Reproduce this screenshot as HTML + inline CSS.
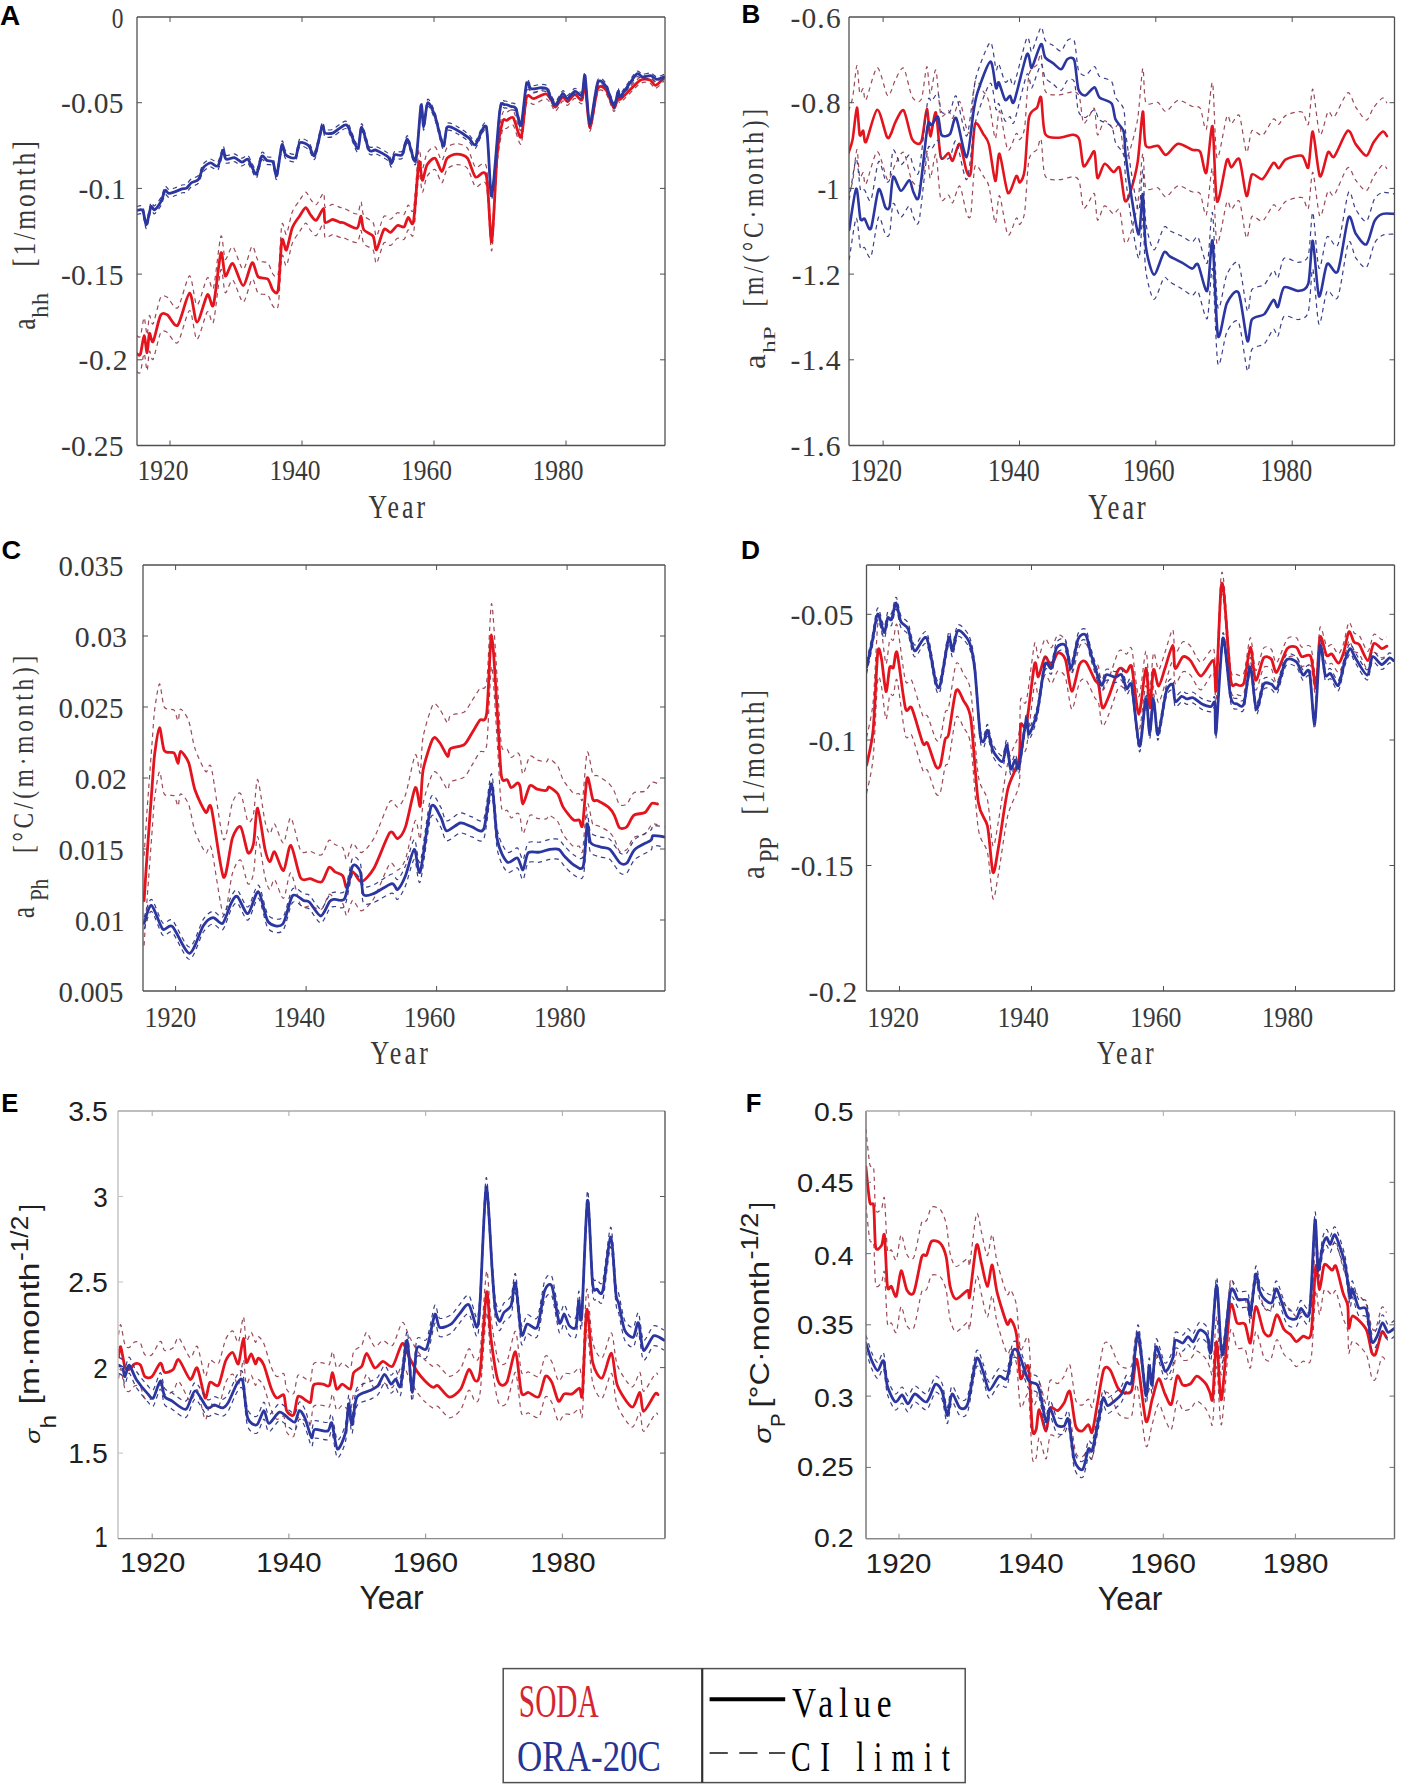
<!DOCTYPE html>
<html><head><meta charset="utf-8"><style>
html,body{margin:0;padding:0;background:#fff;}
body{width:1410px;height:1788px;overflow:hidden;font-family:"Liberation Sans",sans-serif;}
svg{position:absolute;left:0;top:0;}
</style></head><body>
<svg width="1410" height="1788" viewBox="0 0 1410 1788">
<defs><clipPath id="clipA"><rect x="137.0" y="17.0" width="528.0" height="428.5"/></clipPath>
<clipPath id="clipB"><rect x="849.0" y="17.0" width="545.5" height="428.5"/></clipPath>
<clipPath id="clipC"><rect x="143.0" y="565.0" width="522.0" height="426.0"/></clipPath>
<clipPath id="clipD"><rect x="866.5" y="565.0" width="528.0" height="426.0"/></clipPath>
<clipPath id="clipE"><rect x="118.0" y="1111.0" width="547.0" height="427.6"/></clipPath>
<clipPath id="clipF"><rect x="866.0" y="1111.0" width="528.5" height="427.7"/></clipPath></defs>
<path d="M136.7,335.5 C137.2,335.6 139.4,338.7 140.4,336.3 C141.4,334.0 143.2,317.9 144.1,317.7 C145.0,317.5 146.4,335.2 147.1,334.9 C147.8,334.7 148.6,317.1 149.4,315.6 C150.2,314.1 151.6,326.2 153.1,323.8 C154.6,321.5 158.6,301.4 160.5,297.8 C162.4,294.3 164.9,295.9 167.2,297.2 C169.5,298.5 174.7,310.6 177.7,307.8 C180.7,304.9 187.0,276.3 189.6,275.9 C192.2,275.6 194.6,304.8 197.0,305.0 C199.4,305.3 205.2,279.9 207.4,277.7 C209.6,275.4 211.6,293.7 213.4,288.2 C215.2,282.6 219.3,240.0 220.9,236.2 C222.5,232.3 223.7,257.8 225.3,259.2 C226.9,260.6 230.4,245.4 232.8,246.8 C235.2,248.1 240.6,269.3 243.2,269.2 C245.8,269.2 250.1,247.5 252.1,246.3 C254.1,245.2 256.0,258.3 258.1,260.5 C260.2,262.7 265.8,261.1 267.8,262.9 C269.8,264.7 271.6,272.7 273.0,274.2 C274.4,275.6 277.0,280.2 278.2,273.5 C279.4,266.9 280.8,229.7 281.9,224.4 C283.0,219.2 285.0,235.8 286.4,234.2 C287.8,232.5 290.5,216.5 292.3,212.0 C294.1,207.4 298.0,202.7 299.8,200.1 C301.6,197.4 304.3,192.2 305.7,192.1 C307.1,191.9 308.8,197.1 310.2,198.8 C311.6,200.5 314.4,205.6 316.2,204.8 C318.0,204.1 322.4,192.7 323.6,193.0 C324.8,193.4 323.9,205.7 325.1,207.2 C326.3,208.7 330.6,204.4 332.6,204.4 C334.6,204.4 338.5,206.9 340.0,207.4 C341.5,207.9 341.2,207.1 343.5,207.9 C345.8,208.8 354.7,214.7 357.0,213.9 C359.3,213.1 360.1,201.7 361.0,201.9 C361.9,202.1 362.1,212.8 363.7,215.5 C365.3,218.3 371.4,219.8 373.1,222.6 C374.8,225.3 375.1,237.0 376.5,236.2 C377.9,235.4 382.0,218.5 383.9,216.3 C385.8,214.0 388.8,219.7 390.6,219.2 C392.4,218.8 395.6,213.4 397.4,212.7 C399.2,212.1 402.7,215.4 404.1,214.4 C405.5,213.3 406.9,205.7 408.2,205.0 C409.5,204.4 412.1,216.6 413.5,209.3 C414.9,202.0 417.7,155.7 418.9,150.2 C420.1,144.8 421.2,168.2 422.3,168.6 C423.4,169.0 425.3,156.1 427.0,153.3 C428.7,150.4 433.1,145.9 435.1,146.9 C437.1,147.8 440.2,160.5 441.8,160.5 C443.4,160.6 445.2,149.6 447.2,147.3 C449.2,145.1 454.0,143.5 456.7,143.6 C459.4,143.7 464.9,145.0 467.4,148.1 C469.9,151.3 473.0,164.8 475.5,167.2 C478.0,169.7 484.1,157.7 486.3,166.4 C488.5,175.1 490.3,235.2 491.7,232.6 C493.1,229.9 495.7,162.6 497.1,146.7 C498.5,130.8 501.2,118.0 502.5,113.4 C503.8,108.9 505.1,112.8 506.5,112.4 C507.9,112.0 511.4,108.1 513.3,110.5 C515.2,112.9 519.3,133.0 521.1,130.4 C522.9,127.9 524.8,96.1 526.5,91.1 C528.2,86.1 531.2,93.2 533.8,92.9 C536.4,92.6 543.4,88.4 545.8,88.9 C548.2,89.3 550.5,94.6 551.8,96.5 C553.1,98.3 554.0,103.2 555.5,102.7 C557.0,102.2 561.1,93.7 562.7,93.0 C564.3,92.3 565.9,97.9 567.5,97.6 C569.1,97.3 572.9,90.8 574.8,90.6 C576.7,90.4 580.6,97.7 582.0,96.0 C583.4,94.4 584.0,74.5 585.0,78.2 C586.0,81.9 588.1,122.8 589.8,123.8 C591.5,124.7 595.5,90.2 597.7,85.3 C599.9,80.3 603.9,83.9 606.1,86.4 C608.3,89.0 612.3,103.8 613.9,104.5 C615.5,105.2 617.3,92.7 618.2,91.6 C619.1,90.4 617.7,97.5 620.6,95.6 C623.5,93.7 636.0,79.8 639.9,77.3 C643.8,74.8 647.9,76.2 650.0,76.9 C652.1,77.5 653.6,82.5 655.5,82.2 C657.4,82.0 662.9,76.0 664.0,75.0" fill="none" stroke="#9a4a58" stroke-width="1.2" stroke-dasharray="4.5 4" clip-path="url(#clipA)"/>
<path d="M136.7,371.5 C137.2,371.6 139.4,374.7 140.4,372.3 C141.4,369.9 143.2,353.7 144.1,353.5 C145.0,353.3 146.4,371.0 147.1,370.7 C147.8,370.4 148.6,352.7 149.4,351.2 C150.2,349.7 151.6,361.8 153.1,359.4 C154.6,357.0 158.6,336.8 160.5,333.2 C162.4,329.6 164.9,331.1 167.2,332.4 C169.5,333.6 174.7,345.6 177.7,342.6 C180.7,339.7 187.0,310.9 189.6,310.5 C192.2,310.0 194.6,339.2 197.0,339.4 C199.4,339.5 205.2,314.0 207.4,311.7 C209.6,309.4 211.6,327.6 213.4,322.0 C215.2,316.5 219.3,273.7 220.9,269.8 C222.5,265.9 223.7,291.4 225.3,292.8 C226.9,294.1 230.4,278.8 232.8,280.0 C235.2,281.3 240.6,302.3 243.2,302.2 C245.8,302.1 250.1,280.3 252.1,279.1 C254.1,277.8 256.0,290.9 258.1,293.1 C260.2,295.2 265.8,293.4 267.8,295.1 C269.8,296.9 271.6,304.9 273.0,306.2 C274.4,307.6 277.0,312.1 278.2,305.5 C279.4,298.8 280.8,261.5 281.9,256.2 C283.0,250.9 285.0,267.5 286.4,265.8 C287.8,264.1 290.5,248.0 292.3,243.4 C294.1,238.8 298.0,234.0 299.8,231.3 C301.6,228.6 304.3,223.3 305.7,223.1 C307.1,222.9 308.8,228.1 310.2,229.8 C311.6,231.4 314.4,236.4 316.2,235.6 C318.0,234.7 322.4,223.3 323.6,223.6 C324.8,223.8 323.9,236.2 325.1,237.6 C326.3,239.1 330.6,234.6 332.6,234.6 C334.6,234.6 338.5,237.0 340.0,237.4 C341.5,237.8 341.2,237.0 343.5,237.7 C345.8,238.4 354.7,243.5 357.0,242.5 C359.3,241.6 360.1,230.1 361.0,230.3 C361.9,230.4 362.1,241.1 363.7,243.7 C365.3,246.3 371.4,247.4 373.1,250.0 C374.8,252.7 375.1,264.3 376.5,263.4 C377.9,262.4 382.0,245.3 383.9,242.9 C385.8,240.5 388.8,246.0 390.6,245.4 C392.4,244.7 395.6,239.1 397.4,238.3 C399.2,237.5 402.7,240.6 404.1,239.4 C405.5,238.3 406.9,230.5 408.2,229.8 C409.5,229.0 412.1,241.1 413.5,233.7 C414.9,226.3 417.7,179.7 418.9,174.2 C420.1,168.6 421.2,191.9 422.3,192.2 C423.4,192.6 425.3,179.6 427.0,176.5 C428.7,173.5 433.1,168.7 435.1,169.5 C437.1,170.4 440.2,182.7 441.8,182.7 C443.4,182.6 445.2,171.5 447.2,169.1 C449.2,166.7 454.0,164.7 456.7,164.6 C459.4,164.5 464.9,165.3 467.4,168.3 C469.9,171.2 473.0,184.5 475.5,186.8 C478.0,189.0 484.1,176.5 486.3,185.0 C488.5,193.6 490.3,253.6 491.7,250.8 C493.1,248.1 495.7,180.4 497.1,164.3 C498.5,148.2 501.2,134.9 502.5,130.2 C503.8,125.4 505.1,129.1 506.5,128.4 C507.9,127.8 511.4,123.3 513.3,125.3 C515.2,127.4 519.3,146.8 521.1,144.0 C522.9,141.1 524.8,109.0 526.5,103.7 C528.2,98.4 531.2,105.0 533.8,104.3 C536.4,103.7 543.4,98.6 545.8,98.7 C548.2,98.9 550.5,103.9 551.8,105.5 C553.1,107.2 554.0,111.9 555.5,111.3 C557.0,110.7 561.1,101.8 562.7,101.0 C564.3,100.2 565.9,105.8 567.5,105.4 C569.1,105.1 572.9,98.6 574.8,98.4 C576.7,98.1 580.6,105.3 582.0,103.6 C583.4,101.9 584.0,82.1 585.0,85.8 C586.0,89.4 588.1,130.3 589.8,131.2 C591.5,132.1 595.5,97.6 597.7,92.5 C599.9,87.5 603.9,91.0 606.1,93.6 C608.3,96.1 612.3,110.8 613.9,111.5 C615.5,112.1 617.3,99.7 618.2,98.4 C619.1,97.2 617.7,104.4 620.6,102.4 C623.5,100.5 636.0,86.3 639.9,83.7 C643.8,81.2 647.9,82.5 650.0,83.1 C652.1,83.8 653.6,88.7 655.5,88.4 C657.4,88.1 662.9,82.0 664.0,81.0" fill="none" stroke="#9a4a58" stroke-width="1.2" stroke-dasharray="4.5 4" clip-path="url(#clipA)"/>
<path d="M136.7,353.5 C137.2,353.6 139.4,356.7 140.4,354.3 C141.4,351.9 143.2,335.8 144.1,335.6 C145.0,335.4 146.4,353.1 147.1,352.8 C147.8,352.5 148.6,334.9 149.4,333.4 C150.2,331.9 151.6,344.0 153.1,341.6 C154.6,339.2 158.6,319.1 160.5,315.5 C162.4,311.9 164.9,313.5 167.2,314.8 C169.5,316.1 174.7,328.1 177.7,325.2 C180.7,322.3 187.0,293.6 189.6,293.2 C192.2,292.8 194.6,322.0 197.0,322.2 C199.4,322.4 205.2,297.0 207.4,294.7 C209.6,292.4 211.6,310.7 213.4,305.1 C215.2,299.5 219.3,256.9 220.9,253.0 C222.5,249.1 223.7,274.6 225.3,276.0 C226.9,277.4 230.4,262.1 232.8,263.4 C235.2,264.7 240.6,285.8 243.2,285.7 C245.8,285.6 250.1,263.9 252.1,262.7 C254.1,261.5 256.0,274.6 258.1,276.8 C260.2,279.0 265.8,277.2 267.8,279.0 C269.8,280.8 271.6,288.8 273.0,290.2 C274.4,291.6 277.0,296.2 278.2,289.5 C279.4,282.8 280.8,245.6 281.9,240.3 C283.0,235.0 285.0,251.7 286.4,250.0 C287.8,248.3 290.5,232.3 292.3,227.7 C294.1,223.1 298.0,218.4 299.8,215.7 C301.6,213.0 304.3,207.8 305.7,207.6 C307.1,207.4 308.8,212.6 310.2,214.3 C311.6,216.0 314.4,221.0 316.2,220.2 C318.0,219.4 322.4,208.0 323.6,208.3 C324.8,208.6 323.9,220.9 325.1,222.4 C326.3,223.9 330.6,219.5 332.6,219.5 C334.6,219.5 338.5,222.0 340.0,222.4 C341.5,222.8 341.2,222.0 343.5,222.8 C345.8,223.6 354.7,229.1 357.0,228.2 C359.3,227.3 360.1,215.9 361.0,216.1 C361.9,216.3 362.1,226.9 363.7,229.6 C365.3,232.3 371.4,233.6 373.1,236.3 C374.8,239.0 375.1,250.7 376.5,249.8 C377.9,248.9 382.0,231.9 383.9,229.6 C385.8,227.3 388.8,232.8 390.6,232.3 C392.4,231.8 395.6,226.2 397.4,225.5 C399.2,224.8 402.7,228.0 404.1,226.9 C405.5,225.8 406.9,218.1 408.2,217.4 C409.5,216.7 412.1,228.9 413.5,221.5 C414.9,214.1 417.7,167.7 418.9,162.2 C420.1,156.7 421.2,180.0 422.3,180.4 C423.4,180.8 425.3,167.9 427.0,164.9 C428.7,161.9 433.1,157.3 435.1,158.2 C437.1,159.1 440.2,171.6 441.8,171.6 C443.4,171.6 445.2,160.5 447.2,158.2 C449.2,155.9 454.0,154.1 456.7,154.1 C459.4,154.1 464.9,155.1 467.4,158.2 C469.9,161.3 473.0,174.7 475.5,177.0 C478.0,179.3 484.1,167.1 486.3,175.7 C488.5,184.3 490.3,244.4 491.7,241.7 C493.1,239.0 495.7,171.5 497.1,155.5 C498.5,139.5 501.2,126.5 502.5,121.8 C503.8,117.1 505.1,120.9 506.5,120.4 C507.9,119.9 511.4,115.7 513.3,117.9 C515.2,120.1 519.3,139.9 521.1,137.2 C522.9,134.5 524.8,102.5 526.5,97.4 C528.2,92.3 531.2,99.1 533.8,98.6 C536.4,98.1 543.4,93.5 545.8,93.8 C548.2,94.1 550.5,99.2 551.8,101.0 C553.1,102.8 554.0,107.5 555.5,107.0 C557.0,106.5 561.1,97.7 562.7,97.0 C564.3,96.3 565.9,101.8 567.5,101.5 C569.1,101.2 572.9,94.7 574.8,94.5 C576.7,94.3 580.6,101.5 582.0,99.8 C583.4,98.1 584.0,78.3 585.0,82.0 C586.0,85.7 588.1,126.6 589.8,127.5 C591.5,128.4 595.5,93.9 597.7,88.9 C599.9,83.9 603.9,87.5 606.1,90.0 C608.3,92.5 612.3,107.3 613.9,108.0 C615.5,108.7 617.3,96.2 618.2,95.0 C619.1,93.8 617.7,100.9 620.6,99.0 C623.5,97.1 636.0,83.0 639.9,80.5 C643.8,78.0 647.9,79.4 650.0,80.0 C652.1,80.6 653.6,85.6 655.5,85.3 C657.4,85.0 662.9,79.0 664.0,78.0" fill="none" stroke="#e3141e" stroke-width="2.8" stroke-linejoin="round" stroke-linecap="round" clip-path="url(#clipA)"/>
<path d="M136.7,206.5 C137.5,206.5 141.4,204.6 142.7,206.5 C144.0,208.4 145.3,221.2 146.4,220.7 C147.5,220.2 149.8,204.8 150.9,202.8 C152.0,200.8 153.2,206.6 154.6,205.8 C156.0,205.0 159.9,199.5 161.3,196.9 C162.7,194.3 164.0,187.4 165.0,186.4 C166.0,185.4 167.4,189.2 168.7,189.4 C170.0,189.6 172.9,188.5 174.7,188.0 C176.5,187.4 180.5,185.5 182.1,185.0 C183.7,184.5 185.4,185.1 186.6,184.3 C187.8,183.5 189.5,180.3 191.1,179.1 C192.7,177.9 196.9,177.4 198.5,175.4 C200.1,173.4 201.4,166.4 203.0,164.2 C204.6,162.0 208.4,159.3 210.4,159.0 C212.4,158.7 216.2,163.7 217.9,162.0 C219.6,160.3 222.0,147.2 223.1,146.3 C224.2,145.4 224.6,154.3 226.1,155.3 C227.6,156.3 232.2,153.4 234.3,153.8 C236.4,154.2 239.9,158.0 241.7,158.2 C243.5,158.4 246.3,154.7 247.7,155.4 C249.1,156.0 250.9,161.5 252.1,163.5 C253.3,165.4 255.3,171.6 256.6,170.2 C257.9,168.7 260.4,154.2 261.8,152.4 C263.2,150.6 265.5,156.0 267.0,156.8 C268.5,157.6 271.7,156.3 273.0,158.3 C274.3,160.3 275.5,174.0 276.7,171.7 C277.9,169.4 280.7,144.0 281.9,141.2 C283.1,138.4 283.8,149.2 285.6,150.9 C287.4,152.6 293.4,155.5 295.3,153.9 C297.2,152.3 298.0,140.6 299.8,139.0 C301.6,137.4 306.7,140.3 308.7,141.9 C310.7,143.6 312.9,154.2 314.7,151.6 C316.5,149.1 320.7,125.6 322.1,122.7 C323.5,119.7 323.7,128.5 325.1,129.4 C326.5,130.3 330.6,130.1 332.6,129.4 C334.6,128.7 338.0,125.2 340.0,124.2 C342.0,123.2 345.2,119.3 347.5,122.1 C349.8,124.9 355.7,144.8 357.6,145.0 C359.5,145.2 360.2,123.3 361.7,123.5 C363.2,123.7 367.2,143.4 369.1,146.4 C371.0,149.5 373.3,145.5 375.8,146.4 C378.3,147.3 385.8,151.4 387.9,153.1 C390.0,154.9 390.4,160.1 391.3,159.9 C392.2,159.6 393.3,152.3 394.7,151.2 C396.1,150.0 400.4,153.2 402.1,151.2 C403.8,149.1 405.7,134.9 407.5,135.7 C409.3,136.5 413.8,161.7 415.6,157.2 C417.4,152.7 419.9,106.6 421.0,102.0 C422.1,97.4 422.8,123.3 423.7,122.9 C424.6,122.5 426.2,100.6 427.7,99.3 C429.2,98.0 433.0,107.1 435.1,112.8 C437.2,118.6 441.6,141.0 443.2,142.4 C444.8,143.9 445.4,125.8 447.2,123.6 C449.0,121.5 453.8,124.9 456.7,126.3 C459.6,127.8 466.3,132.4 468.8,134.4 C471.3,136.3 473.2,142.6 475.5,141.2 C477.8,139.7 484.1,116.9 486.3,123.7 C488.5,130.5 489.9,194.5 491.7,192.4 C493.5,190.2 498.1,119.7 499.8,107.5 C501.5,95.3 503.3,101.7 504.8,101.1 C506.3,100.5 509.4,102.5 510.9,103.0 C512.4,103.5 514.3,102.3 515.7,104.8 C517.1,107.3 519.7,124.9 521.1,121.7 C522.5,118.5 525.1,85.6 526.5,80.8 C527.9,75.9 529.4,85.1 531.3,85.6 C533.2,86.1 538.9,84.4 541.0,84.4 C543.1,84.5 545.7,84.4 547.0,85.7 C548.3,87.0 549.5,92.1 550.6,94.2 C551.7,96.3 553.9,101.9 555.5,101.4 C557.1,101.0 561.1,91.5 562.7,90.7 C564.3,89.9 565.9,95.8 567.5,95.5 C569.1,95.2 572.9,88.7 574.8,88.3 C576.7,87.8 580.6,94.1 582.0,92.0 C583.4,89.9 584.0,68.9 585.0,72.7 C586.0,76.6 588.1,120.0 589.8,120.9 C591.5,121.9 595.5,85.0 597.7,80.0 C599.9,75.0 603.9,80.6 606.1,83.6 C608.3,86.7 612.3,102.3 613.9,103.0 C615.5,103.6 617.3,89.8 618.2,88.5 C619.1,87.2 618.2,95.7 620.6,93.4 C623.0,91.2 633.3,74.4 636.2,71.8 C639.1,69.3 640.4,74.1 642.3,74.3 C644.2,74.4 648.8,72.8 650.7,73.1 C652.6,73.4 654.9,76.6 656.7,76.7 C658.5,76.9 663.0,74.7 664.0,74.4" fill="none" stroke="#3a3f88" stroke-width="1.2" stroke-dasharray="4.5 4" clip-path="url(#clipA)"/>
<path d="M136.7,214.5 C137.5,214.5 141.4,212.6 142.7,214.5 C144.0,216.4 145.3,229.2 146.4,228.7 C147.5,228.2 149.8,212.8 150.9,210.8 C152.0,208.8 153.2,214.6 154.6,213.8 C156.0,213.0 159.9,207.5 161.3,204.9 C162.7,202.3 164.0,195.4 165.0,194.4 C166.0,193.4 167.4,197.2 168.7,197.4 C170.0,197.6 172.9,196.5 174.7,195.8 C176.5,195.2 180.5,193.3 182.1,192.8 C183.7,192.3 185.4,192.9 186.6,192.1 C187.8,191.3 189.5,188.1 191.1,186.9 C192.7,185.7 196.9,185.2 198.5,183.2 C200.1,181.2 201.4,174.2 203.0,172.0 C204.6,169.8 208.4,167.1 210.4,166.8 C212.4,166.5 216.2,171.5 217.9,169.8 C219.6,168.1 222.0,155.0 223.1,154.1 C224.2,153.2 224.6,162.1 226.1,163.1 C227.6,164.1 232.2,161.2 234.3,161.6 C236.4,161.9 239.9,165.8 241.7,166.0 C243.5,166.2 246.3,162.4 247.7,163.0 C249.1,163.7 250.9,169.2 252.1,171.1 C253.3,173.1 255.3,179.3 256.6,177.8 C257.9,176.4 260.4,161.8 261.8,160.0 C263.2,158.2 265.5,163.6 267.0,164.4 C268.5,165.2 271.7,163.9 273.0,165.9 C274.3,167.9 275.5,181.6 276.7,179.3 C277.9,177.0 280.7,151.6 281.9,148.8 C283.1,146.0 283.8,156.8 285.6,158.5 C287.4,160.2 293.4,163.1 295.3,161.5 C297.2,159.9 298.0,148.2 299.8,146.6 C301.6,145.0 306.7,147.8 308.7,149.5 C310.7,151.1 312.9,161.7 314.7,159.2 C316.5,156.6 320.7,133.1 322.1,130.1 C323.5,127.2 323.7,135.9 325.1,136.8 C326.5,137.7 330.6,137.5 332.6,136.8 C334.6,136.1 338.0,132.6 340.0,131.6 C342.0,130.6 345.2,126.7 347.5,129.5 C349.8,132.3 355.7,152.2 357.6,152.4 C359.5,152.6 360.2,130.7 361.7,130.9 C363.2,131.1 367.2,150.7 369.1,153.8 C371.0,156.8 373.3,152.9 375.8,153.8 C378.3,154.7 385.8,158.7 387.9,160.5 C390.0,162.2 390.4,167.4 391.3,167.1 C392.2,166.9 393.3,159.6 394.7,158.4 C396.1,157.3 400.4,160.5 402.1,158.4 C403.8,156.4 405.7,142.1 407.5,142.9 C409.3,143.7 413.8,168.9 415.6,164.4 C417.4,159.9 419.9,113.8 421.0,109.2 C422.1,104.6 422.8,130.5 423.7,130.1 C424.6,129.7 426.2,107.8 427.7,106.5 C429.2,105.2 433.0,114.2 435.1,120.0 C437.2,125.7 441.6,148.1 443.2,149.6 C444.8,151.0 445.4,132.9 447.2,130.8 C449.0,128.6 453.8,132.0 456.7,133.5 C459.6,134.9 466.3,139.5 468.8,141.4 C471.3,143.4 473.2,149.7 475.5,148.2 C477.8,146.8 484.1,123.9 486.3,130.7 C488.5,137.5 489.9,201.6 491.7,199.4 C493.5,197.2 498.1,126.7 499.8,114.5 C501.5,102.3 503.3,108.7 504.8,108.1 C506.3,107.4 509.4,109.4 510.9,109.8 C512.4,110.3 514.3,109.1 515.7,111.6 C517.1,114.1 519.7,131.7 521.1,128.5 C522.5,125.3 525.1,92.3 526.5,87.4 C527.9,82.6 529.4,91.7 531.3,92.2 C533.2,92.7 538.9,91.0 541.0,91.0 C543.1,90.9 545.7,90.8 547.0,92.1 C548.3,93.4 549.5,98.5 550.6,100.6 C551.7,102.7 553.9,108.3 555.5,107.8 C557.1,107.3 561.1,97.7 562.7,96.9 C564.3,96.1 565.9,102.0 567.5,101.7 C569.1,101.3 572.9,94.8 574.8,94.3 C576.7,93.9 580.6,100.1 582.0,98.0 C583.4,95.9 584.0,74.8 585.0,78.7 C586.0,82.5 588.1,125.9 589.8,126.9 C591.5,127.8 595.5,90.8 597.7,85.8 C599.9,80.8 603.9,86.3 606.1,89.4 C608.3,92.4 612.3,108.0 613.9,108.6 C615.5,109.2 617.3,95.4 618.2,94.1 C619.1,92.8 618.2,101.2 620.6,99.0 C623.0,96.7 633.3,79.8 636.2,77.2 C639.1,74.6 640.4,79.4 642.3,79.5 C644.2,79.7 648.8,78.0 650.7,78.3 C652.6,78.6 654.9,81.7 656.7,81.9 C658.5,82.0 663.0,79.7 664.0,79.4" fill="none" stroke="#3a3f88" stroke-width="1.2" stroke-dasharray="4.5 4" clip-path="url(#clipA)"/>
<path d="M136.7,210.5 C137.5,210.5 141.4,208.6 142.7,210.5 C144.0,212.4 145.3,225.2 146.4,224.7 C147.5,224.2 149.8,208.8 150.9,206.8 C152.0,204.8 153.2,210.6 154.6,209.8 C156.0,209.0 159.9,203.5 161.3,200.9 C162.7,198.3 164.0,191.4 165.0,190.4 C166.0,189.4 167.4,193.2 168.7,193.4 C170.0,193.6 172.9,192.5 174.7,191.9 C176.5,191.3 180.5,189.4 182.1,188.9 C183.7,188.4 185.4,189.0 186.6,188.2 C187.8,187.4 189.5,184.2 191.1,183.0 C192.7,181.8 196.9,181.3 198.5,179.3 C200.1,177.3 201.4,170.3 203.0,168.1 C204.6,165.9 208.4,163.2 210.4,162.9 C212.4,162.6 216.2,167.6 217.9,165.9 C219.6,164.2 222.0,151.1 223.1,150.2 C224.2,149.3 224.6,158.2 226.1,159.2 C227.6,160.2 232.2,157.3 234.3,157.7 C236.4,158.1 239.9,161.9 241.7,162.1 C243.5,162.3 246.3,158.5 247.7,159.2 C249.1,159.9 250.9,165.3 252.1,167.3 C253.3,169.3 255.3,175.5 256.6,174.0 C257.9,172.5 260.4,158.0 261.8,156.2 C263.2,154.4 265.5,159.8 267.0,160.6 C268.5,161.4 271.7,160.1 273.0,162.1 C274.3,164.1 275.5,177.8 276.7,175.5 C277.9,173.2 280.7,147.8 281.9,145.0 C283.1,142.2 283.8,153.0 285.6,154.7 C287.4,156.4 293.4,159.3 295.3,157.7 C297.2,156.1 298.0,144.4 299.8,142.8 C301.6,141.2 306.7,144.0 308.7,145.7 C310.7,147.4 312.9,158.0 314.7,155.4 C316.5,152.8 320.7,129.4 322.1,126.4 C323.5,123.4 323.7,132.2 325.1,133.1 C326.5,134.0 330.6,133.8 332.6,133.1 C334.6,132.4 338.0,128.9 340.0,127.9 C342.0,126.9 345.2,123.0 347.5,125.8 C349.8,128.6 355.7,148.5 357.6,148.7 C359.5,148.9 360.2,127.0 361.7,127.2 C363.2,127.4 367.2,147.0 369.1,150.1 C371.0,153.2 373.3,149.2 375.8,150.1 C378.3,151.0 385.8,155.0 387.9,156.8 C390.0,158.6 390.4,163.8 391.3,163.5 C392.2,163.2 393.3,156.0 394.7,154.8 C396.1,153.6 400.4,156.9 402.1,154.8 C403.8,152.7 405.7,138.5 407.5,139.3 C409.3,140.1 413.8,165.3 415.6,160.8 C417.4,156.3 419.9,110.2 421.0,105.6 C422.1,101.0 422.8,126.9 423.7,126.5 C424.6,126.1 426.2,104.2 427.7,102.9 C429.2,101.6 433.0,110.7 435.1,116.4 C437.2,122.1 441.6,144.6 443.2,146.0 C444.8,147.4 445.4,129.3 447.2,127.2 C449.0,125.1 453.8,128.5 456.7,129.9 C459.6,131.3 466.3,135.9 468.8,137.9 C471.3,139.9 473.2,146.1 475.5,144.7 C477.8,143.3 484.1,120.4 486.3,127.2 C488.5,134.0 489.9,198.1 491.7,195.9 C493.5,193.7 498.1,123.2 499.8,111.0 C501.5,98.8 503.3,105.2 504.8,104.6 C506.3,104.0 509.4,105.9 510.9,106.4 C512.4,106.9 514.3,105.7 515.7,108.2 C517.1,110.7 519.7,128.3 521.1,125.1 C522.5,121.9 525.1,88.9 526.5,84.1 C527.9,79.3 529.4,88.4 531.3,88.9 C533.2,89.4 538.9,87.7 541.0,87.7 C543.1,87.7 545.7,87.6 547.0,88.9 C548.3,90.2 549.5,95.3 550.6,97.4 C551.7,99.5 553.9,105.1 555.5,104.6 C557.1,104.1 561.1,94.6 562.7,93.8 C564.3,93.0 565.9,98.9 567.5,98.6 C569.1,98.3 572.9,91.8 574.8,91.3 C576.7,90.8 580.6,97.1 582.0,95.0 C583.4,92.9 584.0,71.8 585.0,75.7 C586.0,79.6 588.1,122.9 589.8,123.9 C591.5,124.9 595.5,87.9 597.7,82.9 C599.9,77.9 603.9,83.4 606.1,86.5 C608.3,89.6 612.3,105.2 613.9,105.8 C615.5,106.4 617.3,92.6 618.2,91.3 C619.1,90.0 618.2,98.4 620.6,96.2 C623.0,94.0 633.3,77.1 636.2,74.5 C639.1,71.9 640.4,76.7 642.3,76.9 C644.2,77.1 648.8,75.4 650.7,75.7 C652.6,76.0 654.9,79.1 656.7,79.3 C658.5,79.5 663.0,77.2 664.0,76.9" fill="none" stroke="#2b36a0" stroke-width="2.8" stroke-linejoin="round" stroke-linecap="round" clip-path="url(#clipA)"/>
<path d="M848.5,111.0 C849.1,109.1 851.6,103.1 852.7,97.1 C853.8,91.0 856.0,66.1 856.9,65.6 C857.8,65.0 858.9,89.8 859.7,92.9 C860.5,95.9 862.4,87.7 863.2,88.6 C864.0,89.6 864.1,102.6 866.0,99.8 C867.9,97.0 874.4,68.2 877.2,67.6 C880.0,66.9 885.1,91.7 887.0,94.8 C888.9,98.0 890.0,93.3 891.1,91.3 C892.2,89.3 893.6,83.2 895.3,80.1 C897.0,77.0 901.5,65.9 903.7,68.2 C905.9,70.4 909.8,92.6 912.1,96.8 C914.4,101.0 919.2,103.6 921.2,99.6 C923.2,95.6 925.6,67.4 926.8,66.7 C928.0,65.9 929.1,93.5 930.3,93.9 C931.5,94.4 934.5,67.3 935.9,70.1 C937.3,72.9 939.1,109.4 940.8,114.8 C942.5,120.2 946.9,110.1 948.5,110.6 C950.1,111.0 951.2,119.4 952.7,118.2 C954.2,117.0 957.8,100.1 959.7,101.5 C961.6,102.9 965.1,124.9 966.6,128.7 C968.1,132.5 969.7,136.3 970.8,130.1 C971.9,123.8 973.3,87.0 975.0,81.8 C976.7,76.7 981.5,88.9 983.4,91.6 C985.3,94.3 987.4,95.8 989.0,102.1 C990.6,108.3 993.9,137.2 995.3,138.4 C996.7,139.5 997.8,109.5 999.5,111.0 C1001.2,112.6 1005.7,147.2 1007.9,150.2 C1010.1,153.2 1014.7,134.8 1016.3,133.4 C1017.9,132.0 1018.7,140.5 1019.8,139.6 C1020.9,138.8 1023.5,135.7 1024.7,127.0 C1025.9,118.4 1027.3,83.1 1029.0,74.8 C1030.7,66.5 1035.5,67.4 1037.1,64.7 C1038.7,62.0 1040.0,51.2 1041.1,54.6 C1042.2,58.1 1042.7,85.5 1045.1,90.8 C1047.5,96.2 1055.4,94.7 1059.2,94.8 C1063.0,94.9 1070.6,91.4 1073.3,91.7 C1076.0,92.0 1078.1,92.6 1079.4,96.8 C1080.7,100.9 1082.1,120.3 1083.4,122.9 C1084.7,125.4 1087.9,117.7 1089.4,115.8 C1090.9,113.9 1093.4,106.2 1094.5,108.7 C1095.6,111.3 1096.2,133.3 1097.5,134.9 C1098.8,136.5 1102.4,121.6 1104.5,120.8 C1106.6,120.0 1111.6,128.3 1113.6,128.8 C1115.6,129.4 1118.1,121.0 1119.6,124.8 C1121.1,128.6 1123.4,153.5 1124.7,157.0 C1126.0,160.5 1128.0,156.0 1129.7,150.9 C1131.4,145.7 1136.0,129.6 1137.7,118.6 C1139.4,107.6 1141.7,70.4 1142.8,68.3 C1143.9,66.1 1143.8,97.9 1145.8,102.5 C1147.8,107.0 1155.2,101.2 1157.9,102.4 C1160.6,103.6 1163.2,111.8 1165.9,111.5 C1168.6,111.2 1174.5,101.0 1178.0,100.3 C1181.5,99.6 1189.1,105.2 1192.1,106.3 C1195.1,107.3 1198.3,105.2 1200.2,108.2 C1202.1,111.3 1204.7,132.6 1206.3,129.2 C1207.9,125.8 1211.1,78.8 1212.5,82.6 C1213.9,86.4 1215.1,153.2 1217.0,157.8 C1218.9,162.3 1224.9,121.1 1226.8,116.5 C1228.7,112.0 1229.6,123.8 1231.3,123.7 C1233.0,123.6 1237.4,111.8 1239.4,115.6 C1241.4,119.4 1244.8,150.2 1246.5,152.2 C1248.2,154.3 1249.8,133.0 1251.9,130.7 C1254.0,128.4 1259.7,136.7 1262.6,135.2 C1265.5,133.6 1271.3,120.5 1273.4,119.0 C1275.5,117.6 1277.0,124.9 1278.7,124.4 C1280.4,123.9 1282.8,117.0 1285.9,115.4 C1289.0,113.7 1299.0,110.7 1302.0,112.0 C1305.0,113.2 1306.9,127.5 1308.3,124.4 C1309.7,121.4 1311.3,87.8 1312.8,89.2 C1314.3,90.6 1317.9,131.8 1319.9,134.8 C1321.9,137.8 1326.1,114.1 1328.0,111.7 C1329.9,109.4 1331.6,119.5 1334.2,116.9 C1336.8,114.4 1344.8,94.0 1347.7,92.7 C1350.6,91.4 1353.2,103.5 1355.7,107.1 C1358.2,110.8 1364.0,120.0 1366.4,120.1 C1368.8,120.1 1371.4,110.5 1373.6,107.6 C1375.8,104.7 1380.8,98.6 1382.6,98.0 C1384.4,97.4 1386.4,102.4 1387.0,103.1" fill="none" stroke="#9a4a58" stroke-width="1.2" stroke-dasharray="4.5 4" clip-path="url(#clipB)"/>
<path d="M848.5,195.0 C849.1,193.1 851.6,187.2 852.7,181.1 C853.8,175.0 856.0,150.2 856.9,149.6 C857.8,149.0 858.9,173.8 859.7,176.9 C860.5,180.0 862.4,171.8 863.2,172.7 C864.0,173.6 864.1,186.7 866.0,183.9 C867.9,181.1 874.4,152.4 877.2,151.7 C880.0,151.0 885.1,175.8 887.0,179.0 C888.9,182.2 890.0,177.5 891.1,175.5 C892.2,173.5 893.6,167.4 895.3,164.3 C897.0,161.2 901.5,150.2 903.7,152.4 C905.9,154.6 909.8,176.9 912.1,181.1 C914.4,185.3 919.2,187.9 921.2,183.9 C923.2,179.9 925.6,151.7 926.8,151.0 C928.0,150.3 929.1,177.8 930.3,178.3 C931.5,178.8 934.5,151.7 935.9,154.5 C937.3,157.3 939.1,193.8 940.8,199.2 C942.5,204.6 946.9,194.5 948.5,195.0 C950.1,195.5 951.2,203.9 952.7,202.7 C954.2,201.5 957.8,184.6 959.7,186.0 C961.6,187.4 965.1,209.4 966.6,213.2 C968.1,217.0 969.7,220.8 970.8,214.6 C971.9,208.4 973.3,171.5 975.0,166.4 C976.7,161.3 981.5,173.5 983.4,176.2 C985.3,178.9 987.4,180.5 989.0,186.7 C990.6,192.9 993.9,221.8 995.3,223.0 C996.7,224.2 997.8,194.1 999.5,195.7 C1001.2,197.3 1005.7,231.9 1007.9,234.9 C1010.1,237.9 1014.7,219.5 1016.3,218.1 C1017.9,216.7 1018.7,225.2 1019.8,224.4 C1020.9,223.6 1023.5,220.4 1024.7,211.8 C1025.9,203.2 1027.3,167.9 1029.0,159.6 C1030.7,151.3 1035.5,152.2 1037.1,149.5 C1038.7,146.8 1040.0,136.0 1041.1,139.5 C1042.2,143.0 1042.7,170.3 1045.1,175.7 C1047.5,181.1 1055.4,179.6 1059.2,179.7 C1063.0,179.8 1070.6,176.4 1073.3,176.7 C1076.0,177.0 1078.1,177.6 1079.4,181.8 C1080.7,186.0 1082.1,205.4 1083.4,207.9 C1084.7,210.4 1087.9,202.8 1089.4,200.9 C1090.9,199.0 1093.4,191.3 1094.5,193.8 C1095.6,196.3 1096.2,218.4 1097.5,220.0 C1098.8,221.6 1102.4,206.7 1104.5,205.9 C1106.6,205.1 1111.6,213.5 1113.6,214.0 C1115.6,214.5 1118.1,206.2 1119.6,210.0 C1121.1,213.8 1123.4,238.7 1124.7,242.2 C1126.0,245.7 1128.0,241.2 1129.7,236.1 C1131.4,231.0 1136.0,214.9 1137.7,203.9 C1139.4,192.9 1141.7,155.7 1142.8,153.6 C1143.9,151.5 1143.8,183.2 1145.8,187.8 C1147.8,192.4 1155.2,186.6 1157.9,187.8 C1160.6,189.0 1163.2,197.2 1165.9,196.9 C1168.6,196.6 1174.5,186.5 1178.0,185.8 C1181.5,185.1 1189.1,190.7 1192.1,191.8 C1195.1,192.9 1198.3,190.7 1200.2,193.8 C1202.1,196.9 1204.7,218.2 1206.3,214.8 C1207.9,211.4 1211.1,164.4 1212.5,168.2 C1213.9,172.0 1215.1,238.9 1217.0,243.4 C1218.9,247.9 1224.9,206.7 1226.8,202.2 C1228.7,197.7 1229.6,209.5 1231.3,209.4 C1233.0,209.3 1237.4,197.5 1239.4,201.3 C1241.4,205.1 1244.8,236.0 1246.5,238.0 C1248.2,240.0 1249.8,218.8 1251.9,216.5 C1254.0,214.2 1259.7,222.5 1262.6,221.0 C1265.5,219.5 1271.3,206.3 1273.4,204.9 C1275.5,203.5 1277.0,210.8 1278.7,210.3 C1280.4,209.8 1282.8,203.0 1285.9,201.3 C1289.0,199.6 1299.0,196.5 1302.0,197.5 C1305.0,198.5 1306.9,211.9 1308.3,208.5 C1309.7,205.2 1311.3,171.2 1312.8,172.3 C1314.3,173.3 1317.9,213.7 1319.9,216.2 C1321.9,218.7 1326.1,194.1 1328.0,191.3 C1329.9,188.4 1331.6,198.1 1334.2,195.0 C1336.8,191.9 1344.8,169.6 1347.7,167.7 C1350.6,165.7 1353.2,177.2 1355.7,180.2 C1358.2,183.3 1364.0,191.2 1366.4,190.7 C1368.8,190.2 1371.4,180.0 1373.6,176.6 C1375.8,173.1 1380.8,165.9 1382.6,164.9 C1384.4,163.9 1386.4,168.4 1387.0,168.9" fill="none" stroke="#9a4a58" stroke-width="1.2" stroke-dasharray="4.5 4" clip-path="url(#clipB)"/>
<path d="M848.5,153.0 C849.1,151.1 851.6,145.2 852.7,139.1 C853.8,133.0 856.0,108.2 856.9,107.6 C857.8,107.0 858.9,131.8 859.7,134.9 C860.5,138.0 862.4,129.8 863.2,130.7 C864.0,131.6 864.1,144.7 866.0,141.9 C867.9,139.1 874.4,110.4 877.2,109.7 C880.0,109.0 885.1,133.8 887.0,137.0 C888.9,140.2 890.0,135.5 891.1,133.5 C892.2,131.5 893.6,125.4 895.3,122.3 C897.0,119.2 901.5,108.2 903.7,110.4 C905.9,112.6 909.8,134.9 912.1,139.1 C914.4,143.3 919.2,145.9 921.2,141.9 C923.2,137.9 925.6,109.7 926.8,109.0 C928.0,108.3 929.1,135.8 930.3,136.3 C931.5,136.8 934.5,109.7 935.9,112.5 C937.3,115.3 939.1,151.8 940.8,157.2 C942.5,162.6 946.9,152.5 948.5,153.0 C950.1,153.5 951.2,161.9 952.7,160.7 C954.2,159.5 957.8,142.6 959.7,144.0 C961.6,145.4 965.1,167.4 966.6,171.2 C968.1,175.0 969.7,178.8 970.8,172.6 C971.9,166.4 973.3,129.5 975.0,124.4 C976.7,119.3 981.5,131.5 983.4,134.2 C985.3,136.9 987.4,138.5 989.0,144.7 C990.6,150.9 993.9,179.8 995.3,181.0 C996.7,182.2 997.8,152.1 999.5,153.7 C1001.2,155.3 1005.7,189.9 1007.9,192.9 C1010.1,195.9 1014.7,177.5 1016.3,176.1 C1017.9,174.7 1018.7,183.2 1019.8,182.4 C1020.9,181.6 1023.5,178.4 1024.7,169.8 C1025.9,161.2 1027.3,125.9 1029.0,117.6 C1030.7,109.3 1035.5,110.2 1037.1,107.5 C1038.7,104.8 1040.0,94.0 1041.1,97.5 C1042.2,101.0 1042.7,128.3 1045.1,133.7 C1047.5,139.1 1055.4,137.6 1059.2,137.7 C1063.0,137.8 1070.6,134.4 1073.3,134.7 C1076.0,135.0 1078.1,135.6 1079.4,139.8 C1080.7,144.0 1082.1,163.4 1083.4,165.9 C1084.7,168.4 1087.9,160.8 1089.4,158.9 C1090.9,157.0 1093.4,149.3 1094.5,151.8 C1095.6,154.3 1096.2,176.4 1097.5,178.0 C1098.8,179.6 1102.4,164.7 1104.5,163.9 C1106.6,163.1 1111.6,171.5 1113.6,172.0 C1115.6,172.5 1118.1,164.2 1119.6,168.0 C1121.1,171.8 1123.4,196.7 1124.7,200.2 C1126.0,203.7 1128.0,199.2 1129.7,194.1 C1131.4,189.0 1136.0,172.9 1137.7,161.9 C1139.4,150.9 1141.7,113.7 1142.8,111.6 C1143.9,109.5 1143.8,141.2 1145.8,145.8 C1147.8,150.4 1155.2,144.6 1157.9,145.8 C1160.6,147.0 1163.2,155.2 1165.9,154.9 C1168.6,154.6 1174.5,144.5 1178.0,143.8 C1181.5,143.1 1189.1,148.7 1192.1,149.8 C1195.1,150.9 1198.3,148.7 1200.2,151.8 C1202.1,154.9 1204.7,176.2 1206.3,172.8 C1207.9,169.4 1211.1,122.4 1212.5,126.2 C1213.9,130.0 1215.1,196.9 1217.0,201.4 C1218.9,205.9 1224.9,164.7 1226.8,160.2 C1228.7,155.7 1229.6,167.5 1231.3,167.4 C1233.0,167.3 1237.4,155.5 1239.4,159.3 C1241.4,163.1 1244.8,194.0 1246.5,196.0 C1248.2,198.0 1249.8,176.8 1251.9,174.5 C1254.0,172.2 1259.7,180.5 1262.6,179.0 C1265.5,177.5 1271.3,164.3 1273.4,162.9 C1275.5,161.5 1277.0,168.8 1278.7,168.3 C1280.4,167.8 1282.8,161.0 1285.9,159.3 C1289.0,157.6 1299.0,154.6 1302.0,155.7 C1305.0,156.8 1306.9,170.6 1308.3,167.4 C1309.7,164.2 1311.3,130.4 1312.8,131.6 C1314.3,132.8 1317.9,173.6 1319.9,176.3 C1321.9,179.0 1326.1,154.8 1328.0,152.2 C1329.9,149.6 1331.6,159.5 1334.2,156.6 C1336.8,153.7 1344.8,132.4 1347.7,130.7 C1350.6,129.0 1353.2,140.8 1355.7,144.1 C1358.2,147.4 1364.0,155.9 1366.4,155.7 C1368.8,155.5 1371.4,145.5 1373.6,142.3 C1375.8,139.1 1380.8,132.4 1382.6,131.6 C1384.4,130.8 1386.4,135.5 1387.0,136.1" fill="none" stroke="#e3141e" stroke-width="2.6" stroke-linejoin="round" stroke-linecap="round" clip-path="url(#clipB)"/>
<path d="M849.2,199.9 C850.1,194.5 854.7,160.6 856.2,159.2 C857.7,157.9 859.3,185.5 860.4,189.6 C861.5,193.7 863.2,188.6 864.6,190.0 C866.0,191.4 869.0,203.9 870.9,200.1 C872.8,196.3 876.7,164.2 878.6,161.6 C880.5,159.0 884.0,178.0 885.5,180.3 C887.0,182.7 888.7,183.2 889.7,179.2 C890.7,175.2 891.7,152.0 893.2,150.1 C894.7,148.1 898.8,164.0 900.9,164.6 C903.0,165.3 907.6,154.5 909.3,154.8 C911.0,155.1 912.2,164.8 913.5,167.0 C914.8,169.1 917.2,179.5 919.1,170.9 C921.0,162.3 925.8,111.6 927.5,102.3 C929.2,93.0 930.3,102.4 931.7,101.2 C933.1,100.0 936.7,91.9 938.0,93.3 C939.3,94.8 939.9,109.4 941.5,111.8 C943.1,114.3 947.9,113.9 949.9,111.8 C951.9,109.7 954.0,93.0 956.2,96.2 C958.4,99.4 964.3,136.9 966.6,136.1 C968.9,135.4 972.1,99.2 973.6,90.6 C975.1,81.9 975.6,77.8 977.8,71.3 C980.0,64.9 988.0,42.6 990.4,42.3 C992.8,42.1 994.9,66.4 996.0,69.3 C997.1,72.2 997.6,62.2 998.8,63.9 C1000.0,65.6 1003.6,80.0 1005.1,81.9 C1006.6,83.8 1008.8,77.8 1010.0,78.1 C1011.2,78.4 1012.0,89.4 1014.2,84.0 C1016.4,78.7 1024.6,42.6 1026.8,38.2 C1029.0,33.8 1030.2,49.6 1031.0,51.0 C1031.8,52.5 1031.7,52.2 1033.0,49.1 C1034.3,45.9 1039.5,28.5 1041.1,27.3 C1042.7,26.1 1043.5,37.7 1045.1,40.1 C1046.7,42.5 1051.1,44.2 1053.2,45.6 C1055.3,47.1 1059.3,51.7 1061.2,51.0 C1063.1,50.3 1065.6,41.8 1067.3,40.5 C1069.0,39.1 1072.8,37.1 1074.3,41.0 C1075.8,44.9 1076.9,65.3 1078.4,69.9 C1079.9,74.5 1083.3,75.9 1085.4,75.5 C1087.5,75.0 1092.6,66.6 1094.5,66.7 C1096.4,66.8 1097.2,74.5 1099.5,76.4 C1101.8,78.4 1109.5,78.8 1111.6,81.6 C1113.7,84.4 1114.0,93.7 1115.6,97.4 C1117.2,101.0 1122.4,104.1 1123.7,108.9 C1125.0,113.6 1124.6,124.2 1125.7,132.9 C1126.8,141.7 1130.0,164.4 1131.7,174.7 C1133.4,185.0 1137.3,211.1 1138.8,210.5 C1140.3,209.9 1141.9,168.4 1142.8,169.9 C1143.7,171.5 1144.3,211.5 1145.8,222.2 C1147.3,232.8 1151.5,249.2 1153.9,249.8 C1156.3,250.5 1161.8,229.7 1163.9,227.2 C1166.0,224.7 1167.6,229.6 1170.0,230.9 C1172.4,232.1 1179.1,234.9 1182.0,236.3 C1184.9,237.8 1190.0,241.6 1192.1,241.8 C1194.2,241.9 1196.1,234.6 1198.1,237.4 C1200.1,240.3 1205.3,266.5 1207.2,263.2 C1209.1,260.0 1211.1,207.0 1212.5,212.8 C1213.9,218.7 1216.0,299.1 1217.9,307.4 C1219.8,315.6 1224.1,280.5 1226.8,274.7 C1229.5,268.8 1235.8,258.5 1238.5,263.3 C1241.2,268.2 1245.6,307.6 1247.4,311.1 C1249.2,314.6 1249.6,293.1 1251.9,289.6 C1254.2,286.0 1261.5,287.1 1264.4,284.5 C1267.3,282.0 1271.6,271.4 1273.4,270.5 C1275.2,269.6 1276.5,279.4 1277.9,277.8 C1279.3,276.2 1281.4,260.3 1284.1,258.3 C1286.8,256.2 1295.2,262.7 1298.4,262.3 C1301.6,261.9 1306.4,262.0 1308.3,255.4 C1310.2,248.7 1311.4,210.9 1312.8,212.6 C1314.2,214.3 1317.1,264.9 1319.0,268.2 C1320.9,271.4 1324.6,239.8 1327.1,236.8 C1329.6,233.7 1334.9,251.0 1337.8,245.1 C1340.7,239.2 1346.1,197.3 1348.5,192.5 C1350.9,187.8 1353.3,205.6 1355.7,209.4 C1358.1,213.2 1363.9,222.6 1366.4,221.2 C1368.9,219.9 1372.3,202.7 1374.5,198.9 C1376.7,195.1 1380.0,193.3 1382.6,192.6 C1385.2,191.9 1392.7,193.6 1394.2,193.8" fill="none" stroke="#3a3f88" stroke-width="1.2" stroke-dasharray="4.5 4" clip-path="url(#clipB)"/>
<path d="M849.2,259.9 C850.1,254.3 854.7,219.8 856.2,218.2 C857.7,216.6 859.3,244.0 860.4,248.0 C861.5,251.9 863.2,246.5 864.6,247.6 C866.0,248.8 869.0,260.9 870.9,256.9 C872.8,252.8 876.7,220.1 878.6,217.2 C880.5,214.3 884.0,232.8 885.5,234.9 C887.0,237.0 888.7,237.4 889.7,233.2 C890.7,229.0 891.7,205.7 893.2,203.5 C894.7,201.4 898.8,216.6 900.9,217.0 C903.0,217.3 907.6,205.8 909.3,205.8 C911.0,205.9 912.2,215.5 913.5,217.4 C914.8,219.4 917.2,229.4 919.1,220.5 C921.0,211.6 925.8,160.2 927.5,150.7 C929.2,141.2 930.3,150.4 931.7,149.0 C933.1,147.7 936.7,139.1 938.0,140.4 C939.3,141.6 939.9,156.2 941.5,158.4 C943.1,160.7 947.9,159.7 949.9,157.4 C951.9,155.1 954.0,138.1 956.2,141.1 C958.4,144.0 964.3,180.8 966.6,179.7 C968.9,178.7 972.1,142.2 973.6,133.4 C975.1,124.5 975.6,120.3 977.8,113.6 C980.0,106.9 988.0,83.6 990.4,83.1 C992.8,82.5 994.9,106.6 996.0,109.4 C997.1,112.1 997.6,102.1 998.8,103.6 C1000.0,105.2 1003.6,119.2 1005.1,120.9 C1006.6,122.6 1008.8,116.4 1010.0,116.5 C1011.2,116.6 1012.0,127.5 1014.2,121.9 C1016.4,116.3 1024.6,79.3 1026.8,74.6 C1029.0,70.0 1030.2,85.7 1031.0,87.1 C1031.8,88.6 1031.7,88.4 1033.0,85.4 C1034.3,82.4 1039.5,65.5 1041.1,64.5 C1042.7,63.5 1043.5,75.1 1045.1,77.7 C1046.7,80.4 1051.1,82.5 1053.2,84.1 C1055.3,85.8 1059.3,90.9 1061.2,90.4 C1063.1,90.0 1065.6,81.7 1067.3,80.6 C1069.0,79.4 1072.8,77.7 1074.3,81.8 C1075.8,85.9 1076.9,106.4 1078.4,111.2 C1079.9,115.9 1083.3,117.7 1085.4,117.5 C1087.5,117.3 1092.6,109.4 1094.5,109.7 C1096.4,110.1 1097.2,117.8 1099.5,120.0 C1101.8,122.3 1109.5,123.4 1111.6,126.5 C1113.7,129.5 1114.0,138.9 1115.6,142.7 C1117.2,146.5 1122.4,150.2 1123.7,155.1 C1125.0,160.0 1124.6,170.5 1125.7,179.4 C1126.8,188.3 1130.0,211.3 1131.7,221.8 C1133.4,232.3 1137.3,258.8 1138.8,258.4 C1140.3,257.9 1141.9,216.6 1142.8,218.3 C1143.7,219.9 1144.3,260.0 1145.8,270.8 C1147.3,281.6 1151.5,298.4 1153.9,299.4 C1156.3,300.3 1161.8,280.1 1163.9,277.8 C1166.0,275.5 1167.6,280.7 1170.0,282.1 C1172.4,283.6 1179.1,287.1 1182.0,288.9 C1184.9,290.7 1190.0,295.1 1192.1,295.4 C1194.2,295.8 1196.1,288.7 1198.1,291.8 C1200.1,294.9 1205.3,321.6 1207.2,318.6 C1209.1,315.5 1211.1,262.7 1212.5,268.8 C1213.9,274.8 1216.0,355.4 1217.9,363.8 C1219.8,372.3 1224.1,337.7 1226.8,332.1 C1229.5,326.6 1235.8,316.9 1238.5,322.1 C1241.2,327.2 1245.6,367.2 1247.4,370.9 C1249.2,374.5 1249.6,353.1 1251.9,349.4 C1254.2,345.8 1261.5,346.4 1264.4,343.7 C1267.3,341.0 1271.6,330.1 1273.4,329.1 C1275.2,328.1 1276.5,337.9 1277.9,336.2 C1279.3,334.5 1281.4,318.6 1284.1,316.3 C1286.8,314.1 1295.2,320.1 1298.4,319.5 C1301.6,318.9 1306.4,318.8 1308.3,312.0 C1310.2,305.3 1311.4,267.4 1312.8,269.0 C1314.2,270.6 1317.1,321.3 1319.0,324.2 C1320.9,327.2 1324.6,294.8 1327.1,291.2 C1329.6,287.7 1334.9,303.8 1337.8,297.3 C1340.7,290.8 1346.1,247.7 1348.5,242.5 C1350.9,237.2 1353.3,254.5 1355.7,257.8 C1358.1,261.1 1363.9,269.3 1366.4,267.4 C1368.9,265.4 1372.3,247.6 1374.5,243.3 C1376.7,239.0 1380.0,236.5 1382.6,235.2 C1385.2,234.0 1392.7,234.2 1394.2,234.0" fill="none" stroke="#3a3f88" stroke-width="1.2" stroke-dasharray="4.5 4" clip-path="url(#clipB)"/>
<path d="M849.2,229.9 C850.1,224.4 854.7,190.2 856.2,188.7 C857.7,187.2 859.3,214.8 860.4,218.8 C861.5,222.8 863.2,217.5 864.6,218.8 C866.0,220.1 869.0,232.4 870.9,228.5 C872.8,224.6 876.7,192.2 878.6,189.4 C880.5,186.6 884.0,205.4 885.5,207.6 C887.0,209.8 888.7,210.3 889.7,206.2 C890.7,202.1 891.7,178.9 893.2,176.8 C894.7,174.7 898.8,190.3 900.9,190.8 C903.0,191.3 907.6,180.1 909.3,180.3 C911.0,180.5 912.2,190.1 913.5,192.2 C914.8,194.3 917.2,204.5 919.1,195.7 C921.0,186.9 925.8,135.9 927.5,126.5 C929.2,117.1 930.3,126.4 931.7,125.1 C933.1,123.8 936.7,115.4 938.0,116.7 C939.3,118.0 939.9,132.6 941.5,134.9 C943.1,137.2 947.9,136.4 949.9,134.2 C951.9,132.0 954.0,115.0 956.2,118.1 C958.4,121.2 964.3,158.1 966.6,157.2 C968.9,156.3 972.1,119.9 973.6,111.1 C975.1,102.3 975.6,98.1 977.8,91.5 C980.0,84.9 988.0,62.0 990.4,61.5 C992.8,61.0 994.9,85.2 996.0,88.0 C997.1,90.8 997.6,80.8 998.8,82.4 C1000.0,84.0 1003.6,98.1 1005.1,99.9 C1006.6,101.7 1008.8,95.5 1010.0,95.7 C1011.2,95.9 1012.0,106.8 1014.2,101.3 C1016.4,95.8 1024.6,59.1 1026.8,54.5 C1029.0,49.9 1030.2,65.7 1031.0,67.1 C1031.8,68.5 1031.7,68.4 1033.0,65.3 C1034.3,62.2 1039.5,45.2 1041.1,44.1 C1042.7,43.0 1043.5,54.6 1045.1,57.2 C1046.7,59.8 1051.1,61.7 1053.2,63.3 C1055.3,64.9 1059.3,69.8 1061.2,69.3 C1063.1,68.8 1065.6,60.4 1067.3,59.2 C1069.0,58.0 1072.8,56.2 1074.3,60.2 C1075.8,64.2 1076.9,84.7 1078.4,89.4 C1079.9,94.1 1083.3,95.8 1085.4,95.5 C1087.5,95.2 1092.6,87.1 1094.5,87.4 C1096.4,87.7 1097.2,95.4 1099.5,97.5 C1101.8,99.6 1109.5,100.6 1111.6,103.5 C1113.7,106.4 1114.0,115.8 1115.6,119.6 C1117.2,123.4 1122.4,126.9 1123.7,131.7 C1125.0,136.5 1124.6,147.0 1125.7,155.9 C1126.8,164.8 1130.0,187.6 1131.7,198.1 C1133.4,208.6 1137.3,234.9 1138.8,234.4 C1140.3,233.9 1141.9,192.5 1142.8,194.1 C1143.7,195.7 1144.3,235.8 1145.8,246.5 C1147.3,257.2 1151.5,273.8 1153.9,274.6 C1156.3,275.4 1161.8,254.9 1163.9,252.5 C1166.0,250.1 1167.6,255.2 1170.0,256.5 C1172.4,257.8 1179.1,261.0 1182.0,262.6 C1184.9,264.2 1190.0,268.3 1192.1,268.6 C1194.2,268.9 1196.1,261.6 1198.1,264.6 C1200.1,267.6 1205.3,294.1 1207.2,290.9 C1209.1,287.7 1211.1,234.8 1212.5,240.8 C1213.9,246.8 1216.0,327.3 1217.9,335.6 C1219.8,343.9 1224.1,309.1 1226.8,303.4 C1229.5,297.7 1235.8,287.7 1238.5,292.7 C1241.2,297.7 1245.6,337.4 1247.4,341.0 C1249.2,344.6 1249.6,323.1 1251.9,319.5 C1254.2,315.9 1261.5,316.7 1264.4,314.1 C1267.3,311.5 1271.6,300.7 1273.4,299.8 C1275.2,298.9 1276.5,308.7 1277.9,307.0 C1279.3,305.3 1281.4,289.4 1284.1,287.3 C1286.8,285.2 1295.2,291.4 1298.4,290.9 C1301.6,290.4 1306.4,290.4 1308.3,283.7 C1310.2,277.0 1311.4,239.1 1312.8,240.8 C1314.2,242.5 1317.1,293.1 1319.0,296.2 C1320.9,299.3 1324.6,267.3 1327.1,264.0 C1329.6,260.7 1334.9,277.4 1337.8,271.2 C1340.7,265.0 1346.1,222.5 1348.5,217.5 C1350.9,212.5 1353.3,230.0 1355.7,233.6 C1358.1,237.2 1363.9,246.0 1366.4,244.3 C1368.9,242.6 1372.3,225.2 1374.5,221.1 C1376.7,217.0 1380.0,214.9 1382.6,213.9 C1385.2,212.9 1392.7,213.9 1394.2,213.9" fill="none" stroke="#2b36a0" stroke-width="2.6" stroke-linejoin="round" stroke-linecap="round" clip-path="url(#clipB)"/>
<path d="M144.1,855.7 C144.5,849.2 146.2,822.5 147.3,807.2 C148.4,791.9 151.2,753.9 152.2,741.0 C153.2,728.1 153.6,718.0 154.6,710.4 C155.6,702.8 158.2,684.4 159.5,683.9 C160.8,683.5 162.4,703.6 164.3,707.1 C166.2,710.6 172.3,708.3 174.1,710.2 C175.9,712.0 177.2,721.1 178.1,720.9 C179.0,720.8 179.1,709.0 180.5,709.0 C181.9,709.0 186.8,715.6 188.7,720.9 C190.6,726.2 192.8,742.2 195.1,748.9 C197.4,755.7 203.5,769.0 205.7,771.6 C207.9,774.1 209.0,758.8 211.4,767.9 C213.8,776.9 220.7,834.7 223.5,839.4 C226.3,844.0 230.1,808.8 232.4,802.7 C234.7,796.6 238.5,791.1 240.6,793.6 C242.7,796.1 246.2,818.7 247.9,821.5 C249.6,824.2 252.2,819.7 253.5,814.1 C254.8,808.5 256.1,778.6 257.6,779.5 C259.1,780.4 263.3,813.5 264.9,820.8 C266.5,828.0 268.5,833.4 269.8,833.8 C271.1,834.3 272.8,822.9 274.6,824.1 C276.4,825.3 281.3,843.8 283.5,842.9 C285.7,842.1 288.5,816.8 290.8,817.8 C293.1,818.8 298.0,846.0 300.6,850.5 C303.2,855.0 307.5,850.8 310.3,851.4 C313.1,852.0 319.2,856.3 321.7,854.8 C324.2,853.3 327.2,841.6 329.0,840.3 C330.8,838.9 333.2,843.5 335.0,844.6 C336.8,845.6 341.2,846.0 342.8,847.9 C344.4,849.9 345.4,860.0 346.7,859.4 C348.0,858.8 350.6,844.3 352.6,843.4 C354.6,842.5 358.5,853.3 361.4,852.6 C364.3,851.9 370.3,844.8 374.1,838.0 C377.9,831.2 386.7,805.8 389.8,801.6 C392.9,797.5 395.5,807.9 397.6,807.0 C399.7,806.1 403.1,801.7 405.5,794.8 C407.9,787.8 413.3,757.8 415.3,754.9 C417.3,752.0 419.2,775.6 420.2,773.2 C421.2,770.8 421.4,745.9 423.1,736.8 C424.8,727.7 430.7,708.5 432.9,704.8 C435.1,701.1 437.7,706.6 439.7,709.0 C441.7,711.4 446.2,722.2 447.6,723.1 C449.0,723.9 448.3,716.9 450.5,715.4 C452.7,713.9 461.3,714.0 464.2,712.1 C467.1,710.1 469.9,703.9 472.0,700.7 C474.1,697.6 477.9,690.9 479.9,688.4 C481.9,685.9 485.1,693.1 486.7,681.8 C488.3,670.5 490.2,603.4 491.6,603.7 C493.0,604.1 496.2,665.5 497.5,684.3 C498.8,703.2 500.1,736.5 501.4,745.2 C502.7,753.9 506.0,747.8 507.3,749.4 C508.6,751.0 509.9,756.9 511.2,757.4 C512.5,757.8 516.2,753.0 517.4,752.9 C518.6,752.9 519.5,754.2 520.2,757.1 C520.9,759.9 521.7,774.3 523.0,774.2 C524.3,774.1 528.0,758.2 529.9,756.3 C531.8,754.4 535.0,759.3 537.2,760.1 C539.4,760.8 544.7,762.0 546.3,761.9 C547.9,761.7 547.6,758.1 549.1,758.7 C550.6,759.2 555.8,763.2 557.7,766.1 C559.6,768.9 561.2,776.4 563.3,780.1 C565.4,783.7 571.4,791.5 573.5,793.3 C575.6,795.1 578.0,793.0 579.2,793.7 C580.4,794.5 581.5,804.6 582.6,799.1 C583.7,793.5 585.8,755.6 587.2,752.3 C588.6,749.0 591.4,771.1 592.8,774.2 C594.2,777.3 595.3,774.5 597.4,775.7 C599.5,777.0 606.4,781.2 608.7,783.3 C611.0,785.5 613.0,788.8 614.4,791.7 C615.8,794.5 617.8,802.9 619.5,804.5 C621.2,806.2 625.0,805.5 626.9,804.0 C628.8,802.4 631.3,794.8 633.7,793.0 C636.1,791.3 642.6,792.5 645.0,791.1 C647.4,789.6 650.1,783.5 651.8,782.4 C653.5,781.4 656.7,783.3 657.5,783.5" fill="none" stroke="#9a4a58" stroke-width="1.2" stroke-dasharray="4.5 4" clip-path="url(#clipC)"/>
<path d="M144.1,945.5 C144.5,939.0 146.2,912.0 147.3,896.6 C148.4,881.2 151.2,842.8 152.2,829.8 C153.2,816.7 153.6,806.5 154.6,798.8 C155.6,791.0 158.2,772.3 159.5,771.7 C160.8,771.0 162.4,790.9 164.3,794.1 C166.2,797.3 172.3,794.2 174.1,795.8 C175.9,797.4 177.2,806.3 178.1,806.1 C179.0,805.8 179.1,794.0 180.5,793.8 C181.9,793.6 186.8,799.5 188.7,804.5 C190.6,809.6 192.8,825.2 195.1,831.7 C197.4,838.1 203.5,850.6 205.7,852.8 C207.9,855.1 209.0,840.1 211.4,848.4 C213.8,856.6 220.7,911.5 223.5,914.8 C226.3,918.2 230.1,880.8 232.4,873.5 C234.7,866.1 238.5,858.6 240.6,860.0 C242.7,861.4 246.2,882.1 247.9,883.9 C249.6,885.7 252.2,879.8 253.5,873.5 C254.8,867.2 256.1,836.3 257.6,836.7 C259.1,837.2 263.3,869.6 264.9,876.6 C266.5,883.7 268.5,889.2 269.8,889.6 C271.1,890.0 272.8,878.5 274.6,879.7 C276.4,880.9 281.3,899.2 283.5,898.3 C285.7,897.4 288.5,872.0 290.8,873.0 C293.1,873.9 298.0,900.9 300.6,905.3 C303.2,909.7 307.5,905.5 310.3,906.0 C313.1,906.5 319.2,910.6 321.7,909.0 C324.2,907.5 327.2,895.6 329.0,894.3 C330.8,893.0 333.2,898.0 335.0,899.2 C336.8,900.5 341.2,901.5 342.8,903.7 C344.4,905.9 345.4,916.1 346.7,915.6 C348.0,915.2 350.6,901.1 352.6,900.4 C354.6,899.8 358.5,911.2 361.4,910.8 C364.3,910.5 370.3,904.3 374.1,898.0 C377.9,891.7 386.7,867.5 389.8,863.8 C392.9,860.1 395.5,870.8 397.6,870.2 C399.7,869.6 403.1,865.7 405.5,859.0 C407.9,852.4 413.3,823.1 415.3,820.5 C417.3,817.9 419.2,841.7 420.2,839.4 C421.2,837.2 421.4,812.3 423.1,803.4 C424.8,794.5 430.7,776.4 432.9,772.8 C435.1,769.2 437.7,774.1 439.7,776.4 C441.7,778.6 446.2,789.0 447.6,789.7 C449.0,790.4 448.3,783.5 450.5,781.8 C452.7,780.1 461.3,779.4 464.2,777.1 C467.1,774.9 469.9,768.4 472.0,765.1 C474.1,761.7 477.9,754.7 479.9,752.0 C481.9,749.3 485.1,756.2 486.7,744.8 C488.3,733.4 490.2,666.1 491.6,666.3 C493.0,666.5 496.2,727.5 497.5,746.3 C498.8,765.0 500.1,798.3 501.4,806.8 C502.7,815.4 506.0,808.9 507.3,810.4 C508.6,811.9 509.9,817.7 511.2,818.0 C512.5,818.4 516.2,813.2 517.4,813.1 C518.6,812.9 519.5,814.2 520.2,816.9 C520.9,819.7 521.7,834.0 523.0,833.8 C524.3,833.6 528.0,817.3 529.9,815.3 C531.8,813.2 535.0,817.8 537.2,818.3 C539.4,818.8 544.7,819.3 546.3,818.9 C547.9,818.5 547.6,815.0 549.1,815.3 C550.6,815.7 555.8,818.9 557.7,821.5 C559.6,824.1 561.2,831.4 563.3,834.7 C565.4,838.1 571.4,845.0 573.5,846.5 C575.6,848.0 578.0,845.5 579.2,846.1 C580.4,846.7 581.5,856.6 582.6,850.9 C583.7,845.3 585.8,807.0 587.2,803.5 C588.6,800.0 591.4,821.7 592.8,824.6 C594.2,827.5 595.3,824.6 597.4,825.5 C599.5,826.4 606.4,829.7 608.7,831.5 C611.0,833.3 613.0,836.3 614.4,838.9 C615.8,841.6 617.8,849.7 619.5,851.1 C621.2,852.5 625.0,851.2 626.9,849.4 C628.8,847.6 631.3,839.6 633.7,837.6 C636.1,835.5 642.6,835.7 645.0,833.9 C647.4,832.2 650.1,825.6 651.8,824.4 C653.5,823.1 656.7,824.5 657.5,824.5" fill="none" stroke="#9a4a58" stroke-width="1.2" stroke-dasharray="4.5 4" clip-path="url(#clipC)"/>
<path d="M144.1,900.6 C144.5,894.1 146.2,867.3 147.3,851.9 C148.4,836.5 151.2,798.4 152.2,785.4 C153.2,772.4 153.6,762.3 154.6,754.6 C155.6,746.9 158.2,728.3 159.5,727.8 C160.8,727.3 162.4,747.2 164.3,750.6 C166.2,754.0 172.3,751.3 174.1,753.0 C175.9,754.7 177.2,763.7 178.1,763.5 C179.0,763.3 179.1,751.5 180.5,751.4 C181.9,751.3 186.8,757.5 188.7,762.7 C190.6,767.9 192.8,783.7 195.1,790.3 C197.4,796.9 203.5,809.8 205.7,812.2 C207.9,814.6 209.0,799.4 211.4,808.1 C213.8,816.8 220.7,873.1 223.5,877.1 C226.3,881.1 230.1,844.8 232.4,838.1 C234.7,831.4 238.5,824.9 240.6,826.8 C242.7,828.7 246.2,850.4 247.9,852.7 C249.6,855.0 252.2,849.7 253.5,843.8 C254.8,837.9 256.1,807.4 257.6,808.1 C259.1,808.8 263.3,841.6 264.9,848.7 C266.5,855.8 268.5,861.3 269.8,861.7 C271.1,862.1 272.8,850.7 274.6,851.9 C276.4,853.1 281.3,871.5 283.5,870.6 C285.7,869.7 288.5,844.4 290.8,845.4 C293.1,846.4 298.0,873.5 300.6,877.9 C303.2,882.3 307.5,878.2 310.3,878.7 C313.1,879.2 319.2,883.4 321.7,881.9 C324.2,880.4 327.2,868.6 329.0,867.3 C330.8,866.0 333.2,870.8 335.0,871.9 C336.8,873.0 341.2,873.7 342.8,875.8 C344.4,877.9 345.4,888.0 346.7,887.5 C348.0,887.0 350.6,872.7 352.6,871.9 C354.6,871.1 358.5,882.2 361.4,881.7 C364.3,881.2 370.3,874.5 374.1,868.0 C377.9,861.5 386.7,836.6 389.8,832.7 C392.9,828.8 395.5,839.4 397.6,838.6 C399.7,837.8 403.1,833.7 405.5,826.9 C407.9,820.1 413.3,790.4 415.3,787.7 C417.3,785.0 419.2,808.6 420.2,806.3 C421.2,804.0 421.4,779.1 423.1,770.1 C424.8,761.1 430.7,742.5 432.9,738.8 C435.1,735.1 437.7,740.4 439.7,742.7 C441.7,745.0 446.2,755.6 447.6,756.4 C449.0,757.2 448.3,750.2 450.5,748.6 C452.7,747.0 461.3,746.7 464.2,744.6 C467.1,742.5 469.9,736.2 472.0,732.9 C474.1,729.6 477.9,722.8 479.9,720.2 C481.9,717.6 485.1,724.7 486.7,713.3 C488.3,701.9 490.2,634.7 491.6,635.0 C493.0,635.3 496.2,696.5 497.5,715.3 C498.8,734.1 500.1,767.4 501.4,776.0 C502.7,784.6 506.0,778.3 507.3,779.9 C508.6,781.5 509.9,787.3 511.2,787.7 C512.5,788.1 516.2,783.1 517.4,783.0 C518.6,782.9 519.5,784.2 520.2,787.0 C520.9,789.8 521.7,804.2 523.0,804.0 C524.3,803.8 528.0,787.8 529.9,785.8 C531.8,783.8 535.0,788.6 537.2,789.2 C539.4,789.8 544.7,790.7 546.3,790.4 C547.9,790.1 547.6,786.5 549.1,787.0 C550.6,787.5 555.8,791.1 557.7,793.8 C559.6,796.5 561.2,803.9 563.3,807.4 C565.4,810.9 571.4,818.2 573.5,819.9 C575.6,821.6 578.0,819.2 579.2,819.9 C580.4,820.6 581.5,830.6 582.6,825.0 C583.7,819.4 585.8,781.3 587.2,777.9 C588.6,774.5 591.4,796.4 592.8,799.4 C594.2,802.4 595.3,799.5 597.4,800.6 C599.5,801.7 606.4,805.4 608.7,807.4 C611.0,809.4 613.0,812.6 614.4,815.3 C615.8,818.0 617.8,826.3 619.5,827.8 C621.2,829.3 625.0,828.4 626.9,826.7 C628.8,825.0 631.3,817.2 633.7,815.3 C636.1,813.4 642.6,814.1 645.0,812.5 C647.4,810.9 650.1,804.5 651.8,803.4 C653.5,802.3 656.7,803.9 657.5,804.0" fill="none" stroke="#e3141e" stroke-width="2.8" stroke-linejoin="round" stroke-linecap="round" clip-path="url(#clipC)"/>
<path d="M144.1,917.3 C145.1,914.9 148.9,898.6 151.4,899.4 C153.9,900.1 159.9,920.1 162.7,922.9 C165.5,925.7 168.8,917.1 172.4,920.3 C176.0,923.6 185.4,947.2 189.5,947.1 C193.6,946.9 200.2,924.2 203.3,919.4 C206.4,914.6 210.4,911.6 213.0,911.2 C215.6,910.9 220.3,918.7 222.7,916.9 C225.1,915.0 228.9,900.9 230.8,897.3 C232.7,893.7 235.0,888.7 237.3,890.0 C239.6,891.3 245.1,907.7 247.9,907.0 C250.7,906.4 255.7,884.0 258.4,885.1 C261.1,886.1 264.9,910.7 268.1,915.0 C271.3,919.3 279.4,920.8 282.7,917.4 C286.0,913.9 289.7,892.0 292.5,888.9 C295.3,885.8 301.5,892.9 303.8,893.7 C306.1,894.6 307.2,893.3 309.5,895.3 C311.8,897.4 318.1,909.2 320.8,909.0 C323.5,908.9 327.9,896.7 329.8,894.4 C331.7,892.1 333.0,892.6 335.0,892.1 C337.0,891.6 342.5,895.2 344.8,890.7 C347.1,886.1 350.5,861.6 352.6,858.0 C354.7,854.4 359.0,859.9 360.4,863.6 C361.8,867.3 361.6,883.2 363.4,886.0 C365.2,888.8 370.3,886.1 374.1,884.5 C377.9,882.9 388.7,874.6 391.8,874.0 C394.9,873.3 395.8,880.7 397.6,879.6 C399.4,878.5 403.3,871.2 405.5,865.8 C407.7,860.4 412.3,839.9 414.3,839.4 C416.3,838.9 418.0,867.5 420.2,861.9 C422.4,856.3 428.2,804.6 430.9,797.3 C433.6,790.0 438.6,804.0 440.7,807.1 C442.8,810.2 444.0,820.0 446.6,820.8 C449.2,821.6 456.9,813.5 460.3,813.0 C463.7,812.5 468.9,816.1 472.0,816.9 C475.1,817.7 481.2,824.5 483.8,818.8 C486.4,813.1 489.8,772.2 491.6,773.8 C493.4,775.4 495.4,820.2 497.5,830.6 C499.6,841.0 504.6,849.8 507.3,852.1 C510.0,854.4 515.3,846.9 517.4,847.9 C519.5,848.9 521.6,860.5 523.0,859.8 C524.4,859.1 526.0,845.1 528.2,842.8 C530.4,840.5 536.6,842.7 539.5,842.2 C542.4,841.7 547.1,839.8 549.7,839.4 C552.3,839.0 556.8,838.5 558.8,839.4 C560.8,840.3 562.5,844.2 564.5,846.2 C566.5,848.2 571.0,853.3 573.5,854.7 C576.0,856.1 581.4,861.8 583.2,856.4 C585.0,851.0 586.2,817.6 587.2,814.4 C588.2,811.2 588.8,829.6 590.6,832.6 C592.4,835.6 598.2,836.2 600.8,837.1 C603.4,838.0 607.3,837.3 609.9,839.4 C612.5,841.5 617.8,851.2 620.1,853.0 C622.4,854.8 624.9,854.8 626.9,853.0 C628.9,851.2 631.6,842.4 634.8,839.4 C638.0,836.4 648.3,832.1 650.7,830.3 C653.1,828.5 651.2,826.2 653.0,825.7 C654.8,825.2 662.8,826.7 664.3,826.9" fill="none" stroke="#3a3f88" stroke-width="1.2" stroke-dasharray="4.5 4" clip-path="url(#clipC)"/>
<path d="M144.1,929.3 C145.1,926.9 148.9,910.7 151.4,911.4 C153.9,912.2 159.9,932.3 162.7,935.1 C165.5,937.9 168.8,929.4 172.4,932.7 C176.0,935.9 185.4,959.6 189.5,959.5 C193.6,959.5 200.2,936.8 203.3,932.0 C206.4,927.3 210.4,924.3 213.0,924.0 C215.6,923.7 220.3,931.6 222.7,929.7 C225.1,927.9 228.9,913.8 230.8,910.3 C232.7,906.7 235.0,901.7 237.3,903.0 C239.6,904.3 245.1,920.8 247.9,920.2 C250.7,919.5 255.7,897.2 258.4,898.3 C261.1,899.4 264.9,924.0 268.1,928.4 C271.3,932.7 279.4,934.3 282.7,930.8 C286.0,927.4 289.7,905.6 292.5,902.5 C295.3,899.4 301.5,906.6 303.8,907.5 C306.1,908.3 307.2,907.0 309.5,909.1 C311.8,911.2 318.1,923.0 320.8,923.0 C323.5,922.9 327.9,910.6 329.8,908.4 C331.7,906.2 333.0,906.8 335.0,906.5 C337.0,906.2 342.5,910.3 344.8,905.9 C347.1,901.6 350.5,877.4 352.6,874.0 C354.7,870.5 359.0,876.4 360.4,880.2 C361.8,884.1 361.6,899.9 363.4,902.8 C365.2,905.8 370.3,903.6 374.1,902.3 C377.9,901.0 388.7,893.6 391.8,893.2 C394.9,892.9 395.8,900.4 397.6,899.4 C399.4,898.4 403.3,891.1 405.5,885.8 C407.7,880.5 412.3,859.9 414.3,859.4 C416.3,858.9 418.0,887.5 420.2,881.9 C422.4,876.3 428.2,824.6 430.9,817.3 C433.6,810.0 438.6,824.0 440.7,827.1 C442.8,830.2 444.0,840.0 446.6,840.8 C449.2,841.6 456.9,833.5 460.3,833.0 C463.7,832.5 468.9,836.1 472.0,836.9 C475.1,837.7 481.2,844.5 483.8,838.8 C486.4,833.1 489.8,792.2 491.6,793.8 C493.4,795.4 495.4,840.2 497.5,850.6 C499.6,861.0 504.6,869.8 507.3,872.1 C510.0,874.4 515.3,866.9 517.4,867.9 C519.5,868.9 521.6,880.5 523.0,879.8 C524.4,879.1 526.0,865.1 528.2,862.8 C530.4,860.5 536.6,862.7 539.5,862.2 C542.4,861.7 547.1,859.8 549.7,859.4 C552.3,859.0 556.8,858.5 558.8,859.4 C560.8,860.3 562.5,864.2 564.5,866.2 C566.5,868.2 571.0,873.3 573.5,874.7 C576.0,876.1 581.4,881.8 583.2,876.4 C585.0,871.0 586.2,837.6 587.2,834.4 C588.2,831.2 588.8,849.6 590.6,852.6 C592.4,855.6 598.2,856.2 600.8,857.1 C603.4,858.0 607.3,857.3 609.9,859.4 C612.5,861.5 617.8,871.2 620.1,873.0 C622.4,874.8 624.9,874.8 626.9,873.0 C628.9,871.2 631.6,862.4 634.8,859.4 C638.0,856.4 648.3,852.1 650.7,850.3 C653.1,848.5 651.2,846.2 653.0,845.7 C654.8,845.2 662.8,846.7 664.3,846.9" fill="none" stroke="#3a3f88" stroke-width="1.2" stroke-dasharray="4.5 4" clip-path="url(#clipC)"/>
<path d="M144.1,923.3 C145.1,920.9 148.9,904.6 151.4,905.4 C153.9,906.2 159.9,926.2 162.7,929.0 C165.5,931.8 168.8,923.3 172.4,926.5 C176.0,929.7 185.4,953.4 189.5,953.3 C193.6,953.2 200.2,930.5 203.3,925.7 C206.4,920.9 210.4,917.9 213.0,917.6 C215.6,917.3 220.3,925.1 222.7,923.3 C225.1,921.5 228.9,907.4 230.8,903.8 C232.7,900.2 235.0,895.2 237.3,896.5 C239.6,897.8 245.1,914.2 247.9,913.6 C250.7,913.0 255.7,890.6 258.4,891.7 C261.1,892.8 264.9,917.4 268.1,921.7 C271.3,926.0 279.4,927.6 282.7,924.1 C286.0,920.6 289.7,898.8 292.5,895.7 C295.3,892.6 301.5,899.7 303.8,900.6 C306.1,901.5 307.2,900.1 309.5,902.2 C311.8,904.3 318.1,916.1 320.8,916.0 C323.5,915.9 327.9,903.6 329.8,901.4 C331.7,899.2 333.0,899.7 335.0,899.3 C337.0,898.9 342.5,902.7 344.8,898.3 C347.1,893.9 350.5,869.5 352.6,866.0 C354.7,862.5 359.0,868.1 360.4,871.9 C361.8,875.7 361.6,891.5 363.4,894.4 C365.2,897.3 370.3,894.8 374.1,893.4 C377.9,892.0 388.7,884.1 391.8,883.6 C394.9,883.1 395.8,890.5 397.6,889.5 C399.4,888.5 403.3,881.1 405.5,875.8 C407.7,870.5 412.3,849.9 414.3,849.4 C416.3,848.9 418.0,877.5 420.2,871.9 C422.4,866.3 428.2,814.6 430.9,807.3 C433.6,800.0 438.6,814.0 440.7,817.1 C442.8,820.2 444.0,830.0 446.6,830.8 C449.2,831.6 456.9,823.5 460.3,823.0 C463.7,822.5 468.9,826.1 472.0,826.9 C475.1,827.7 481.2,834.5 483.8,828.8 C486.4,823.1 489.8,782.2 491.6,783.8 C493.4,785.4 495.4,830.2 497.5,840.6 C499.6,851.0 504.6,859.8 507.3,862.1 C510.0,864.4 515.3,856.9 517.4,857.9 C519.5,858.9 521.6,870.5 523.0,869.8 C524.4,869.1 526.0,855.1 528.2,852.8 C530.4,850.5 536.6,852.7 539.5,852.2 C542.4,851.7 547.1,849.8 549.7,849.4 C552.3,849.0 556.8,848.5 558.8,849.4 C560.8,850.3 562.5,854.2 564.5,856.2 C566.5,858.2 571.0,863.3 573.5,864.7 C576.0,866.1 581.4,871.8 583.2,866.4 C585.0,861.0 586.2,827.6 587.2,824.4 C588.2,821.2 588.8,839.6 590.6,842.6 C592.4,845.6 598.2,846.2 600.8,847.1 C603.4,848.0 607.3,847.3 609.9,849.4 C612.5,851.5 617.8,861.2 620.1,863.0 C622.4,864.8 624.9,864.8 626.9,863.0 C628.9,861.2 631.6,852.4 634.8,849.4 C638.0,846.4 648.3,842.1 650.7,840.3 C653.1,838.5 651.2,836.2 653.0,835.7 C654.8,835.2 662.8,836.7 664.3,836.9" fill="none" stroke="#2b36a0" stroke-width="2.8" stroke-linejoin="round" stroke-linecap="round" clip-path="url(#clipC)"/>
<path d="M866.6,737.3 C867.5,732.7 871.6,717.4 873.1,702.4 C874.6,687.4 876.6,634.5 877.7,625.0 C878.8,615.4 880.3,625.3 881.4,630.5 C882.5,635.7 884.9,662.5 886.0,663.8 C887.1,665.0 888.7,643.0 889.7,639.8 C890.7,636.6 892.4,641.8 893.4,639.9 C894.4,637.9 895.5,619.8 897.1,625.2 C898.7,630.6 903.4,673.2 905.4,680.6 C907.4,688.0 909.5,676.0 911.8,680.7 C914.1,685.4 920.8,711.2 922.9,715.9 C925.0,720.6 925.8,712.9 927.5,716.0 C929.2,719.1 934.1,736.2 935.8,739.2 C937.5,742.2 939.2,741.8 940.4,738.3 C941.6,734.7 944.0,716.7 945.1,712.5 C946.2,708.4 947.2,713.6 948.7,707.1 C950.2,700.6 954.1,668.2 956.1,663.8 C958.1,659.4 961.5,670.1 963.5,674.0 C965.5,677.8 968.9,679.0 970.9,692.6 C972.9,706.1 976.1,761.4 978.3,775.8 C980.5,790.1 985.5,790.5 987.5,799.9 C989.5,809.3 991.5,843.3 993.0,846.0 C994.5,848.8 996.6,831.3 998.6,820.2 C1000.6,809.2 1005.1,774.7 1007.8,763.1 C1010.5,751.6 1017.2,742.3 1018.9,733.8 C1020.6,725.2 1019.7,703.3 1020.7,699.0 C1021.7,694.6 1024.4,708.6 1026.3,701.2 C1028.2,693.8 1033.0,649.4 1034.6,643.6 C1036.2,637.9 1036.9,658.7 1038.3,658.0 C1039.7,657.4 1043.3,640.2 1045.0,638.8 C1046.7,637.4 1049.7,648.2 1051.4,647.7 C1053.1,647.2 1055.9,635.8 1057.8,635.0 C1059.7,634.2 1063.5,636.3 1065.4,641.4 C1067.3,646.5 1069.9,672.6 1071.8,673.3 C1073.7,674.0 1077.6,650.4 1079.5,646.5 C1081.4,642.6 1083.9,641.9 1085.9,643.9 C1087.9,645.9 1093.1,658.7 1094.8,661.8 C1096.5,664.9 1097.6,663.2 1098.6,666.9 C1099.6,670.6 1101.0,688.4 1102.4,689.9 C1103.8,691.4 1106.7,683.3 1108.8,678.4 C1110.9,673.5 1116.1,656.6 1117.8,652.9 C1119.5,649.2 1120.4,650.1 1121.6,650.3 C1122.8,650.5 1125.3,654.3 1126.7,654.1 C1128.1,653.9 1130.2,643.4 1131.8,649.1 C1133.4,654.8 1136.9,696.5 1138.8,696.8 C1140.7,697.1 1144.4,652.0 1145.9,651.2 C1147.4,650.4 1148.7,690.8 1149.7,691.0 C1150.7,691.3 1152.3,655.8 1153.5,652.9 C1154.7,650.1 1157.1,669.9 1158.6,669.8 C1160.1,669.7 1163.1,657.6 1165.0,652.3 C1166.9,647.0 1171.3,629.7 1172.7,629.7 C1174.1,629.8 1173.8,651.3 1175.2,652.9 C1176.6,654.5 1180.9,642.7 1182.9,641.8 C1184.9,640.9 1188.1,643.4 1190.5,646.1 C1192.9,648.8 1197.7,661.8 1200.8,662.1 C1203.9,662.4 1211.5,646.3 1213.5,648.4 C1215.5,650.5 1215.1,687.5 1216.1,678.1 C1217.1,668.8 1219.8,590.8 1220.9,578.5 C1222.0,566.1 1222.9,573.4 1224.2,585.4 C1225.5,597.5 1229.1,657.1 1230.7,668.9 C1232.3,680.7 1234.2,673.7 1236.0,674.2 C1237.8,674.8 1242.0,677.9 1243.9,673.0 C1245.8,668.1 1248.8,637.9 1250.4,637.5 C1252.0,637.2 1253.9,668.9 1255.7,670.4 C1257.5,671.8 1261.5,650.9 1263.6,648.1 C1265.7,645.3 1269.7,647.5 1271.4,649.5 C1273.1,651.4 1274.6,664.0 1276.7,662.6 C1278.8,661.2 1284.6,642.4 1287.2,639.0 C1289.8,635.7 1294.5,636.7 1296.4,637.8 C1298.3,638.9 1299.7,645.8 1301.6,647.0 C1303.5,648.3 1308.9,642.9 1310.8,647.1 C1312.7,651.3 1314.9,681.2 1316.1,678.6 C1317.3,676.0 1318.6,631.9 1320.0,627.5 C1321.4,623.2 1324.9,643.6 1326.5,645.9 C1328.1,648.2 1330.2,643.6 1331.8,644.6 C1333.4,645.7 1336.8,654.0 1338.4,653.9 C1340.0,653.7 1342.2,647.6 1343.6,643.4 C1345.0,639.2 1347.5,623.8 1348.9,622.4 C1350.3,621.0 1352.7,631.2 1354.1,633.0 C1355.5,634.7 1357.6,633.1 1359.4,635.6 C1361.2,638.0 1366.0,651.6 1367.9,651.4 C1369.8,651.3 1372.0,635.9 1373.8,634.4 C1375.6,632.8 1380.0,639.3 1381.7,639.6 C1383.4,640.0 1386.2,637.4 1386.9,637.1" fill="none" stroke="#9a4a58" stroke-width="1.2" stroke-dasharray="4.5 4" clip-path="url(#clipD)"/>
<path d="M866.6,793.3 C867.5,788.6 871.6,773.2 873.1,758.2 C874.6,743.2 876.6,690.3 877.7,680.6 C878.8,671.0 880.3,681.0 881.4,686.1 C882.5,691.2 884.9,718.0 886.0,719.2 C887.1,720.5 888.7,698.4 889.7,695.2 C890.7,692.0 892.4,697.1 893.4,695.1 C894.4,693.2 895.5,675.0 897.1,680.4 C898.7,685.8 903.4,728.2 905.4,735.6 C907.4,742.9 909.5,730.9 911.8,735.5 C914.1,740.2 920.8,765.8 922.9,770.5 C925.0,775.1 925.8,767.3 927.5,770.4 C929.2,773.5 934.1,790.5 935.8,793.4 C937.5,796.3 939.2,795.9 940.4,792.3 C941.6,788.7 944.0,770.7 945.1,766.5 C946.2,762.3 947.2,767.5 948.7,760.9 C950.2,754.4 954.1,721.9 956.1,717.4 C958.1,713.0 961.5,723.6 963.5,727.4 C965.5,731.2 968.9,732.3 970.9,745.8 C972.9,759.4 976.1,814.6 978.3,828.8 C980.5,843.1 985.5,843.4 987.5,852.7 C989.5,862.0 991.5,896.1 993.0,898.8 C994.5,901.4 996.6,883.9 998.6,872.8 C1000.6,861.7 1005.1,827.1 1007.8,815.5 C1010.5,803.9 1017.2,794.5 1018.9,785.8 C1020.6,777.1 1019.7,755.4 1020.7,750.4 C1021.7,745.4 1024.4,757.0 1026.3,748.2 C1028.2,739.3 1033.0,691.0 1034.6,684.0 C1036.2,676.9 1036.9,696.6 1038.3,695.4 C1039.7,694.2 1043.3,676.4 1045.0,674.8 C1046.7,673.2 1049.7,684.2 1051.4,683.7 C1053.1,683.2 1055.9,671.8 1057.8,671.0 C1059.7,670.2 1063.5,672.3 1065.4,677.4 C1067.3,682.5 1069.9,708.6 1071.8,709.3 C1073.7,710.0 1077.6,686.4 1079.5,682.5 C1081.4,678.6 1083.9,677.9 1085.9,679.9 C1087.9,681.9 1093.1,694.7 1094.8,697.8 C1096.5,700.9 1097.6,699.2 1098.6,702.9 C1099.6,706.6 1101.0,724.4 1102.4,725.9 C1103.8,727.4 1106.7,719.3 1108.8,714.4 C1110.9,709.5 1116.1,692.6 1117.8,688.9 C1119.5,685.2 1120.4,686.1 1121.6,686.3 C1122.8,686.5 1125.3,690.3 1126.7,690.1 C1128.1,689.9 1130.2,679.3 1131.8,684.9 C1133.4,690.5 1136.9,731.7 1138.8,731.8 C1140.7,731.9 1144.4,686.3 1145.9,685.4 C1147.4,684.5 1148.7,724.7 1149.7,724.8 C1150.7,724.9 1152.3,689.2 1153.5,686.3 C1154.7,683.3 1157.1,702.8 1158.6,702.6 C1160.1,702.3 1163.1,689.9 1165.0,684.3 C1166.9,678.7 1171.3,660.9 1172.7,660.9 C1174.1,660.8 1173.8,682.3 1175.2,683.7 C1176.6,685.2 1180.9,672.9 1182.9,671.8 C1184.9,670.6 1188.1,672.7 1190.5,675.1 C1192.9,677.6 1197.7,690.2 1200.8,689.9 C1203.9,689.6 1211.5,671.2 1213.5,672.8 C1215.5,674.4 1215.1,711.4 1216.1,701.9 C1217.1,692.3 1219.8,613.6 1220.9,600.9 C1222.0,588.3 1222.9,595.2 1224.2,607.0 C1225.5,618.7 1229.1,677.3 1230.7,688.9 C1232.3,700.5 1234.2,693.6 1236.0,694.2 C1237.8,694.7 1242.0,697.7 1243.9,692.8 C1245.8,687.9 1248.8,657.6 1250.4,657.3 C1252.0,656.9 1253.9,688.7 1255.7,690.0 C1257.5,691.4 1261.5,670.5 1263.6,667.7 C1265.7,664.9 1269.7,667.0 1271.4,668.9 C1273.1,670.9 1274.6,683.4 1276.7,682.0 C1278.8,680.6 1284.6,661.7 1287.2,658.4 C1289.8,655.0 1294.5,656.0 1296.4,657.0 C1298.3,658.0 1299.7,665.0 1301.6,666.2 C1303.5,667.4 1308.9,661.9 1310.8,666.1 C1312.7,670.3 1314.9,700.2 1316.1,697.6 C1317.3,695.0 1318.6,650.8 1320.0,646.5 C1321.4,642.1 1324.9,662.5 1326.5,664.7 C1328.1,667.0 1330.2,662.3 1331.8,663.4 C1333.4,664.4 1336.8,672.7 1338.4,672.5 C1340.0,672.4 1342.2,666.2 1343.6,662.0 C1345.0,657.8 1347.5,642.4 1348.9,641.0 C1350.3,639.6 1352.7,649.7 1354.1,651.4 C1355.5,653.2 1357.6,651.6 1359.4,654.0 C1361.2,656.5 1366.0,669.9 1367.9,669.8 C1369.8,669.6 1372.0,654.2 1373.8,652.6 C1375.6,651.0 1380.0,657.4 1381.7,657.8 C1383.4,658.1 1386.2,655.5 1386.9,655.1" fill="none" stroke="#9a4a58" stroke-width="1.2" stroke-dasharray="4.5 4" clip-path="url(#clipD)"/>
<path d="M866.6,765.3 C867.5,760.6 871.6,745.3 873.1,730.3 C874.6,715.3 876.6,662.4 877.7,652.8 C878.8,643.2 880.3,653.1 881.4,658.3 C882.5,663.5 884.9,690.3 886.0,691.5 C887.1,692.7 888.7,670.7 889.7,667.5 C890.7,664.3 892.4,669.5 893.4,667.5 C894.4,665.5 895.5,647.4 897.1,652.8 C898.7,658.2 903.4,700.7 905.4,708.1 C907.4,715.5 909.5,703.4 911.8,708.1 C914.1,712.8 920.8,738.5 922.9,743.2 C925.0,747.9 925.8,740.1 927.5,743.2 C929.2,746.3 934.1,763.4 935.8,766.3 C937.5,769.2 939.2,768.9 940.4,765.3 C941.6,761.7 944.0,743.7 945.1,739.5 C946.2,735.3 947.2,740.5 948.7,734.0 C950.2,727.5 954.1,695.0 956.1,690.6 C958.1,686.2 961.5,696.9 963.5,700.7 C965.5,704.5 968.9,705.7 970.9,719.2 C972.9,732.7 976.1,788.0 978.3,802.3 C980.5,816.6 985.5,817.0 987.5,826.3 C989.5,835.6 991.5,869.7 993.0,872.4 C994.5,875.1 996.6,857.6 998.6,846.5 C1000.6,835.4 1005.1,800.9 1007.8,789.3 C1010.5,777.7 1017.2,768.4 1018.9,759.8 C1020.6,751.2 1019.7,729.4 1020.7,724.7 C1021.7,720.0 1024.4,732.8 1026.3,724.7 C1028.2,716.6 1033.0,670.2 1034.6,663.8 C1036.2,657.4 1036.9,677.6 1038.3,676.7 C1039.7,675.8 1043.3,658.3 1045.0,656.8 C1046.7,655.3 1049.7,666.2 1051.4,665.7 C1053.1,665.2 1055.9,653.8 1057.8,653.0 C1059.7,652.2 1063.5,654.3 1065.4,659.4 C1067.3,664.5 1069.9,690.6 1071.8,691.3 C1073.7,692.0 1077.6,668.4 1079.5,664.5 C1081.4,660.6 1083.9,659.9 1085.9,661.9 C1087.9,663.9 1093.1,676.7 1094.8,679.8 C1096.5,682.9 1097.6,681.2 1098.6,684.9 C1099.6,688.6 1101.0,706.4 1102.4,707.9 C1103.8,709.4 1106.7,701.3 1108.8,696.4 C1110.9,691.5 1116.1,674.6 1117.8,670.9 C1119.5,667.2 1120.4,668.1 1121.6,668.3 C1122.8,668.5 1125.3,672.3 1126.7,672.1 C1128.1,671.9 1130.2,661.4 1131.8,667.0 C1133.4,672.6 1136.9,714.1 1138.8,714.3 C1140.7,714.5 1144.4,669.2 1145.9,668.3 C1147.4,667.4 1148.7,707.7 1149.7,707.9 C1150.7,708.1 1152.3,672.5 1153.5,669.6 C1154.7,666.7 1157.1,686.4 1158.6,686.2 C1160.1,686.0 1163.1,673.8 1165.0,668.3 C1166.9,662.8 1171.3,645.3 1172.7,645.3 C1174.1,645.3 1173.8,666.8 1175.2,668.3 C1176.6,669.8 1180.9,657.8 1182.9,656.8 C1184.9,655.8 1188.1,658.0 1190.5,660.6 C1192.9,663.2 1197.7,676.0 1200.8,676.0 C1203.9,676.0 1211.5,658.7 1213.5,660.6 C1215.5,662.5 1215.1,699.5 1216.1,690.0 C1217.1,680.5 1219.8,602.2 1220.9,589.7 C1222.0,577.2 1222.9,584.3 1224.2,596.2 C1225.5,608.1 1229.1,667.2 1230.7,678.9 C1232.3,690.6 1234.2,683.7 1236.0,684.2 C1237.8,684.7 1242.0,687.8 1243.9,682.9 C1245.8,678.0 1248.8,647.8 1250.4,647.4 C1252.0,647.0 1253.9,678.8 1255.7,680.2 C1257.5,681.6 1261.5,660.7 1263.6,657.9 C1265.7,655.1 1269.7,657.3 1271.4,659.2 C1273.1,661.1 1274.6,673.7 1276.7,672.3 C1278.8,670.9 1284.6,652.0 1287.2,648.7 C1289.8,645.4 1294.5,646.3 1296.4,647.4 C1298.3,648.5 1299.7,655.4 1301.6,656.6 C1303.5,657.8 1308.9,652.4 1310.8,656.6 C1312.7,660.8 1314.9,690.7 1316.1,688.1 C1317.3,685.5 1318.6,641.4 1320.0,637.0 C1321.4,632.6 1324.9,653.0 1326.5,655.3 C1328.1,657.6 1330.2,652.9 1331.8,654.0 C1333.4,655.1 1336.8,663.4 1338.4,663.2 C1340.0,663.0 1342.2,656.9 1343.6,652.7 C1345.0,648.5 1347.5,633.1 1348.9,631.7 C1350.3,630.3 1352.7,640.5 1354.1,642.2 C1355.5,643.9 1357.6,642.3 1359.4,644.8 C1361.2,647.3 1366.0,660.8 1367.9,660.6 C1369.8,660.4 1372.0,645.1 1373.8,643.5 C1375.6,641.9 1380.0,648.4 1381.7,648.7 C1383.4,649.0 1386.2,646.4 1386.9,646.1" fill="none" stroke="#e3141e" stroke-width="2.8" stroke-linejoin="round" stroke-linecap="round" clip-path="url(#clipD)"/>
<path d="M866.6,661.5 C867.3,658.1 870.7,642.8 872.2,635.7 C873.7,628.6 876.1,609.2 877.7,608.0 C879.3,606.8 882.8,626.0 884.1,626.5 C885.4,627.0 886.8,613.5 887.8,611.7 C888.8,610.0 890.4,615.5 891.5,613.5 C892.6,611.6 894.9,596.7 896.1,597.0 C897.3,597.2 899.2,612.0 900.8,615.5 C902.4,618.9 906.3,618.9 908.1,622.9 C909.9,626.8 912.1,643.8 914.6,645.0 C917.1,646.2 923.8,627.9 926.6,632.1 C929.4,636.3 934.0,670.3 935.8,676.4 C937.6,682.6 938.7,684.1 940.4,678.2 C942.1,672.3 947.1,636.6 948.7,632.2 C950.3,627.7 951.2,646.0 952.4,645.1 C953.6,644.1 955.8,626.0 958.0,624.8 C960.2,623.6 966.9,631.0 969.1,635.9 C971.3,640.8 973.1,649.4 974.6,661.7 C976.1,674.0 978.9,718.4 980.1,728.2 C981.3,738.1 982.8,736.0 983.8,735.5 C984.8,735.0 986.3,723.3 987.5,724.5 C988.7,725.8 991.0,740.7 993.0,744.8 C995.0,749.0 1000.4,756.6 1002.3,755.9 C1004.2,755.1 1005.8,738.3 1006.9,739.3 C1008.0,740.3 1009.5,761.3 1010.6,763.3 C1011.7,765.2 1014.1,754.3 1015.2,754.1 C1016.3,753.8 1017.4,766.9 1018.9,761.5 C1020.4,756.1 1025.0,717.9 1026.3,713.5 C1027.6,709.1 1027.5,729.3 1029.0,728.3 C1030.5,727.3 1035.2,715.4 1037.3,706.1 C1039.4,696.9 1043.1,664.6 1045.0,658.8 C1046.9,653.0 1049.9,664.9 1051.4,662.7 C1052.9,660.4 1054.6,645.3 1056.5,642.3 C1058.4,639.2 1063.4,637.0 1065.4,639.7 C1067.4,642.4 1069.5,663.5 1071.2,662.7 C1072.9,661.8 1076.2,637.7 1078.2,633.3 C1080.2,628.9 1084.2,627.5 1085.9,629.5 C1087.6,631.6 1089.0,642.1 1091.0,648.7 C1093.0,655.4 1099.2,676.6 1101.2,679.3 C1103.2,682.1 1104.4,670.2 1106.3,669.2 C1108.2,668.1 1113.2,671.7 1115.2,671.7 C1117.2,671.7 1120.1,667.6 1121.6,669.2 C1123.1,670.7 1125.3,681.7 1126.7,683.2 C1128.1,684.7 1130.1,673.0 1131.8,680.7 C1133.5,688.4 1137.6,739.0 1139.5,740.7 C1141.4,742.4 1144.5,695.1 1145.9,693.4 C1147.3,691.7 1148.7,727.9 1149.7,727.9 C1150.7,727.9 1152.4,693.3 1153.5,693.4 C1154.6,693.6 1156.3,730.3 1158.0,729.3 C1159.7,728.2 1164.3,692.5 1166.3,685.9 C1168.3,679.2 1171.5,678.1 1172.7,679.5 C1173.9,680.8 1174.0,694.5 1175.2,696.1 C1176.4,697.6 1180.1,691.3 1181.6,691.0 C1183.1,690.7 1185.2,693.3 1186.7,693.5 C1188.2,693.7 1191.1,691.6 1193.1,692.3 C1195.1,693.0 1199.6,697.4 1202.0,698.6 C1204.4,699.8 1209.3,701.4 1211.0,701.3 C1212.7,701.1 1214.1,694.1 1214.8,697.5 C1215.5,700.9 1215.0,735.4 1216.1,726.8 C1217.2,718.2 1221.0,637.5 1222.9,632.9 C1224.8,628.2 1228.8,683.2 1230.7,692.0 C1232.6,700.8 1235.5,697.7 1237.3,698.6 C1239.1,699.5 1242.2,703.5 1243.9,698.6 C1245.6,693.7 1248.7,661.1 1250.4,661.8 C1252.1,662.5 1254.5,701.6 1256.3,703.8 C1258.1,706.1 1261.6,682.3 1263.6,679.0 C1265.6,675.6 1269.6,678.4 1271.4,679.0 C1273.2,679.5 1275.4,686.0 1277.3,682.9 C1279.2,679.7 1283.4,658.9 1285.9,655.4 C1288.4,651.9 1294.1,654.8 1296.4,656.7 C1298.7,658.6 1301.2,668.4 1302.9,669.8 C1304.6,671.2 1307.9,660.8 1309.5,667.2 C1311.1,673.7 1313.3,721.9 1314.7,718.3 C1316.1,714.8 1318.6,647.4 1320.0,641.0 C1321.4,634.5 1323.8,666.2 1325.2,669.9 C1326.6,673.6 1328.7,667.2 1330.5,668.6 C1332.3,670.0 1336.5,682.1 1338.4,680.4 C1340.3,678.6 1343.3,660.4 1344.9,655.5 C1346.5,650.6 1348.8,644.0 1350.2,643.6 C1351.6,643.3 1353.1,649.3 1355.4,652.8 C1357.7,656.3 1364.9,670.1 1367.2,669.9 C1369.5,669.8 1370.6,653.0 1372.5,651.6 C1374.4,650.2 1379.4,659.3 1381.7,659.5 C1384.0,659.7 1387.9,653.4 1389.5,652.9 C1391.1,652.4 1393.0,655.2 1393.5,655.6" fill="none" stroke="#3a3f88" stroke-width="1.2" stroke-dasharray="4.5 4" clip-path="url(#clipD)"/>
<path d="M866.6,673.5 C867.3,670.1 870.7,654.8 872.2,647.7 C873.7,640.6 876.1,621.2 877.7,620.0 C879.3,618.7 882.8,638.0 884.1,638.5 C885.4,639.0 886.8,625.4 887.8,623.7 C888.8,621.9 890.4,627.4 891.5,625.5 C892.6,623.5 894.9,608.6 896.1,608.8 C897.3,609.1 899.2,623.9 900.8,627.3 C902.4,630.8 906.3,630.8 908.1,634.7 C909.9,638.7 912.1,655.6 914.6,656.8 C917.1,658.0 923.8,639.7 926.6,643.9 C929.4,648.1 934.0,682.0 935.8,688.2 C937.6,694.3 938.7,695.9 940.4,690.0 C942.1,684.0 947.1,648.3 948.7,643.8 C950.3,639.4 951.2,657.7 952.4,656.7 C953.6,655.7 955.8,637.7 958.0,636.4 C960.2,635.2 966.9,642.6 969.1,647.5 C971.3,652.4 973.1,661.0 974.6,673.3 C976.1,685.6 978.9,729.9 980.1,739.8 C981.3,749.6 982.8,747.6 983.8,747.1 C984.8,746.6 986.3,734.8 987.5,736.1 C988.7,737.3 991.0,752.2 993.0,756.4 C995.0,760.5 1000.4,768.1 1002.3,767.3 C1004.2,766.6 1005.8,749.7 1006.9,750.7 C1008.0,751.7 1009.5,772.8 1010.6,774.7 C1011.7,776.7 1014.1,765.8 1015.2,765.5 C1016.3,765.3 1017.4,778.3 1018.9,772.9 C1020.4,767.5 1025.0,729.3 1026.3,724.9 C1027.6,720.5 1027.5,740.7 1029.0,739.7 C1030.5,738.7 1035.2,726.7 1037.3,717.5 C1039.4,708.2 1043.1,676.0 1045.0,670.2 C1046.9,664.4 1049.9,676.2 1051.4,673.9 C1052.9,671.7 1054.6,656.6 1056.5,653.5 C1058.4,650.5 1063.4,648.2 1065.4,650.9 C1067.4,653.6 1069.5,674.8 1071.2,673.9 C1072.9,673.1 1076.2,648.9 1078.2,644.5 C1080.2,640.1 1084.2,638.6 1085.9,640.7 C1087.6,642.7 1089.0,653.2 1091.0,659.9 C1093.0,666.5 1099.2,687.7 1101.2,690.5 C1103.2,693.2 1104.4,681.3 1106.3,680.2 C1108.2,679.2 1113.2,682.7 1115.2,682.7 C1117.2,682.7 1120.1,678.7 1121.6,680.2 C1123.1,681.7 1125.3,692.7 1126.7,694.2 C1128.1,695.7 1130.1,684.0 1131.8,691.7 C1133.5,699.4 1137.6,750.0 1139.5,751.7 C1141.4,753.4 1144.5,706.1 1145.9,704.4 C1147.3,702.7 1148.7,738.9 1149.7,738.9 C1150.7,738.9 1152.4,704.2 1153.5,704.4 C1154.6,704.5 1156.3,741.2 1158.0,740.1 C1159.7,739.1 1164.3,703.4 1166.3,696.7 C1168.3,690.1 1171.5,689.0 1172.7,690.3 C1173.9,691.7 1174.0,705.4 1175.2,706.9 C1176.4,708.4 1180.1,702.2 1181.6,701.8 C1183.1,701.5 1185.2,704.1 1186.7,704.3 C1188.2,704.5 1191.1,702.4 1193.1,703.1 C1195.1,703.8 1199.6,708.2 1202.0,709.4 C1204.4,710.5 1209.3,712.1 1211.0,711.9 C1212.7,711.8 1214.1,704.7 1214.8,708.1 C1215.5,711.5 1215.0,746.1 1216.1,737.4 C1217.2,728.8 1221.0,648.2 1222.9,643.5 C1224.8,638.9 1228.8,693.9 1230.7,702.6 C1232.6,711.4 1235.5,708.3 1237.3,709.2 C1239.1,710.1 1242.2,714.1 1243.9,709.2 C1245.6,704.3 1248.7,671.7 1250.4,672.4 C1252.1,673.1 1254.5,712.1 1256.3,714.4 C1258.1,716.6 1261.6,692.8 1263.6,689.4 C1265.6,686.1 1269.6,688.9 1271.4,689.4 C1273.2,690.0 1275.4,696.5 1277.3,693.3 C1279.2,690.2 1283.4,669.3 1285.9,665.8 C1288.4,662.3 1294.1,665.2 1296.4,667.1 C1298.7,669.0 1301.2,678.8 1302.9,680.2 C1304.6,681.6 1307.9,671.1 1309.5,677.6 C1311.1,684.0 1313.3,732.2 1314.7,728.7 C1316.1,725.1 1318.6,657.7 1320.0,651.2 C1321.4,644.8 1323.8,676.5 1325.2,680.1 C1326.6,683.8 1328.7,677.4 1330.5,678.8 C1332.3,680.2 1336.5,692.4 1338.4,690.6 C1340.3,688.9 1343.3,670.6 1344.9,665.7 C1346.5,660.8 1348.8,654.1 1350.2,653.8 C1351.6,653.4 1353.1,659.5 1355.4,663.0 C1357.7,666.5 1364.9,680.2 1367.2,680.1 C1369.5,679.9 1370.6,663.0 1372.5,661.6 C1374.4,660.2 1379.4,669.4 1381.7,669.5 C1384.0,669.7 1387.9,663.4 1389.5,662.9 C1391.1,662.4 1393.0,665.2 1393.5,665.6" fill="none" stroke="#3a3f88" stroke-width="1.2" stroke-dasharray="4.5 4" clip-path="url(#clipD)"/>
<path d="M866.6,667.5 C867.3,664.1 870.7,648.8 872.2,641.7 C873.7,634.6 876.1,615.2 877.7,614.0 C879.3,612.8 882.8,632.0 884.1,632.5 C885.4,633.0 886.8,619.4 887.8,617.7 C888.8,616.0 890.4,621.5 891.5,619.5 C892.6,617.5 894.9,602.6 896.1,602.9 C897.3,603.2 899.2,617.9 900.8,621.4 C902.4,624.9 906.3,624.9 908.1,628.8 C909.9,632.7 912.1,649.7 914.6,650.9 C917.1,652.1 923.8,633.8 926.6,638.0 C929.4,642.2 934.0,676.2 935.8,682.3 C937.6,688.4 938.7,690.0 940.4,684.1 C942.1,678.2 947.1,642.4 948.7,638.0 C950.3,633.6 951.2,651.9 952.4,650.9 C953.6,649.9 955.8,631.8 958.0,630.6 C960.2,629.4 966.9,636.8 969.1,641.7 C971.3,646.6 973.1,655.2 974.6,667.5 C976.1,679.8 978.9,724.2 980.1,734.0 C981.3,743.8 982.8,741.8 983.8,741.3 C984.8,740.8 986.3,729.1 987.5,730.3 C988.7,731.5 991.0,746.4 993.0,750.6 C995.0,754.8 1000.4,762.3 1002.3,761.6 C1004.2,760.9 1005.8,744.0 1006.9,745.0 C1008.0,746.0 1009.5,767.0 1010.6,769.0 C1011.7,771.0 1014.1,760.0 1015.2,759.8 C1016.3,759.6 1017.4,772.6 1018.9,767.2 C1020.4,761.8 1025.0,723.6 1026.3,719.2 C1027.6,714.8 1027.5,735.0 1029.0,734.0 C1030.5,733.0 1035.2,721.1 1037.3,711.8 C1039.4,702.5 1043.1,670.3 1045.0,664.5 C1046.9,658.7 1049.9,670.5 1051.4,668.3 C1052.9,666.1 1054.6,651.0 1056.5,647.9 C1058.4,644.8 1063.4,642.6 1065.4,645.3 C1067.4,648.0 1069.5,669.2 1071.2,668.3 C1072.9,667.4 1076.2,643.3 1078.2,638.9 C1080.2,634.5 1084.2,633.0 1085.9,635.1 C1087.6,637.2 1089.0,647.7 1091.0,654.3 C1093.0,660.9 1099.2,682.2 1101.2,684.9 C1103.2,687.6 1104.4,675.7 1106.3,674.7 C1108.2,673.7 1113.2,677.2 1115.2,677.2 C1117.2,677.2 1120.1,673.2 1121.6,674.7 C1123.1,676.2 1125.3,687.2 1126.7,688.7 C1128.1,690.2 1130.1,678.5 1131.8,686.2 C1133.5,693.9 1137.6,744.5 1139.5,746.2 C1141.4,747.9 1144.5,700.6 1145.9,698.9 C1147.3,697.2 1148.7,733.4 1149.7,733.4 C1150.7,733.4 1152.4,698.7 1153.5,698.9 C1154.6,699.1 1156.3,735.7 1158.0,734.7 C1159.7,733.7 1164.3,697.9 1166.3,691.3 C1168.3,684.7 1171.5,683.5 1172.7,684.9 C1173.9,686.3 1174.0,700.0 1175.2,701.5 C1176.4,703.0 1180.1,696.7 1181.6,696.4 C1183.1,696.1 1185.2,698.7 1186.7,698.9 C1188.2,699.1 1191.1,697.0 1193.1,697.7 C1195.1,698.4 1199.6,702.8 1202.0,704.0 C1204.4,705.2 1209.3,706.8 1211.0,706.6 C1212.7,706.4 1214.1,699.4 1214.8,702.8 C1215.5,706.2 1215.0,740.7 1216.1,732.1 C1217.2,723.5 1221.0,642.8 1222.9,638.2 C1224.8,633.6 1228.8,688.5 1230.7,697.3 C1232.6,706.1 1235.5,703.0 1237.3,703.9 C1239.1,704.8 1242.2,708.8 1243.9,703.9 C1245.6,699.0 1248.7,666.4 1250.4,667.1 C1252.1,667.8 1254.5,706.8 1256.3,709.1 C1258.1,711.4 1261.6,687.5 1263.6,684.2 C1265.6,680.9 1269.6,683.7 1271.4,684.2 C1273.2,684.7 1275.4,691.2 1277.3,688.1 C1279.2,685.0 1283.4,664.1 1285.9,660.6 C1288.4,657.1 1294.1,660.0 1296.4,661.9 C1298.7,663.8 1301.2,673.6 1302.9,675.0 C1304.6,676.4 1307.9,665.9 1309.5,672.4 C1311.1,678.9 1313.3,727.0 1314.7,723.5 C1316.1,720.0 1318.6,652.6 1320.0,646.1 C1321.4,639.6 1323.8,671.3 1325.2,675.0 C1326.6,678.7 1328.7,672.3 1330.5,673.7 C1332.3,675.1 1336.5,687.2 1338.4,685.5 C1340.3,683.8 1343.3,665.5 1344.9,660.6 C1346.5,655.7 1348.8,649.1 1350.2,648.7 C1351.6,648.3 1353.1,654.4 1355.4,657.9 C1357.7,661.4 1364.9,675.2 1367.2,675.0 C1369.5,674.8 1370.6,658.0 1372.5,656.6 C1374.4,655.2 1379.4,664.3 1381.7,664.5 C1384.0,664.7 1387.9,658.4 1389.5,657.9 C1391.1,657.4 1393.0,660.2 1393.5,660.6" fill="none" stroke="#2b36a0" stroke-width="2.8" stroke-linejoin="round" stroke-linecap="round" clip-path="url(#clipD)"/>
<path d="M118.5,1334.7 C118.8,1333.4 119.8,1323.5 120.7,1324.8 C121.6,1326.1 123.8,1341.7 124.9,1344.7 C126.0,1347.8 127.9,1347.9 129.2,1347.5 C130.5,1347.2 133.4,1342.4 134.9,1341.9 C136.4,1341.3 139.2,1341.6 140.5,1343.3 C141.8,1345.0 143.3,1353.2 144.8,1354.7 C146.3,1356.2 149.8,1356.5 151.9,1354.7 C154.0,1352.9 158.7,1341.8 160.4,1341.3 C162.1,1340.7 162.9,1349.6 164.6,1350.5 C166.3,1351.3 171.3,1349.4 173.2,1347.7 C175.1,1346.0 176.5,1336.5 178.8,1337.8 C181.1,1339.2 187.7,1356.5 190.2,1357.7 C192.7,1358.8 195.3,1343.9 197.3,1346.4 C199.3,1348.9 203.4,1374.3 205.1,1376.2 C206.8,1378.1 208.2,1362.3 210.0,1360.6 C211.8,1358.9 216.4,1366.3 218.5,1363.5 C220.6,1360.6 223.7,1343.7 225.6,1339.4 C227.5,1335.1 231.0,1330.5 232.7,1330.9 C234.4,1331.3 237.0,1344.1 238.4,1342.2 C239.8,1340.4 242.4,1316.9 243.4,1316.8 C244.4,1316.6 245.2,1338.8 246.2,1340.9 C247.2,1343.0 250.0,1332.2 251.2,1332.4 C252.4,1332.6 254.5,1341.7 255.4,1342.3 C256.3,1342.9 257.2,1336.5 258.3,1336.7 C259.4,1336.9 262.2,1339.8 263.9,1343.7 C265.6,1347.7 269.3,1362.1 271.0,1366.5 C272.7,1370.8 275.0,1375.5 276.7,1376.5 C278.4,1377.4 282.5,1371.9 283.8,1373.6 C285.1,1375.3 285.3,1386.6 286.6,1389.2 C287.9,1391.9 292.2,1395.4 293.7,1393.5 C295.2,1391.7 296.3,1377.0 298.0,1375.2 C299.7,1373.3 304.8,1378.7 306.5,1379.4 C308.2,1380.1 309.8,1382.7 310.7,1380.6 C311.6,1378.5 312.0,1366.2 313.6,1363.8 C315.2,1361.4 320.7,1362.8 322.8,1362.8 C324.9,1362.9 328.0,1366.0 329.3,1364.5 C330.6,1363.0 331.6,1351.0 332.6,1351.5 C333.6,1351.9 335.3,1366.3 336.6,1367.8 C337.9,1369.3 340.5,1362.9 342.3,1362.9 C344.1,1362.9 348.9,1369.4 350.4,1367.8 C351.9,1366.3 352.2,1354.6 353.7,1351.6 C355.2,1348.5 360.1,1347.7 361.8,1345.1 C363.5,1342.5 364.9,1332.0 366.6,1332.2 C368.3,1332.4 372.5,1345.8 374.7,1346.8 C376.9,1347.9 380.5,1340.6 382.9,1340.4 C385.3,1340.2 390.0,1347.6 392.6,1345.2 C395.2,1342.8 400.1,1323.8 402.3,1322.5 C404.5,1321.3 406.9,1331.9 408.8,1335.6 C410.7,1339.3 414.7,1346.9 416.9,1350.2 C419.1,1353.5 422.8,1357.9 425.0,1360.0 C427.2,1362.2 431.4,1365.8 433.1,1366.5 C434.8,1367.1 435.8,1363.6 438.0,1364.9 C440.2,1366.2 446.4,1375.9 449.4,1376.3 C452.4,1376.8 458.1,1371.9 460.7,1368.3 C463.3,1364.6 466.9,1349.9 468.8,1348.8 C470.7,1347.7 473.8,1360.0 475.3,1360.2 C476.8,1360.4 478.7,1362.3 480.2,1350.4 C481.7,1338.6 485.2,1276.0 486.6,1271.4 C488.0,1266.9 489.3,1304.7 490.8,1316.6 C492.3,1328.4 496.0,1354.3 498.1,1360.3 C500.2,1366.3 504.5,1365.6 506.8,1361.7 C509.1,1357.9 513.6,1329.9 515.5,1331.3 C517.4,1332.6 519.7,1366.5 521.4,1372.0 C523.1,1377.4 526.3,1371.4 528.6,1372.0 C530.9,1372.6 536.6,1378.5 538.8,1376.3 C541.0,1374.2 543.6,1358.0 545.3,1356.1 C547.0,1354.1 550.2,1358.6 551.9,1361.9 C553.6,1365.2 556.8,1379.3 558.4,1380.8 C560.0,1382.4 562.4,1374.5 564.2,1373.5 C566.0,1372.6 570.2,1374.3 572.2,1373.6 C574.2,1372.8 578.1,1367.8 579.5,1367.8 C580.9,1367.8 581.4,1384.1 582.4,1373.6 C583.4,1363.1 585.4,1293.6 586.8,1289.3 C588.2,1285.1 590.6,1332.6 592.6,1341.7 C594.6,1350.9 599.6,1358.9 602.1,1357.8 C604.6,1356.6 609.5,1332.0 611.5,1333.0 C613.5,1334.0 614.6,1357.8 617.3,1365.0 C620.0,1372.2 628.9,1385.9 631.9,1386.9 C634.9,1387.9 638.4,1371.8 639.9,1372.4 C641.4,1373.0 641.5,1391.1 643.5,1391.3 C645.5,1391.5 653.2,1376.1 655.1,1373.9 C657.0,1371.6 657.6,1374.6 658.0,1374.7" fill="none" stroke="#9a4a58" stroke-width="1.2" stroke-dasharray="4.5 4" clip-path="url(#clipE)"/>
<path d="M118.5,1378.7 C118.8,1377.4 119.8,1367.5 120.7,1368.8 C121.6,1370.1 123.8,1385.7 124.9,1388.7 C126.0,1391.7 127.9,1391.9 129.2,1391.5 C130.5,1391.1 133.4,1386.3 134.9,1385.7 C136.4,1385.2 139.2,1385.4 140.5,1387.1 C141.8,1388.8 143.3,1397.0 144.8,1398.5 C146.3,1400.0 149.8,1400.3 151.9,1398.5 C154.0,1396.7 158.7,1385.5 160.4,1384.9 C162.1,1384.4 162.9,1393.3 164.6,1394.1 C166.3,1395.0 171.3,1393.0 173.2,1391.3 C175.1,1389.6 176.5,1380.1 178.8,1381.4 C181.1,1382.7 187.7,1400.0 190.2,1401.1 C192.7,1402.3 195.3,1387.4 197.3,1389.8 C199.3,1392.3 203.4,1417.7 205.1,1419.6 C206.8,1421.5 208.2,1405.7 210.0,1404.0 C211.8,1402.3 216.4,1409.6 218.5,1406.7 C220.6,1403.9 223.7,1387.0 225.6,1382.6 C227.5,1378.3 231.0,1373.7 232.7,1374.1 C234.4,1374.4 237.0,1387.3 238.4,1385.4 C239.8,1383.5 242.4,1360.0 243.4,1359.8 C244.4,1359.7 245.2,1381.9 246.2,1383.9 C247.2,1386.0 250.0,1375.2 251.2,1375.4 C252.4,1375.6 254.5,1384.7 255.4,1385.3 C256.3,1385.9 257.2,1379.5 258.3,1379.7 C259.4,1379.9 262.2,1382.7 263.9,1386.7 C265.6,1390.6 269.3,1405.0 271.0,1409.3 C272.7,1413.7 275.0,1418.4 276.7,1419.3 C278.4,1420.3 282.5,1414.7 283.8,1416.4 C285.1,1418.1 285.3,1429.3 286.6,1432.0 C287.9,1434.6 292.2,1438.1 293.7,1436.3 C295.2,1434.4 296.3,1419.7 298.0,1417.8 C299.7,1415.9 304.8,1421.3 306.5,1422.0 C308.2,1422.7 309.8,1425.3 310.7,1423.2 C311.6,1421.1 312.0,1408.8 313.6,1406.4 C315.2,1404.0 320.7,1405.3 322.8,1405.4 C324.9,1405.4 328.0,1408.5 329.3,1406.9 C330.6,1405.4 331.6,1393.5 332.6,1393.9 C333.6,1394.4 335.3,1408.7 336.6,1410.2 C337.9,1411.7 340.5,1405.3 342.3,1405.3 C344.1,1405.3 348.9,1411.7 350.4,1410.2 C351.9,1408.6 352.2,1396.9 353.7,1393.8 C355.2,1390.8 360.1,1389.9 361.8,1387.3 C363.5,1384.7 364.9,1374.2 366.6,1374.4 C368.3,1374.6 372.5,1387.9 374.7,1389.0 C376.9,1390.0 380.5,1382.7 382.9,1382.4 C385.3,1382.2 390.0,1389.6 392.6,1387.2 C395.2,1384.8 400.1,1365.8 402.3,1364.5 C404.5,1363.2 406.9,1373.8 408.8,1377.4 C410.7,1381.1 414.7,1388.8 416.9,1392.0 C419.1,1395.3 422.8,1399.6 425.0,1401.8 C427.2,1403.9 431.4,1407.5 433.1,1408.1 C434.8,1408.8 435.8,1405.2 438.0,1406.5 C440.2,1407.8 446.4,1417.5 449.4,1417.9 C452.4,1418.3 458.1,1413.4 460.7,1409.7 C463.3,1406.1 466.9,1391.3 468.8,1390.2 C470.7,1389.1 473.8,1401.4 475.3,1401.6 C476.8,1401.8 478.7,1403.6 480.2,1391.8 C481.7,1379.9 485.2,1317.3 486.6,1312.8 C488.0,1308.2 489.3,1346.0 490.8,1357.8 C492.3,1369.7 496.0,1395.5 498.1,1401.5 C500.2,1407.5 504.5,1406.8 506.8,1402.9 C509.1,1399.0 513.6,1371.0 515.5,1372.3 C517.4,1373.7 519.7,1407.6 521.4,1413.0 C523.1,1418.4 526.3,1412.4 528.6,1413.0 C530.9,1413.6 536.6,1419.4 538.8,1417.3 C541.0,1415.1 543.6,1398.9 545.3,1396.9 C547.0,1395.0 550.2,1399.4 551.9,1402.7 C553.6,1406.0 556.8,1420.0 558.4,1421.6 C560.0,1423.1 562.4,1415.2 564.2,1414.3 C566.0,1413.3 570.2,1415.0 572.2,1414.2 C574.2,1413.5 578.1,1408.4 579.5,1408.4 C580.9,1408.4 581.4,1424.7 582.4,1414.2 C583.4,1403.7 585.4,1334.1 586.8,1329.9 C588.2,1325.6 590.6,1373.2 592.6,1382.3 C594.6,1391.4 599.6,1399.4 602.1,1398.2 C604.6,1397.0 609.5,1372.4 611.5,1373.4 C613.5,1374.3 614.6,1398.2 617.3,1405.4 C620.0,1412.5 628.9,1426.2 631.9,1427.1 C634.9,1428.1 638.4,1412.0 639.9,1412.6 C641.4,1413.2 641.5,1431.3 643.5,1431.5 C645.5,1431.7 653.2,1416.2 655.1,1413.9 C657.0,1411.7 657.6,1414.6 658.0,1414.7" fill="none" stroke="#9a4a58" stroke-width="1.2" stroke-dasharray="4.5 4" clip-path="url(#clipE)"/>
<path d="M118.5,1356.7 C118.8,1355.4 119.8,1345.5 120.7,1346.8 C121.6,1348.1 123.8,1363.7 124.9,1366.7 C126.0,1369.7 127.9,1369.9 129.2,1369.5 C130.5,1369.1 133.4,1364.4 134.9,1363.8 C136.4,1363.2 139.2,1363.5 140.5,1365.2 C141.8,1366.9 143.3,1375.1 144.8,1376.6 C146.3,1378.1 149.8,1378.4 151.9,1376.6 C154.0,1374.8 158.7,1363.7 160.4,1363.1 C162.1,1362.5 162.9,1371.4 164.6,1372.3 C166.3,1373.2 171.3,1371.2 173.2,1369.5 C175.1,1367.8 176.5,1358.3 178.8,1359.6 C181.1,1360.9 187.7,1378.3 190.2,1379.4 C192.7,1380.5 195.3,1365.6 197.3,1368.1 C199.3,1370.6 203.4,1396.0 205.1,1397.9 C206.8,1399.8 208.2,1384.0 210.0,1382.3 C211.8,1380.6 216.4,1387.9 218.5,1385.1 C220.6,1382.3 223.7,1365.3 225.6,1361.0 C227.5,1356.7 231.0,1352.1 232.7,1352.5 C234.4,1352.9 237.0,1365.7 238.4,1363.8 C239.8,1361.9 242.4,1338.5 243.4,1338.3 C244.4,1338.1 245.2,1360.3 246.2,1362.4 C247.2,1364.5 250.0,1353.7 251.2,1353.9 C252.4,1354.1 254.5,1363.2 255.4,1363.8 C256.3,1364.4 257.2,1358.0 258.3,1358.2 C259.4,1358.4 262.2,1361.2 263.9,1365.2 C265.6,1369.2 269.3,1383.5 271.0,1387.9 C272.7,1392.3 275.0,1397.0 276.7,1397.9 C278.4,1398.8 282.5,1393.3 283.8,1395.0 C285.1,1396.7 285.3,1407.9 286.6,1410.6 C287.9,1413.3 292.2,1416.8 293.7,1414.9 C295.2,1413.0 296.3,1398.4 298.0,1396.5 C299.7,1394.6 304.8,1400.0 306.5,1400.7 C308.2,1401.4 309.8,1404.0 310.7,1401.9 C311.6,1399.8 312.0,1387.5 313.6,1385.1 C315.2,1382.7 320.7,1384.0 322.8,1384.1 C324.9,1384.2 328.0,1387.2 329.3,1385.7 C330.6,1384.2 331.6,1372.3 332.6,1372.7 C333.6,1373.1 335.3,1387.5 336.6,1389.0 C337.9,1390.5 340.5,1384.1 342.3,1384.1 C344.1,1384.1 348.9,1390.5 350.4,1389.0 C351.9,1387.5 352.2,1375.7 353.7,1372.7 C355.2,1369.7 360.1,1368.8 361.8,1366.2 C363.5,1363.6 364.9,1353.1 366.6,1353.3 C368.3,1353.5 372.5,1366.8 374.7,1367.9 C376.9,1369.0 380.5,1361.6 382.9,1361.4 C385.3,1361.2 390.0,1368.6 392.6,1366.2 C395.2,1363.8 400.1,1344.8 402.3,1343.5 C404.5,1342.2 406.9,1352.8 408.8,1356.5 C410.7,1360.2 414.7,1367.8 416.9,1371.1 C419.1,1374.4 422.8,1378.7 425.0,1380.9 C427.2,1383.1 431.4,1386.7 433.1,1387.3 C434.8,1387.9 435.8,1384.4 438.0,1385.7 C440.2,1387.0 446.4,1396.7 449.4,1397.1 C452.4,1397.5 458.1,1392.7 460.7,1389.0 C463.3,1385.3 466.9,1370.6 468.8,1369.5 C470.7,1368.4 473.8,1380.7 475.3,1380.9 C476.8,1381.1 478.7,1382.9 480.2,1371.1 C481.7,1359.3 485.2,1296.6 486.6,1292.1 C488.0,1287.6 489.3,1325.4 490.8,1337.2 C492.3,1349.0 496.0,1374.9 498.1,1380.9 C500.2,1386.9 504.5,1386.2 506.8,1382.3 C509.1,1378.4 513.6,1350.4 515.5,1351.8 C517.4,1353.2 519.7,1387.1 521.4,1392.5 C523.1,1397.9 526.3,1391.9 528.6,1392.5 C530.9,1393.1 536.6,1398.9 538.8,1396.8 C541.0,1394.7 543.6,1378.4 545.3,1376.5 C547.0,1374.6 550.2,1379.0 551.9,1382.3 C553.6,1385.6 556.8,1399.7 558.4,1401.2 C560.0,1402.7 562.4,1394.9 564.2,1393.9 C566.0,1392.9 570.2,1394.7 572.2,1393.9 C574.2,1393.1 578.1,1388.1 579.5,1388.1 C580.9,1388.1 581.4,1404.4 582.4,1393.9 C583.4,1383.4 585.4,1313.9 586.8,1309.6 C588.2,1305.3 590.6,1352.9 592.6,1362.0 C594.6,1371.1 599.6,1379.2 602.1,1378.0 C604.6,1376.8 609.5,1352.2 611.5,1353.2 C613.5,1354.2 614.6,1378.0 617.3,1385.2 C620.0,1392.4 628.9,1406.0 631.9,1407.0 C634.9,1408.0 638.4,1391.9 639.9,1392.5 C641.4,1393.1 641.5,1411.2 643.5,1411.4 C645.5,1411.6 653.2,1396.1 655.1,1393.9 C657.0,1391.7 657.6,1394.6 658.0,1394.7" fill="none" stroke="#e3141e" stroke-width="2.8" stroke-linejoin="round" stroke-linecap="round" clip-path="url(#clipE)"/>
<path d="M118.5,1357.2 C119.1,1357.6 121.9,1358.6 122.8,1360.1 C123.7,1361.6 124.0,1369.0 124.9,1368.6 C125.8,1368.2 127.7,1356.8 129.2,1357.2 C130.7,1357.5 133.8,1367.6 136.3,1371.3 C138.8,1375.1 145.3,1383.0 147.6,1385.5 C149.9,1388.0 151.6,1391.5 153.3,1389.8 C155.0,1388.1 158.9,1372.9 160.4,1372.7 C161.9,1372.6 163.1,1385.7 164.6,1388.3 C166.1,1391.0 168.9,1390.8 171.7,1392.5 C174.5,1394.2 182.8,1402.3 185.9,1401.0 C189.0,1399.6 192.3,1382.7 195.1,1382.5 C197.9,1382.3 204.6,1397.6 207.2,1399.5 C209.8,1401.4 212.2,1396.7 214.3,1396.7 C216.4,1396.7 220.9,1399.8 222.8,1399.4 C224.7,1399.0 226.6,1396.9 228.5,1393.7 C230.4,1390.5 235.1,1378.1 237.0,1375.3 C238.9,1372.4 241.3,1367.9 242.7,1372.5 C244.1,1377.0 245.7,1403.4 247.6,1409.2 C249.5,1415.1 254.6,1417.3 256.8,1416.3 C259.0,1415.4 262.3,1402.3 263.9,1402.1 C265.5,1401.9 266.8,1414.7 268.9,1414.9 C271.0,1415.1 276.8,1404.1 279.5,1403.5 C282.2,1402.9 287.4,1409.2 289.5,1410.5 C291.6,1411.8 293.8,1414.5 295.1,1413.4 C296.4,1412.2 298.1,1402.5 299.4,1402.0 C300.7,1401.4 303.4,1405.9 305.0,1409.5 C306.6,1413.1 310.2,1427.4 311.5,1428.9 C312.8,1430.4 312.5,1421.7 314.7,1420.8 C316.9,1419.9 325.4,1423.2 327.7,1422.4 C330.0,1421.5 330.5,1411.9 331.8,1414.2 C333.1,1416.6 335.6,1438.9 337.4,1440.2 C339.2,1441.5 344.0,1430.0 345.5,1423.9 C347.0,1417.8 347.9,1395.9 348.8,1394.8 C349.7,1393.7 350.9,1416.6 352.0,1415.8 C353.1,1414.9 354.5,1392.8 356.9,1388.3 C359.3,1383.7 367.1,1383.2 369.9,1381.7 C372.7,1380.2 376.1,1378.9 378.0,1376.8 C379.9,1374.6 382.8,1365.7 384.5,1365.5 C386.2,1365.2 389.5,1374.5 391.0,1375.1 C392.5,1375.8 394.5,1370.0 395.8,1370.2 C397.1,1370.4 399.2,1381.9 400.7,1376.7 C402.2,1371.5 405.7,1330.4 407.2,1331.3 C408.7,1332.1 410.8,1382.1 412.1,1383.2 C413.4,1384.2 415.0,1345.2 416.9,1339.3 C418.8,1333.5 424.2,1343.8 426.6,1339.3 C429.0,1334.8 433.1,1308.1 434.8,1305.3 C436.5,1302.4 437.4,1316.9 439.6,1318.2 C441.8,1319.4 448.4,1316.6 451.0,1314.9 C453.6,1313.2 456.7,1307.8 459.1,1305.2 C461.5,1302.6 466.4,1293.6 468.8,1295.3 C471.2,1297.1 475.4,1318.7 476.9,1318.0 C478.4,1317.4 479.0,1309.2 480.2,1290.5 C481.4,1271.8 484.6,1181.4 486.2,1177.7 C487.8,1173.9 491.1,1246.3 492.3,1262.5 C493.5,1278.6 494.2,1292.2 495.2,1298.7 C496.2,1305.3 498.3,1311.2 499.5,1311.8 C500.7,1312.4 502.3,1305.2 503.9,1303.1 C505.5,1301.0 509.7,1299.7 511.2,1295.8 C512.7,1291.9 514.1,1270.1 515.5,1274.0 C516.9,1277.8 519.8,1319.4 521.4,1324.8 C523.0,1330.3 525.1,1315.6 527.2,1314.6 C529.3,1313.6 535.0,1321.9 537.3,1317.5 C539.6,1313.0 542.7,1286.6 544.6,1281.2 C546.5,1275.7 550.0,1272.5 551.9,1276.7 C553.8,1281.0 557.6,1309.4 559.2,1313.1 C560.8,1316.8 562.9,1304.0 564.2,1304.4 C565.5,1304.8 567.7,1314.2 569.3,1316.0 C570.9,1317.7 574.6,1320.6 575.9,1317.3 C577.2,1314.0 578.0,1292.6 578.8,1291.2 C579.6,1289.9 580.5,1320.6 581.7,1307.2 C582.9,1293.8 586.0,1195.3 587.5,1190.8 C589.0,1186.3 591.3,1261.9 592.6,1273.7 C593.9,1285.5 595.6,1278.5 597.0,1279.5 C598.4,1280.4 601.0,1287.9 602.8,1280.9 C604.6,1274.0 609.1,1226.7 610.8,1227.1 C612.5,1227.5 614.8,1274.9 615.9,1283.8 C617.0,1292.7 617.6,1289.1 618.8,1294.0 C620.0,1298.8 622.7,1315.7 624.6,1320.2 C626.5,1324.6 631.5,1328.3 633.3,1327.3 C635.1,1326.3 637.0,1311.1 638.4,1312.8 C639.8,1314.5 641.5,1338.6 643.5,1340.4 C645.5,1342.1 651.0,1327.2 653.7,1325.8 C656.4,1324.5 662.5,1329.5 663.9,1330.1" fill="none" stroke="#3a3f88" stroke-width="1.2" stroke-dasharray="4.5 4" clip-path="url(#clipE)"/>
<path d="M118.5,1373.2 C119.1,1373.6 121.9,1374.6 122.8,1376.1 C123.7,1377.6 124.0,1385.0 124.9,1384.6 C125.8,1384.2 127.7,1372.9 129.2,1373.2 C130.7,1373.6 133.8,1383.7 136.3,1387.5 C138.8,1391.3 145.3,1399.2 147.6,1401.7 C149.9,1404.2 151.6,1407.7 153.3,1406.0 C155.0,1404.3 158.9,1389.2 160.4,1389.1 C161.9,1388.9 163.1,1402.0 164.6,1404.7 C166.1,1407.3 168.9,1407.2 171.7,1408.9 C174.5,1410.6 182.8,1418.7 185.9,1417.4 C189.0,1416.1 192.3,1399.2 195.1,1399.1 C197.9,1398.9 204.6,1414.2 207.2,1416.1 C209.8,1418.0 212.2,1413.3 214.3,1413.3 C216.4,1413.3 220.9,1416.6 222.8,1416.2 C224.7,1415.8 226.6,1413.7 228.5,1410.5 C230.4,1407.3 235.1,1394.9 237.0,1392.1 C238.9,1389.3 241.3,1384.8 242.7,1389.3 C244.1,1393.9 245.7,1420.3 247.6,1426.2 C249.5,1432.0 254.6,1434.2 256.8,1433.3 C259.0,1432.4 262.3,1419.3 263.9,1419.1 C265.5,1418.9 266.8,1431.7 268.9,1431.9 C271.0,1432.1 276.8,1421.2 279.5,1420.7 C282.2,1420.1 287.4,1426.4 289.5,1427.7 C291.6,1429.0 293.8,1431.8 295.1,1430.6 C296.4,1429.5 298.1,1419.7 299.4,1419.2 C300.7,1418.7 303.4,1423.3 305.0,1426.9 C306.6,1430.5 310.2,1444.8 311.5,1446.3 C312.8,1447.8 312.5,1439.1 314.7,1438.2 C316.9,1437.3 325.4,1440.7 327.7,1439.8 C330.0,1439.0 330.5,1429.4 331.8,1431.8 C333.1,1434.1 335.6,1456.5 337.4,1457.8 C339.2,1459.1 344.0,1447.6 345.5,1441.5 C347.0,1435.5 347.9,1413.5 348.8,1412.4 C349.7,1411.3 350.9,1434.3 352.0,1433.4 C353.1,1432.6 354.5,1410.5 356.9,1405.9 C359.3,1401.4 367.1,1401.0 369.9,1399.5 C372.7,1398.0 376.1,1396.8 378.0,1394.6 C379.9,1392.5 382.8,1383.6 384.5,1383.3 C386.2,1383.1 389.5,1392.4 391.0,1393.1 C392.5,1393.7 394.5,1388.0 395.8,1388.2 C397.1,1388.4 399.2,1399.9 400.7,1394.7 C402.2,1389.5 405.7,1348.5 407.2,1349.3 C408.7,1350.2 410.8,1400.2 412.1,1401.2 C413.4,1402.3 415.0,1363.3 416.9,1357.5 C418.8,1351.6 424.2,1362.0 426.6,1357.5 C429.0,1353.0 433.1,1326.3 434.8,1323.5 C436.5,1320.7 437.4,1335.1 439.6,1336.4 C441.8,1337.8 448.4,1335.0 451.0,1333.3 C453.6,1331.6 456.7,1326.2 459.1,1323.6 C461.5,1321.0 466.4,1312.1 468.8,1313.9 C471.2,1315.6 475.4,1337.2 476.9,1336.6 C478.4,1336.0 479.0,1327.8 480.2,1309.1 C481.4,1290.4 484.6,1200.1 486.2,1196.3 C487.8,1192.6 491.1,1265.0 492.3,1281.1 C493.5,1297.3 494.2,1310.9 495.2,1317.5 C496.2,1324.0 498.3,1330.0 499.5,1330.6 C500.7,1331.2 502.3,1324.0 503.9,1321.9 C505.5,1319.8 509.7,1318.5 511.2,1314.6 C512.7,1310.7 514.1,1289.0 515.5,1292.8 C516.9,1296.7 519.8,1338.3 521.4,1343.8 C523.0,1349.2 525.1,1334.5 527.2,1333.6 C529.3,1332.6 535.0,1341.0 537.3,1336.5 C539.6,1332.1 542.7,1305.7 544.6,1300.2 C546.5,1294.8 550.0,1291.6 551.9,1295.9 C553.8,1300.1 557.6,1328.6 559.2,1332.3 C560.8,1336.0 562.9,1323.2 564.2,1323.6 C565.5,1324.0 567.7,1333.5 569.3,1335.2 C570.9,1337.0 574.6,1340.0 575.9,1336.7 C577.2,1333.4 578.0,1311.9 578.8,1310.6 C579.6,1309.2 580.5,1340.0 581.7,1326.6 C582.9,1313.2 586.0,1214.7 587.5,1210.2 C589.0,1205.7 591.3,1281.3 592.6,1293.1 C593.9,1305.0 595.6,1298.0 597.0,1298.9 C598.4,1299.9 601.0,1307.4 602.8,1300.5 C604.6,1293.5 609.1,1246.3 610.8,1246.7 C612.5,1247.1 614.8,1294.5 615.9,1303.4 C617.0,1312.3 617.6,1308.8 618.8,1313.6 C620.0,1318.5 622.7,1335.4 624.6,1339.8 C626.5,1344.3 631.5,1348.0 633.3,1347.1 C635.1,1346.1 637.0,1330.8 638.4,1332.6 C639.8,1334.4 641.5,1358.5 643.5,1360.2 C645.5,1362.0 651.0,1347.1 653.7,1345.8 C656.4,1344.4 662.5,1349.5 663.9,1350.1" fill="none" stroke="#3a3f88" stroke-width="1.2" stroke-dasharray="4.5 4" clip-path="url(#clipE)"/>
<path d="M118.5,1365.2 C119.1,1365.6 121.9,1366.6 122.8,1368.1 C123.7,1369.6 124.0,1377.0 124.9,1376.6 C125.8,1376.2 127.7,1364.8 129.2,1365.2 C130.7,1365.6 133.8,1375.6 136.3,1379.4 C138.8,1383.2 145.3,1391.1 147.6,1393.6 C149.9,1396.1 151.6,1399.6 153.3,1397.9 C155.0,1396.2 158.9,1381.1 160.4,1380.9 C161.9,1380.7 163.1,1393.9 164.6,1396.5 C166.1,1399.1 168.9,1399.0 171.7,1400.7 C174.5,1402.4 182.8,1410.5 185.9,1409.2 C189.0,1407.9 192.3,1391.0 195.1,1390.8 C197.9,1390.6 204.6,1405.9 207.2,1407.8 C209.8,1409.7 212.2,1405.0 214.3,1405.0 C216.4,1405.0 220.9,1408.2 222.8,1407.8 C224.7,1407.4 226.6,1405.3 228.5,1402.1 C230.4,1398.9 235.1,1386.5 237.0,1383.7 C238.9,1380.9 241.3,1376.4 242.7,1380.9 C244.1,1385.4 245.7,1411.8 247.6,1417.7 C249.5,1423.6 254.6,1425.7 256.8,1424.8 C259.0,1423.9 262.3,1410.8 263.9,1410.6 C265.5,1410.4 266.8,1423.2 268.9,1423.4 C271.0,1423.6 276.8,1412.7 279.5,1412.1 C282.2,1411.5 287.4,1417.8 289.5,1419.1 C291.6,1420.4 293.8,1423.1 295.1,1422.0 C296.4,1420.9 298.1,1411.1 299.4,1410.6 C300.7,1410.1 303.4,1414.6 305.0,1418.2 C306.6,1421.8 310.2,1436.1 311.5,1437.6 C312.8,1439.1 312.5,1430.4 314.7,1429.5 C316.9,1428.6 325.4,1432.0 327.7,1431.1 C330.0,1430.2 330.5,1420.6 331.8,1423.0 C333.1,1425.4 335.6,1447.7 337.4,1449.0 C339.2,1450.3 344.0,1438.8 345.5,1432.7 C347.0,1426.6 347.9,1404.7 348.8,1403.6 C349.7,1402.5 350.9,1425.5 352.0,1424.6 C353.1,1423.7 354.5,1401.6 356.9,1397.1 C359.3,1392.6 367.1,1392.1 369.9,1390.6 C372.7,1389.1 376.1,1387.9 378.0,1385.7 C379.9,1383.5 382.8,1374.6 384.5,1374.4 C386.2,1374.2 389.5,1383.5 391.0,1384.1 C392.5,1384.7 394.5,1379.0 395.8,1379.2 C397.1,1379.4 399.2,1390.9 400.7,1385.7 C402.2,1380.5 405.7,1339.4 407.2,1340.3 C408.7,1341.2 410.8,1391.1 412.1,1392.2 C413.4,1393.3 415.0,1354.2 416.9,1348.4 C418.8,1342.6 424.2,1352.9 426.6,1348.4 C429.0,1343.9 433.1,1317.2 434.8,1314.4 C436.5,1311.6 437.4,1326.0 439.6,1327.3 C441.8,1328.6 448.4,1325.8 451.0,1324.1 C453.6,1322.4 456.7,1317.0 459.1,1314.4 C461.5,1311.8 466.4,1302.9 468.8,1304.6 C471.2,1306.3 475.4,1327.9 476.9,1327.3 C478.4,1326.7 479.0,1318.5 480.2,1299.8 C481.4,1281.1 484.6,1190.7 486.2,1187.0 C487.8,1183.3 491.1,1255.7 492.3,1271.8 C493.5,1287.9 494.2,1301.5 495.2,1308.1 C496.2,1314.7 498.3,1320.6 499.5,1321.2 C500.7,1321.8 502.3,1314.6 503.9,1312.5 C505.5,1310.4 509.7,1309.1 511.2,1305.2 C512.7,1301.3 514.1,1279.5 515.5,1283.4 C516.9,1287.3 519.8,1328.9 521.4,1334.3 C523.0,1339.7 525.1,1325.1 527.2,1324.1 C529.3,1323.1 535.0,1331.5 537.3,1327.0 C539.6,1322.5 542.7,1296.1 544.6,1290.7 C546.5,1285.3 550.0,1282.0 551.9,1286.3 C553.8,1290.6 557.6,1319.0 559.2,1322.7 C560.8,1326.4 562.9,1313.6 564.2,1314.0 C565.5,1314.4 567.7,1323.9 569.3,1325.6 C570.9,1327.3 574.6,1330.3 575.9,1327.0 C577.2,1323.7 578.0,1302.2 578.8,1300.9 C579.6,1299.6 580.5,1330.3 581.7,1316.9 C582.9,1303.5 586.0,1205.0 587.5,1200.5 C589.0,1196.0 591.3,1271.6 592.6,1283.4 C593.9,1295.2 595.6,1288.2 597.0,1289.2 C598.4,1290.2 601.0,1297.7 602.8,1290.7 C604.6,1283.7 609.1,1236.5 610.8,1236.9 C612.5,1237.3 614.8,1284.7 615.9,1293.6 C617.0,1302.5 617.6,1298.9 618.8,1303.8 C620.0,1308.7 622.7,1325.5 624.6,1330.0 C626.5,1334.5 631.5,1338.2 633.3,1337.2 C635.1,1336.2 637.0,1321.0 638.4,1322.7 C639.8,1324.4 641.5,1348.6 643.5,1350.3 C645.5,1352.0 651.0,1337.2 653.7,1335.8 C656.4,1334.4 662.5,1339.5 663.9,1340.1" fill="none" stroke="#2b36a0" stroke-width="2.8" stroke-linejoin="round" stroke-linecap="round" clip-path="url(#clipE)"/>
<path d="M865.9,1129.0 C866.4,1133.7 868.8,1159.2 869.8,1164.4 C870.8,1169.7 872.9,1162.5 873.7,1168.6 C874.5,1174.6 874.6,1204.5 875.7,1209.8 C876.8,1215.1 880.4,1209.7 881.6,1208.2 C882.8,1206.7 883.7,1193.1 884.5,1198.6 C885.3,1204.1 886.5,1242.8 887.4,1249.7 C888.3,1256.5 890.2,1248.5 891.4,1249.9 C892.6,1251.3 895.0,1262.0 896.3,1260.0 C897.6,1258.0 899.7,1235.5 901.1,1234.8 C902.5,1234.1 905.3,1251.8 907.0,1254.7 C908.7,1257.7 911.9,1261.5 913.9,1257.2 C915.9,1252.8 920.0,1227.2 921.7,1222.3 C923.4,1217.5 925.3,1222.7 926.6,1220.7 C927.9,1218.7 929.7,1208.8 931.5,1207.3 C933.3,1205.8 938.3,1207.5 940.3,1209.7 C942.3,1211.9 944.9,1218.0 946.2,1223.8 C947.5,1229.6 948.8,1247.7 950.1,1253.4 C951.4,1259.1 953.7,1265.8 956.0,1266.5 C958.3,1267.1 965.9,1258.6 967.7,1258.4 C969.5,1258.1 968.5,1270.3 969.7,1264.4 C970.9,1258.5 974.9,1218.2 976.5,1213.9 C978.1,1209.6 980.0,1226.2 981.4,1231.8 C982.8,1237.4 985.9,1255.3 987.3,1255.6 C988.7,1256.0 990.9,1233.6 992.2,1234.4 C993.5,1235.3 995.1,1254.2 997.1,1262.1 C999.1,1270.1 1005.1,1290.2 1006.9,1293.9 C1008.7,1297.7 1009.5,1288.6 1010.8,1290.2 C1012.1,1291.9 1015.3,1298.2 1016.6,1306.1 C1017.9,1314.0 1019.0,1345.2 1020.6,1349.4 C1022.2,1353.7 1026.8,1331.2 1028.4,1338.0 C1030.0,1344.9 1031.3,1392.5 1032.3,1400.9 C1033.3,1409.3 1035.3,1403.7 1036.2,1401.1 C1037.1,1398.5 1037.9,1381.3 1039.2,1381.7 C1040.5,1382.0 1044.5,1403.6 1046.0,1403.5 C1047.5,1403.4 1048.5,1383.3 1050.1,1380.6 C1051.7,1377.9 1055.9,1384.1 1057.8,1383.5 C1059.7,1382.9 1062.5,1378.7 1064.1,1376.2 C1065.7,1373.7 1068.4,1361.9 1069.9,1365.0 C1071.4,1368.1 1074.0,1394.4 1075.6,1399.8 C1077.2,1405.1 1080.3,1405.3 1082.0,1405.2 C1083.7,1405.1 1087.0,1398.9 1088.4,1399.1 C1089.8,1399.3 1091.0,1409.6 1092.2,1406.9 C1093.4,1404.2 1095.8,1387.4 1097.3,1379.2 C1098.8,1370.9 1102.0,1349.4 1103.7,1344.8 C1105.4,1340.2 1108.2,1342.4 1110.1,1344.8 C1112.0,1347.2 1115.9,1359.6 1117.8,1362.7 C1119.7,1365.8 1122.3,1367.5 1124.2,1367.8 C1126.1,1368.1 1130.1,1369.6 1131.8,1365.2 C1133.5,1360.8 1135.0,1330.5 1136.9,1334.6 C1138.8,1338.7 1143.9,1390.6 1145.9,1395.9 C1147.9,1401.2 1150.5,1379.8 1152.2,1374.2 C1153.9,1368.6 1156.9,1354.4 1158.6,1353.7 C1160.3,1353.0 1163.3,1365.6 1165.0,1369.0 C1166.7,1372.4 1169.8,1381.7 1171.4,1379.3 C1173.0,1376.9 1175.6,1353.8 1177.1,1351.2 C1178.6,1348.6 1181.1,1359.1 1182.9,1360.1 C1184.7,1361.1 1188.6,1360.0 1190.5,1358.8 C1192.4,1357.6 1194.8,1351.2 1196.9,1351.2 C1199.0,1351.2 1204.2,1356.6 1205.9,1358.8 C1207.6,1361.0 1209.1,1365.9 1210.0,1367.8 C1210.9,1369.7 1211.8,1380.0 1212.7,1373.2 C1213.6,1366.4 1215.5,1316.4 1216.7,1316.6 C1217.9,1316.8 1219.7,1379.3 1221.5,1374.6 C1223.3,1369.9 1228.1,1291.8 1230.2,1281.6 C1232.3,1271.4 1235.0,1295.5 1237.0,1297.8 C1239.0,1300.1 1243.2,1296.4 1245.0,1299.1 C1246.8,1301.8 1249.0,1320.3 1250.4,1318.0 C1251.8,1315.7 1254.0,1283.0 1255.8,1281.6 C1257.6,1280.2 1261.9,1303.4 1263.9,1307.2 C1265.9,1311.0 1268.9,1312.2 1270.6,1309.9 C1272.3,1307.6 1274.9,1290.4 1276.7,1289.7 C1278.5,1289.0 1282.2,1301.8 1284.1,1304.5 C1286.0,1307.2 1289.3,1308.3 1290.9,1309.9 C1292.5,1311.5 1294.6,1316.4 1296.2,1316.6 C1297.8,1316.8 1301.0,1312.3 1303.0,1311.2 C1305.0,1310.1 1309.4,1317.8 1311.1,1308.5 C1312.8,1299.2 1314.6,1247.1 1315.7,1241.3 C1316.8,1235.5 1318.5,1264.9 1319.6,1264.7 C1320.7,1264.5 1322.6,1242.4 1324.3,1239.8 C1326.0,1237.2 1330.5,1245.0 1332.1,1245.2 C1333.7,1245.4 1334.5,1238.3 1336.0,1241.3 C1337.5,1244.3 1341.4,1262.6 1343.0,1267.8 C1344.6,1273.0 1346.9,1275.6 1347.7,1280.3 C1348.5,1285.0 1348.1,1301.8 1348.8,1303.2 C1349.5,1304.6 1350.5,1290.8 1352.8,1291.0 C1355.1,1291.2 1363.8,1299.6 1366.3,1304.5 C1368.8,1309.4 1370.4,1324.2 1371.7,1327.4 C1373.0,1330.6 1374.4,1331.5 1375.7,1328.8 C1377.0,1326.1 1380.4,1309.4 1381.8,1307.2 C1383.2,1305.0 1385.9,1311.9 1386.5,1312.6" fill="none" stroke="#9a4a58" stroke-width="1.2" stroke-dasharray="4.5 4" clip-path="url(#clipF)"/>
<path d="M865.9,1205.0 C866.4,1209.7 868.8,1234.8 869.8,1240.0 C870.8,1245.1 872.9,1237.7 873.7,1243.6 C874.5,1249.6 874.6,1279.5 875.7,1284.6 C876.8,1289.8 880.4,1284.0 881.6,1282.4 C882.8,1280.7 883.7,1267.0 884.5,1272.4 C885.3,1277.8 886.5,1316.4 887.4,1323.1 C888.3,1329.9 890.2,1321.6 891.4,1322.9 C892.6,1324.1 895.0,1334.6 896.3,1332.4 C897.6,1330.2 899.7,1307.5 901.1,1306.6 C902.5,1305.7 905.3,1323.1 907.0,1325.9 C908.7,1328.6 911.9,1332.0 913.9,1327.4 C915.9,1322.9 920.0,1296.7 921.7,1291.7 C923.4,1286.6 925.3,1291.6 926.6,1289.5 C927.9,1287.3 929.7,1277.2 931.5,1275.5 C933.3,1273.8 938.3,1274.9 940.3,1276.9 C942.3,1278.8 944.9,1284.5 946.2,1290.2 C947.5,1295.9 948.8,1313.8 950.1,1319.4 C951.4,1324.9 953.7,1331.3 956.0,1331.7 C958.3,1332.1 965.9,1322.7 967.7,1322.2 C969.5,1321.7 968.5,1334.1 969.7,1328.0 C970.9,1321.9 974.9,1281.2 976.5,1276.7 C978.1,1272.2 980.0,1288.6 981.4,1294.0 C982.8,1299.4 985.9,1317.0 987.3,1317.2 C988.7,1317.3 990.9,1294.7 992.2,1295.4 C993.5,1296.1 995.1,1314.8 997.1,1322.5 C999.1,1330.2 1005.1,1349.7 1006.9,1353.3 C1008.7,1356.8 1009.5,1347.7 1010.8,1349.2 C1012.1,1350.7 1015.3,1356.7 1016.6,1364.5 C1017.9,1372.2 1019.0,1403.3 1020.6,1407.4 C1022.2,1411.5 1026.8,1388.5 1028.4,1395.2 C1030.0,1401.9 1031.3,1449.4 1032.3,1457.7 C1033.3,1466.0 1035.3,1460.1 1036.2,1457.5 C1037.1,1454.8 1037.9,1437.6 1039.2,1437.7 C1040.5,1437.9 1044.5,1459.2 1046.0,1458.9 C1047.5,1458.6 1048.5,1438.4 1050.1,1435.6 C1051.7,1432.8 1055.9,1438.5 1057.8,1437.7 C1059.7,1436.9 1062.5,1432.4 1064.1,1429.8 C1065.7,1427.2 1068.4,1415.0 1069.9,1418.0 C1071.4,1421.0 1074.0,1447.0 1075.6,1452.2 C1077.2,1457.4 1080.3,1457.3 1082.0,1457.0 C1083.7,1456.7 1087.0,1450.2 1088.4,1450.3 C1089.8,1450.4 1091.0,1460.5 1092.2,1457.7 C1093.4,1454.9 1095.8,1437.8 1097.3,1429.4 C1098.8,1421.0 1102.0,1399.4 1103.7,1394.8 C1105.4,1390.2 1108.2,1392.4 1110.1,1394.8 C1112.0,1397.2 1115.9,1409.6 1117.8,1412.7 C1119.7,1415.8 1122.3,1417.5 1124.2,1417.8 C1126.1,1418.1 1130.1,1419.6 1131.8,1415.2 C1133.5,1410.8 1135.0,1380.5 1136.9,1384.6 C1138.8,1388.7 1143.9,1440.6 1145.9,1445.9 C1147.9,1451.2 1150.5,1429.8 1152.2,1424.2 C1153.9,1418.6 1156.9,1404.4 1158.6,1403.7 C1160.3,1403.0 1163.3,1415.6 1165.0,1419.0 C1166.7,1422.4 1169.8,1431.7 1171.4,1429.3 C1173.0,1426.9 1175.6,1403.8 1177.1,1401.2 C1178.6,1398.6 1181.1,1409.1 1182.9,1410.1 C1184.7,1411.1 1188.6,1410.0 1190.5,1408.8 C1192.4,1407.6 1194.8,1401.2 1196.9,1401.2 C1199.0,1401.2 1204.2,1406.6 1205.9,1408.8 C1207.6,1411.0 1209.1,1415.9 1210.0,1417.8 C1210.9,1419.7 1211.8,1430.0 1212.7,1423.2 C1213.6,1416.4 1215.5,1366.4 1216.7,1366.6 C1217.9,1366.8 1219.7,1429.3 1221.5,1424.6 C1223.3,1419.9 1228.1,1341.8 1230.2,1331.6 C1232.3,1321.4 1235.0,1345.5 1237.0,1347.8 C1239.0,1350.1 1243.2,1346.4 1245.0,1349.1 C1246.8,1351.8 1249.0,1370.3 1250.4,1368.0 C1251.8,1365.7 1254.0,1333.0 1255.8,1331.6 C1257.6,1330.2 1261.9,1353.4 1263.9,1357.2 C1265.9,1361.0 1268.9,1362.2 1270.6,1359.9 C1272.3,1357.6 1274.9,1340.4 1276.7,1339.7 C1278.5,1339.0 1282.2,1351.8 1284.1,1354.5 C1286.0,1357.2 1289.3,1358.3 1290.9,1359.9 C1292.5,1361.5 1294.6,1366.4 1296.2,1366.6 C1297.8,1366.8 1301.0,1362.3 1303.0,1361.2 C1305.0,1360.1 1309.4,1367.8 1311.1,1358.5 C1312.8,1349.2 1314.6,1297.1 1315.7,1291.3 C1316.8,1285.5 1318.5,1314.9 1319.6,1314.7 C1320.7,1314.5 1322.6,1292.4 1324.3,1289.8 C1326.0,1287.2 1330.5,1295.0 1332.1,1295.2 C1333.7,1295.4 1334.5,1288.3 1336.0,1291.3 C1337.5,1294.3 1341.4,1312.6 1343.0,1317.8 C1344.6,1323.0 1346.9,1325.6 1347.7,1330.3 C1348.5,1335.0 1348.1,1351.8 1348.8,1353.2 C1349.5,1354.6 1350.5,1340.8 1352.8,1341.0 C1355.1,1341.2 1363.8,1349.6 1366.3,1354.5 C1368.8,1359.4 1370.4,1374.2 1371.7,1377.4 C1373.0,1380.6 1374.4,1381.5 1375.7,1378.8 C1377.0,1376.1 1380.4,1359.4 1381.8,1357.2 C1383.2,1355.0 1385.9,1361.9 1386.5,1362.6" fill="none" stroke="#9a4a58" stroke-width="1.2" stroke-dasharray="4.5 4" clip-path="url(#clipF)"/>
<path d="M865.9,1167.0 C866.4,1171.7 868.8,1197.0 869.8,1202.2 C870.8,1207.4 872.9,1200.1 873.7,1206.1 C874.5,1212.1 874.6,1242.0 875.7,1247.2 C876.8,1252.4 880.4,1246.9 881.6,1245.3 C882.8,1243.7 883.7,1230.0 884.5,1235.5 C885.3,1241.0 886.5,1279.6 887.4,1286.4 C888.3,1293.2 890.2,1285.1 891.4,1286.4 C892.6,1287.7 895.0,1298.3 896.3,1296.2 C897.6,1294.1 899.7,1271.5 901.1,1270.7 C902.5,1269.9 905.3,1287.4 907.0,1290.3 C908.7,1293.2 911.9,1296.7 913.9,1292.3 C915.9,1287.9 920.0,1262.0 921.7,1257.0 C923.4,1252.0 925.3,1257.2 926.6,1255.1 C927.9,1253.0 929.7,1243.0 931.5,1241.4 C933.3,1239.8 938.3,1241.2 940.3,1243.3 C942.3,1245.4 944.9,1251.3 946.2,1257.0 C947.5,1262.7 948.8,1280.8 950.1,1286.4 C951.4,1292.0 953.7,1298.6 956.0,1299.1 C958.3,1299.6 965.9,1290.7 967.7,1290.3 C969.5,1289.9 968.5,1302.2 969.7,1296.2 C970.9,1290.2 974.9,1249.7 976.5,1245.3 C978.1,1240.9 980.0,1257.4 981.4,1262.9 C982.8,1268.4 985.9,1286.1 987.3,1286.4 C988.7,1286.7 990.9,1264.1 992.2,1264.9 C993.5,1265.7 995.1,1284.5 997.1,1292.3 C999.1,1300.1 1005.1,1319.9 1006.9,1323.6 C1008.7,1327.3 1009.5,1318.1 1010.8,1319.7 C1012.1,1321.3 1015.3,1327.5 1016.6,1335.3 C1017.9,1343.1 1019.0,1374.2 1020.6,1378.4 C1022.2,1382.6 1026.8,1359.8 1028.4,1366.6 C1030.0,1373.4 1031.3,1420.9 1032.3,1429.3 C1033.3,1437.7 1035.3,1431.9 1036.2,1429.3 C1037.1,1426.7 1037.9,1409.4 1039.2,1409.7 C1040.5,1410.0 1044.5,1431.4 1046.0,1431.2 C1047.5,1431.0 1048.5,1410.8 1050.1,1408.1 C1051.7,1405.4 1055.9,1411.3 1057.8,1410.6 C1059.7,1409.9 1062.5,1405.5 1064.1,1403.0 C1065.7,1400.5 1068.4,1388.4 1069.9,1391.5 C1071.4,1394.6 1074.0,1420.7 1075.6,1426.0 C1077.2,1431.3 1080.3,1431.3 1082.0,1431.1 C1083.7,1430.9 1087.0,1424.5 1088.4,1424.7 C1089.8,1424.9 1091.0,1435.0 1092.2,1432.3 C1093.4,1429.6 1095.8,1412.6 1097.3,1404.3 C1098.8,1396.0 1102.0,1374.4 1103.7,1369.8 C1105.4,1365.2 1108.2,1367.4 1110.1,1369.8 C1112.0,1372.2 1115.9,1384.6 1117.8,1387.7 C1119.7,1390.8 1122.3,1392.5 1124.2,1392.8 C1126.1,1393.1 1130.1,1394.6 1131.8,1390.2 C1133.5,1385.8 1135.0,1355.5 1136.9,1359.6 C1138.8,1363.7 1143.9,1415.6 1145.9,1420.9 C1147.9,1426.2 1150.5,1404.8 1152.2,1399.2 C1153.9,1393.6 1156.9,1379.4 1158.6,1378.7 C1160.3,1378.0 1163.3,1390.6 1165.0,1394.0 C1166.7,1397.4 1169.8,1406.7 1171.4,1404.3 C1173.0,1401.9 1175.6,1378.8 1177.1,1376.2 C1178.6,1373.6 1181.1,1384.1 1182.9,1385.1 C1184.7,1386.1 1188.6,1385.0 1190.5,1383.8 C1192.4,1382.6 1194.8,1376.2 1196.9,1376.2 C1199.0,1376.2 1204.2,1381.6 1205.9,1383.8 C1207.6,1386.0 1209.1,1390.9 1210.0,1392.8 C1210.9,1394.7 1211.8,1405.0 1212.7,1398.2 C1213.6,1391.4 1215.5,1341.4 1216.7,1341.6 C1217.9,1341.8 1219.7,1404.3 1221.5,1399.6 C1223.3,1394.9 1228.1,1316.8 1230.2,1306.6 C1232.3,1296.4 1235.0,1320.5 1237.0,1322.8 C1239.0,1325.1 1243.2,1321.4 1245.0,1324.1 C1246.8,1326.8 1249.0,1345.3 1250.4,1343.0 C1251.8,1340.7 1254.0,1308.0 1255.8,1306.6 C1257.6,1305.2 1261.9,1328.4 1263.9,1332.2 C1265.9,1336.0 1268.9,1337.2 1270.6,1334.9 C1272.3,1332.6 1274.9,1315.4 1276.7,1314.7 C1278.5,1314.0 1282.2,1326.8 1284.1,1329.5 C1286.0,1332.2 1289.3,1333.3 1290.9,1334.9 C1292.5,1336.5 1294.6,1341.4 1296.2,1341.6 C1297.8,1341.8 1301.0,1337.3 1303.0,1336.2 C1305.0,1335.1 1309.4,1342.8 1311.1,1333.5 C1312.8,1324.2 1314.6,1272.1 1315.7,1266.3 C1316.8,1260.5 1318.5,1289.9 1319.6,1289.7 C1320.7,1289.5 1322.6,1267.4 1324.3,1264.8 C1326.0,1262.2 1330.5,1270.0 1332.1,1270.2 C1333.7,1270.4 1334.5,1263.3 1336.0,1266.3 C1337.5,1269.3 1341.4,1287.6 1343.0,1292.8 C1344.6,1298.0 1346.9,1300.6 1347.7,1305.3 C1348.5,1310.0 1348.1,1326.8 1348.8,1328.2 C1349.5,1329.6 1350.5,1315.8 1352.8,1316.0 C1355.1,1316.2 1363.8,1324.6 1366.3,1329.5 C1368.8,1334.4 1370.4,1349.2 1371.7,1352.4 C1373.0,1355.6 1374.4,1356.5 1375.7,1353.8 C1377.0,1351.1 1380.4,1334.4 1381.8,1332.2 C1383.2,1330.0 1385.9,1336.9 1386.5,1337.6" fill="none" stroke="#e3141e" stroke-width="2.8" stroke-linejoin="round" stroke-linecap="round" clip-path="url(#clipF)"/>
<path d="M865.9,1335.2 C866.7,1337.5 870.2,1349.1 871.8,1352.8 C873.4,1356.5 876.1,1362.6 877.7,1362.6 C879.3,1362.6 882.2,1350.7 883.5,1352.8 C884.8,1354.9 885.8,1372.7 887.4,1378.2 C889.0,1383.7 893.3,1392.7 895.3,1393.9 C897.3,1395.1 900.4,1386.7 902.1,1387.0 C903.8,1387.3 906.3,1395.9 908.0,1395.8 C909.7,1395.7 912.4,1386.3 914.9,1386.0 C917.4,1385.7 923.9,1395.2 926.6,1393.9 C929.3,1392.6 933.3,1377.6 935.4,1376.3 C937.5,1375.0 940.7,1379.9 942.3,1384.1 C943.9,1388.3 945.9,1407.3 947.2,1407.6 C948.5,1407.9 950.3,1387.1 952.0,1386.0 C953.7,1384.9 957.8,1398.4 959.9,1399.7 C962.0,1401.0 965.5,1402.3 967.7,1395.8 C969.9,1389.3 974.4,1355.0 976.5,1350.8 C978.6,1346.6 981.7,1360.3 983.4,1364.5 C985.1,1368.7 987.1,1381.6 989.2,1382.1 C991.3,1382.6 996.6,1370.0 999.0,1368.4 C1001.4,1366.8 1005.1,1373.8 1006.9,1370.4 C1008.7,1367.0 1011.1,1346.4 1012.7,1343.0 C1014.3,1339.6 1016.5,1341.0 1018.6,1344.9 C1020.7,1348.8 1025.8,1367.9 1028.4,1372.3 C1031.0,1376.7 1035.9,1372.7 1038.2,1378.2 C1040.5,1383.7 1044.4,1410.6 1046.0,1413.5 C1047.6,1416.4 1048.7,1399.7 1050.1,1400.1 C1051.5,1400.5 1054.6,1414.3 1056.5,1416.7 C1058.4,1419.1 1062.5,1418.7 1064.1,1418.0 C1065.7,1417.3 1067.2,1407.0 1068.6,1411.6 C1070.0,1416.2 1072.5,1445.8 1074.4,1452.4 C1076.3,1459.0 1080.8,1462.9 1082.7,1461.4 C1084.6,1459.9 1087.1,1443.6 1088.4,1441.0 C1089.7,1438.4 1090.8,1446.1 1092.2,1442.2 C1093.6,1438.3 1097.1,1418.6 1098.6,1411.6 C1100.1,1404.6 1101.9,1391.8 1103.1,1389.9 C1104.3,1388.0 1106.0,1397.2 1107.6,1397.5 C1109.2,1397.8 1113.3,1393.9 1115.2,1392.4 C1117.1,1390.9 1120.1,1388.4 1121.6,1386.0 C1123.1,1383.6 1125.3,1376.3 1126.7,1374.6 C1128.1,1372.9 1130.3,1379.9 1131.8,1373.3 C1133.3,1366.7 1136.3,1322.9 1138.2,1324.8 C1140.1,1326.7 1144.4,1382.9 1145.9,1387.3 C1147.4,1391.7 1148.3,1359.4 1149.1,1358.0 C1149.9,1356.6 1151.3,1379.7 1152.2,1377.1 C1153.1,1374.5 1154.4,1340.7 1156.1,1338.8 C1157.8,1336.9 1162.8,1361.6 1165.0,1363.1 C1167.2,1364.6 1171.3,1354.4 1172.7,1350.3 C1174.1,1346.2 1173.8,1334.4 1175.2,1332.4 C1176.6,1330.4 1181.2,1335.5 1182.9,1335.0 C1184.6,1334.5 1186.6,1328.8 1188.0,1328.6 C1189.4,1328.4 1191.6,1334.6 1193.1,1333.7 C1194.6,1332.8 1197.6,1323.1 1199.5,1322.2 C1201.4,1321.3 1205.6,1324.4 1207.1,1327.3 C1208.6,1330.2 1209.7,1350.6 1211.0,1343.9 C1212.3,1337.2 1215.2,1276.8 1216.7,1277.2 C1218.2,1277.6 1220.3,1346.0 1222.1,1347.1 C1223.9,1348.2 1228.6,1293.5 1230.2,1285.1 C1231.8,1276.7 1233.2,1282.9 1234.3,1283.8 C1235.4,1284.7 1236.5,1290.8 1238.3,1291.9 C1240.1,1293.0 1246.1,1289.9 1247.7,1291.9 C1249.3,1293.9 1249.3,1310.1 1250.4,1306.7 C1251.5,1303.3 1254.5,1269.4 1255.8,1266.3 C1257.1,1263.2 1258.6,1280.4 1259.9,1283.8 C1261.2,1287.2 1263.6,1290.5 1265.2,1291.9 C1266.8,1293.3 1270.5,1296.0 1272.0,1294.6 C1273.5,1293.2 1274.7,1279.3 1276.7,1281.1 C1278.7,1282.9 1284.2,1304.1 1286.8,1308.0 C1289.4,1311.9 1294.3,1311.7 1296.2,1310.7 C1298.1,1309.7 1299.1,1301.3 1300.9,1300.4 C1302.7,1299.5 1307.6,1316.0 1309.5,1304.3 C1311.4,1292.6 1313.9,1217.9 1315.0,1212.3 C1316.1,1206.7 1317.1,1258.9 1318.1,1262.2 C1319.1,1265.5 1321.7,1241.6 1322.8,1237.2 C1323.9,1232.8 1325.7,1229.5 1326.7,1229.4 C1327.7,1229.3 1329.1,1236.8 1330.2,1236.5 C1331.3,1236.2 1333.3,1224.7 1335.2,1227.1 C1337.1,1229.5 1342.6,1246.1 1344.6,1254.4 C1346.6,1262.7 1349.1,1286.0 1350.1,1289.5 C1351.1,1293.0 1351.3,1279.5 1352.4,1280.9 C1353.5,1282.3 1356.8,1297.0 1358.7,1299.7 C1360.6,1302.4 1364.6,1296.8 1366.3,1301.3 C1368.0,1305.8 1370.3,1330.0 1371.7,1333.6 C1373.1,1337.2 1375.7,1330.7 1377.1,1328.2 C1378.5,1325.7 1381.1,1315.3 1382.5,1314.8 C1383.9,1314.3 1386.3,1323.5 1387.9,1324.2 C1389.5,1324.9 1393.7,1320.7 1394.6,1320.2" fill="none" stroke="#3a3f88" stroke-width="1.2" stroke-dasharray="4.5 4" clip-path="url(#clipF)"/>
<path d="M865.9,1351.2 C866.7,1353.5 870.2,1365.1 871.8,1368.8 C873.4,1372.5 876.1,1378.6 877.7,1378.6 C879.3,1378.6 882.2,1366.7 883.5,1368.8 C884.8,1370.9 885.8,1388.7 887.4,1394.2 C889.0,1399.7 893.3,1408.7 895.3,1409.9 C897.3,1411.1 900.4,1402.7 902.1,1403.0 C903.8,1403.3 906.3,1411.9 908.0,1411.8 C909.7,1411.7 912.4,1402.3 914.9,1402.0 C917.4,1401.7 923.9,1411.2 926.6,1409.9 C929.3,1408.6 933.3,1393.6 935.4,1392.3 C937.5,1391.0 940.7,1395.9 942.3,1400.1 C943.9,1404.3 945.9,1423.3 947.2,1423.6 C948.5,1423.9 950.3,1403.1 952.0,1402.0 C953.7,1400.9 957.8,1414.4 959.9,1415.7 C962.0,1417.0 965.5,1418.3 967.7,1411.8 C969.9,1405.3 974.4,1371.0 976.5,1366.8 C978.6,1362.6 981.7,1376.3 983.4,1380.5 C985.1,1384.7 987.1,1397.6 989.2,1398.1 C991.3,1398.6 996.6,1386.0 999.0,1384.4 C1001.4,1382.8 1005.1,1389.8 1006.9,1386.4 C1008.7,1383.0 1011.1,1362.4 1012.7,1359.0 C1014.3,1355.6 1016.5,1357.0 1018.6,1360.9 C1020.7,1364.8 1025.8,1383.9 1028.4,1388.3 C1031.0,1392.7 1035.9,1388.7 1038.2,1394.2 C1040.5,1399.7 1044.4,1426.6 1046.0,1429.5 C1047.6,1432.4 1048.7,1415.7 1050.1,1416.1 C1051.5,1416.5 1054.6,1430.3 1056.5,1432.7 C1058.4,1435.1 1062.5,1434.7 1064.1,1434.0 C1065.7,1433.3 1067.2,1423.0 1068.6,1427.6 C1070.0,1432.2 1072.5,1461.8 1074.4,1468.4 C1076.3,1475.0 1080.8,1478.9 1082.7,1477.4 C1084.6,1475.9 1087.1,1459.6 1088.4,1457.0 C1089.7,1454.4 1090.8,1462.1 1092.2,1458.2 C1093.6,1454.3 1097.1,1434.6 1098.6,1427.6 C1100.1,1420.6 1101.9,1407.8 1103.1,1405.9 C1104.3,1404.0 1106.0,1413.2 1107.6,1413.5 C1109.2,1413.8 1113.3,1409.9 1115.2,1408.4 C1117.1,1406.9 1120.1,1404.4 1121.6,1402.0 C1123.1,1399.6 1125.3,1392.3 1126.7,1390.6 C1128.1,1388.9 1130.3,1395.9 1131.8,1389.3 C1133.3,1382.7 1136.3,1338.9 1138.2,1340.8 C1140.1,1342.7 1144.4,1398.9 1145.9,1403.3 C1147.4,1407.7 1148.3,1375.4 1149.1,1374.0 C1149.9,1372.6 1151.3,1395.7 1152.2,1393.1 C1153.1,1390.5 1154.4,1356.7 1156.1,1354.8 C1157.8,1352.9 1162.8,1377.6 1165.0,1379.1 C1167.2,1380.6 1171.3,1370.4 1172.7,1366.3 C1174.1,1362.2 1173.8,1350.4 1175.2,1348.4 C1176.6,1346.4 1181.2,1351.5 1182.9,1351.0 C1184.6,1350.5 1186.6,1344.8 1188.0,1344.6 C1189.4,1344.4 1191.6,1350.6 1193.1,1349.7 C1194.6,1348.8 1197.6,1339.1 1199.5,1338.2 C1201.4,1337.3 1205.6,1340.4 1207.1,1343.3 C1208.6,1346.2 1209.7,1366.6 1211.0,1359.9 C1212.3,1353.2 1215.2,1292.8 1216.7,1293.2 C1218.2,1293.6 1220.3,1362.0 1222.1,1363.1 C1223.9,1364.2 1228.6,1309.5 1230.2,1301.1 C1231.8,1292.7 1233.2,1298.9 1234.3,1299.8 C1235.4,1300.7 1236.5,1306.8 1238.3,1307.9 C1240.1,1309.0 1246.1,1305.9 1247.7,1307.9 C1249.3,1309.9 1249.3,1326.1 1250.4,1322.7 C1251.5,1319.3 1254.5,1285.4 1255.8,1282.3 C1257.1,1279.2 1258.6,1296.4 1259.9,1299.8 C1261.2,1303.2 1263.6,1306.5 1265.2,1307.9 C1266.8,1309.3 1270.5,1312.0 1272.0,1310.6 C1273.5,1309.2 1274.7,1295.3 1276.7,1297.1 C1278.7,1298.9 1284.2,1320.1 1286.8,1324.0 C1289.4,1327.9 1294.3,1327.7 1296.2,1326.7 C1298.1,1325.7 1299.1,1317.3 1300.9,1316.4 C1302.7,1315.5 1307.6,1332.0 1309.5,1320.3 C1311.4,1308.6 1313.9,1233.9 1315.0,1228.3 C1316.1,1222.7 1317.1,1274.9 1318.1,1278.2 C1319.1,1281.5 1321.7,1257.6 1322.8,1253.2 C1323.9,1248.8 1325.7,1245.5 1326.7,1245.4 C1327.7,1245.3 1329.1,1252.8 1330.2,1252.5 C1331.3,1252.2 1333.3,1240.7 1335.2,1243.1 C1337.1,1245.5 1342.6,1262.1 1344.6,1270.4 C1346.6,1278.7 1349.1,1302.0 1350.1,1305.5 C1351.1,1309.0 1351.3,1295.5 1352.4,1296.9 C1353.5,1298.3 1356.8,1313.0 1358.7,1315.7 C1360.6,1318.4 1364.6,1312.8 1366.3,1317.3 C1368.0,1321.8 1370.3,1346.0 1371.7,1349.6 C1373.1,1353.2 1375.7,1346.7 1377.1,1344.2 C1378.5,1341.7 1381.1,1331.3 1382.5,1330.8 C1383.9,1330.3 1386.3,1339.5 1387.9,1340.2 C1389.5,1340.9 1393.7,1336.7 1394.6,1336.2" fill="none" stroke="#3a3f88" stroke-width="1.2" stroke-dasharray="4.5 4" clip-path="url(#clipF)"/>
<path d="M865.9,1343.2 C866.7,1345.5 870.2,1357.1 871.8,1360.8 C873.4,1364.5 876.1,1370.6 877.7,1370.6 C879.3,1370.6 882.2,1358.7 883.5,1360.8 C884.8,1362.9 885.8,1380.7 887.4,1386.2 C889.0,1391.7 893.3,1400.7 895.3,1401.9 C897.3,1403.1 900.4,1394.7 902.1,1395.0 C903.8,1395.3 906.3,1403.9 908.0,1403.8 C909.7,1403.7 912.4,1394.3 914.9,1394.0 C917.4,1393.7 923.9,1403.2 926.6,1401.9 C929.3,1400.6 933.3,1385.6 935.4,1384.3 C937.5,1383.0 940.7,1387.9 942.3,1392.1 C943.9,1396.3 945.9,1415.3 947.2,1415.6 C948.5,1415.9 950.3,1395.1 952.0,1394.0 C953.7,1392.9 957.8,1406.4 959.9,1407.7 C962.0,1409.0 965.5,1410.3 967.7,1403.8 C969.9,1397.3 974.4,1363.0 976.5,1358.8 C978.6,1354.6 981.7,1368.3 983.4,1372.5 C985.1,1376.7 987.1,1389.6 989.2,1390.1 C991.3,1390.6 996.6,1378.0 999.0,1376.4 C1001.4,1374.8 1005.1,1381.8 1006.9,1378.4 C1008.7,1375.0 1011.1,1354.4 1012.7,1351.0 C1014.3,1347.6 1016.5,1349.0 1018.6,1352.9 C1020.7,1356.8 1025.8,1375.9 1028.4,1380.3 C1031.0,1384.7 1035.9,1380.7 1038.2,1386.2 C1040.5,1391.7 1044.4,1418.6 1046.0,1421.5 C1047.6,1424.4 1048.7,1407.7 1050.1,1408.1 C1051.5,1408.5 1054.6,1422.3 1056.5,1424.7 C1058.4,1427.1 1062.5,1426.7 1064.1,1426.0 C1065.7,1425.3 1067.2,1415.0 1068.6,1419.6 C1070.0,1424.2 1072.5,1453.8 1074.4,1460.4 C1076.3,1467.0 1080.8,1470.9 1082.7,1469.4 C1084.6,1467.9 1087.1,1451.6 1088.4,1449.0 C1089.7,1446.4 1090.8,1454.1 1092.2,1450.2 C1093.6,1446.3 1097.1,1426.6 1098.6,1419.6 C1100.1,1412.6 1101.9,1399.8 1103.1,1397.9 C1104.3,1396.0 1106.0,1405.2 1107.6,1405.5 C1109.2,1405.8 1113.3,1401.9 1115.2,1400.4 C1117.1,1398.9 1120.1,1396.4 1121.6,1394.0 C1123.1,1391.6 1125.3,1384.3 1126.7,1382.6 C1128.1,1380.9 1130.3,1387.9 1131.8,1381.3 C1133.3,1374.7 1136.3,1330.9 1138.2,1332.8 C1140.1,1334.7 1144.4,1390.9 1145.9,1395.3 C1147.4,1399.7 1148.3,1367.4 1149.1,1366.0 C1149.9,1364.6 1151.3,1387.7 1152.2,1385.1 C1153.1,1382.5 1154.4,1348.7 1156.1,1346.8 C1157.8,1344.9 1162.8,1369.6 1165.0,1371.1 C1167.2,1372.6 1171.3,1362.4 1172.7,1358.3 C1174.1,1354.2 1173.8,1342.4 1175.2,1340.4 C1176.6,1338.4 1181.2,1343.5 1182.9,1343.0 C1184.6,1342.5 1186.6,1336.8 1188.0,1336.6 C1189.4,1336.4 1191.6,1342.6 1193.1,1341.7 C1194.6,1340.8 1197.6,1331.1 1199.5,1330.2 C1201.4,1329.3 1205.6,1332.4 1207.1,1335.3 C1208.6,1338.2 1209.7,1358.6 1211.0,1351.9 C1212.3,1345.2 1215.2,1284.8 1216.7,1285.2 C1218.2,1285.6 1220.3,1354.0 1222.1,1355.1 C1223.9,1356.2 1228.6,1301.5 1230.2,1293.1 C1231.8,1284.7 1233.2,1290.9 1234.3,1291.8 C1235.4,1292.7 1236.5,1298.8 1238.3,1299.9 C1240.1,1301.0 1246.1,1297.9 1247.7,1299.9 C1249.3,1301.9 1249.3,1318.1 1250.4,1314.7 C1251.5,1311.3 1254.5,1277.4 1255.8,1274.3 C1257.1,1271.2 1258.6,1288.4 1259.9,1291.8 C1261.2,1295.2 1263.6,1298.5 1265.2,1299.9 C1266.8,1301.3 1270.5,1304.0 1272.0,1302.6 C1273.5,1301.2 1274.7,1287.3 1276.7,1289.1 C1278.7,1290.9 1284.2,1312.1 1286.8,1316.0 C1289.4,1319.9 1294.3,1319.7 1296.2,1318.7 C1298.1,1317.7 1299.1,1309.3 1300.9,1308.4 C1302.7,1307.5 1307.6,1324.0 1309.5,1312.3 C1311.4,1300.6 1313.9,1225.9 1315.0,1220.3 C1316.1,1214.7 1317.1,1266.9 1318.1,1270.2 C1319.1,1273.5 1321.7,1249.6 1322.8,1245.2 C1323.9,1240.8 1325.7,1237.5 1326.7,1237.4 C1327.7,1237.3 1329.1,1244.8 1330.2,1244.5 C1331.3,1244.2 1333.3,1232.7 1335.2,1235.1 C1337.1,1237.5 1342.6,1254.1 1344.6,1262.4 C1346.6,1270.7 1349.1,1294.0 1350.1,1297.5 C1351.1,1301.0 1351.3,1287.5 1352.4,1288.9 C1353.5,1290.3 1356.8,1305.0 1358.7,1307.7 C1360.6,1310.4 1364.6,1304.8 1366.3,1309.3 C1368.0,1313.8 1370.3,1338.0 1371.7,1341.6 C1373.1,1345.2 1375.7,1338.7 1377.1,1336.2 C1378.5,1333.7 1381.1,1323.3 1382.5,1322.8 C1383.9,1322.3 1386.3,1331.5 1387.9,1332.2 C1389.5,1332.9 1393.7,1328.7 1394.6,1328.2" fill="none" stroke="#2b36a0" stroke-width="2.8" stroke-linejoin="round" stroke-linecap="round" clip-path="url(#clipF)"/>
<line x1="137.0" y1="17.0" x2="137.0" y2="445.5" stroke="#505050" stroke-width="1.3"/>
<line x1="137.0" y1="17.0" x2="665.0" y2="17.0" stroke="#505050" stroke-width="1.3"/>
<line x1="665.0" y1="17.0" x2="665.0" y2="445.5" stroke="#505050" stroke-width="1.3"/>
<line x1="137.0" y1="445.5" x2="665.0" y2="445.5" stroke="#505050" stroke-width="1.3"/>
<line x1="170.0" y1="445.5" x2="170.0" y2="440.5" stroke="#505050" stroke-width="1"/>
<line x1="170.0" y1="17.0" x2="170.0" y2="22.0" stroke="#505050" stroke-width="1"/>
<line x1="302.0" y1="445.5" x2="302.0" y2="440.5" stroke="#505050" stroke-width="1"/>
<line x1="302.0" y1="17.0" x2="302.0" y2="22.0" stroke="#505050" stroke-width="1"/>
<line x1="434.0" y1="445.5" x2="434.0" y2="440.5" stroke="#505050" stroke-width="1"/>
<line x1="434.0" y1="17.0" x2="434.0" y2="22.0" stroke="#505050" stroke-width="1"/>
<line x1="566.0" y1="445.5" x2="566.0" y2="440.5" stroke="#505050" stroke-width="1"/>
<line x1="566.0" y1="17.0" x2="566.0" y2="22.0" stroke="#505050" stroke-width="1"/>
<line x1="137.0" y1="102.7" x2="142.0" y2="102.7" stroke="#505050" stroke-width="1"/>
<line x1="665.0" y1="102.7" x2="660.0" y2="102.7" stroke="#505050" stroke-width="1"/>
<line x1="137.0" y1="188.4" x2="142.0" y2="188.4" stroke="#505050" stroke-width="1"/>
<line x1="665.0" y1="188.4" x2="660.0" y2="188.4" stroke="#505050" stroke-width="1"/>
<line x1="137.0" y1="274.1" x2="142.0" y2="274.1" stroke="#505050" stroke-width="1"/>
<line x1="665.0" y1="274.1" x2="660.0" y2="274.1" stroke="#505050" stroke-width="1"/>
<line x1="137.0" y1="359.8" x2="142.0" y2="359.8" stroke="#505050" stroke-width="1"/>
<line x1="665.0" y1="359.8" x2="660.0" y2="359.8" stroke="#505050" stroke-width="1"/>
<line x1="849.0" y1="17.0" x2="849.0" y2="445.5" stroke="#505050" stroke-width="1.3"/>
<line x1="849.0" y1="17.0" x2="1394.5" y2="17.0" stroke="#505050" stroke-width="1.3"/>
<line x1="1394.5" y1="17.0" x2="1394.5" y2="445.5" stroke="#505050" stroke-width="1.3"/>
<line x1="849.0" y1="445.5" x2="1394.5" y2="445.5" stroke="#505050" stroke-width="1.3"/>
<line x1="883.1" y1="445.5" x2="883.1" y2="440.5" stroke="#505050" stroke-width="1"/>
<line x1="883.1" y1="17.0" x2="883.1" y2="22.0" stroke="#505050" stroke-width="1"/>
<line x1="1019.5" y1="445.5" x2="1019.5" y2="440.5" stroke="#505050" stroke-width="1"/>
<line x1="1019.5" y1="17.0" x2="1019.5" y2="22.0" stroke="#505050" stroke-width="1"/>
<line x1="1155.8" y1="445.5" x2="1155.8" y2="440.5" stroke="#505050" stroke-width="1"/>
<line x1="1155.8" y1="17.0" x2="1155.8" y2="22.0" stroke="#505050" stroke-width="1"/>
<line x1="1292.2" y1="445.5" x2="1292.2" y2="440.5" stroke="#505050" stroke-width="1"/>
<line x1="1292.2" y1="17.0" x2="1292.2" y2="22.0" stroke="#505050" stroke-width="1"/>
<line x1="849.0" y1="102.7" x2="854.0" y2="102.7" stroke="#505050" stroke-width="1"/>
<line x1="1394.5" y1="102.7" x2="1389.5" y2="102.7" stroke="#505050" stroke-width="1"/>
<line x1="849.0" y1="188.4" x2="854.0" y2="188.4" stroke="#505050" stroke-width="1"/>
<line x1="1394.5" y1="188.4" x2="1389.5" y2="188.4" stroke="#505050" stroke-width="1"/>
<line x1="849.0" y1="274.1" x2="854.0" y2="274.1" stroke="#505050" stroke-width="1"/>
<line x1="1394.5" y1="274.1" x2="1389.5" y2="274.1" stroke="#505050" stroke-width="1"/>
<line x1="849.0" y1="359.8" x2="854.0" y2="359.8" stroke="#505050" stroke-width="1"/>
<line x1="1394.5" y1="359.8" x2="1389.5" y2="359.8" stroke="#505050" stroke-width="1"/>
<line x1="143.0" y1="565.0" x2="143.0" y2="991.0" stroke="#505050" stroke-width="1.3"/>
<line x1="143.0" y1="565.0" x2="665.0" y2="565.0" stroke="#505050" stroke-width="1.3"/>
<line x1="665.0" y1="565.0" x2="665.0" y2="991.0" stroke="#505050" stroke-width="1.3"/>
<line x1="143.0" y1="991.0" x2="665.0" y2="991.0" stroke="#505050" stroke-width="1.3"/>
<line x1="175.6" y1="991.0" x2="175.6" y2="986.0" stroke="#505050" stroke-width="1"/>
<line x1="175.6" y1="565.0" x2="175.6" y2="570.0" stroke="#505050" stroke-width="1"/>
<line x1="306.1" y1="991.0" x2="306.1" y2="986.0" stroke="#505050" stroke-width="1"/>
<line x1="306.1" y1="565.0" x2="306.1" y2="570.0" stroke="#505050" stroke-width="1"/>
<line x1="436.6" y1="991.0" x2="436.6" y2="986.0" stroke="#505050" stroke-width="1"/>
<line x1="436.6" y1="565.0" x2="436.6" y2="570.0" stroke="#505050" stroke-width="1"/>
<line x1="567.1" y1="991.0" x2="567.1" y2="986.0" stroke="#505050" stroke-width="1"/>
<line x1="567.1" y1="565.0" x2="567.1" y2="570.0" stroke="#505050" stroke-width="1"/>
<line x1="143.0" y1="636.0" x2="148.0" y2="636.0" stroke="#505050" stroke-width="1"/>
<line x1="665.0" y1="636.0" x2="660.0" y2="636.0" stroke="#505050" stroke-width="1"/>
<line x1="143.0" y1="707.0" x2="148.0" y2="707.0" stroke="#505050" stroke-width="1"/>
<line x1="665.0" y1="707.0" x2="660.0" y2="707.0" stroke="#505050" stroke-width="1"/>
<line x1="143.0" y1="778.0" x2="148.0" y2="778.0" stroke="#505050" stroke-width="1"/>
<line x1="665.0" y1="778.0" x2="660.0" y2="778.0" stroke="#505050" stroke-width="1"/>
<line x1="143.0" y1="849.0" x2="148.0" y2="849.0" stroke="#505050" stroke-width="1"/>
<line x1="665.0" y1="849.0" x2="660.0" y2="849.0" stroke="#505050" stroke-width="1"/>
<line x1="143.0" y1="920.0" x2="148.0" y2="920.0" stroke="#505050" stroke-width="1"/>
<line x1="665.0" y1="920.0" x2="660.0" y2="920.0" stroke="#505050" stroke-width="1"/>
<line x1="866.5" y1="565.0" x2="866.5" y2="991.0" stroke="#505050" stroke-width="1.3"/>
<line x1="866.5" y1="565.0" x2="1394.5" y2="565.0" stroke="#505050" stroke-width="1.3"/>
<line x1="1394.5" y1="565.0" x2="1394.5" y2="991.0" stroke="#505050" stroke-width="1.3"/>
<line x1="866.5" y1="991.0" x2="1394.5" y2="991.0" stroke="#505050" stroke-width="1.3"/>
<line x1="899.5" y1="991.0" x2="899.5" y2="986.0" stroke="#505050" stroke-width="1"/>
<line x1="899.5" y1="565.0" x2="899.5" y2="570.0" stroke="#505050" stroke-width="1"/>
<line x1="1031.5" y1="991.0" x2="1031.5" y2="986.0" stroke="#505050" stroke-width="1"/>
<line x1="1031.5" y1="565.0" x2="1031.5" y2="570.0" stroke="#505050" stroke-width="1"/>
<line x1="1163.5" y1="991.0" x2="1163.5" y2="986.0" stroke="#505050" stroke-width="1"/>
<line x1="1163.5" y1="565.0" x2="1163.5" y2="570.0" stroke="#505050" stroke-width="1"/>
<line x1="1295.5" y1="991.0" x2="1295.5" y2="986.0" stroke="#505050" stroke-width="1"/>
<line x1="1295.5" y1="565.0" x2="1295.5" y2="570.0" stroke="#505050" stroke-width="1"/>
<line x1="866.5" y1="614.3" x2="871.5" y2="614.3" stroke="#505050" stroke-width="1"/>
<line x1="1394.5" y1="614.3" x2="1389.5" y2="614.3" stroke="#505050" stroke-width="1"/>
<line x1="866.5" y1="740.0" x2="871.5" y2="740.0" stroke="#505050" stroke-width="1"/>
<line x1="1394.5" y1="740.0" x2="1389.5" y2="740.0" stroke="#505050" stroke-width="1"/>
<line x1="866.5" y1="865.5" x2="871.5" y2="865.5" stroke="#505050" stroke-width="1"/>
<line x1="1394.5" y1="865.5" x2="1389.5" y2="865.5" stroke="#505050" stroke-width="1"/>
<line x1="118.0" y1="1111.0" x2="118.0" y2="1538.6" stroke="#c0c0c0" stroke-width="1.4"/>
<line x1="118.0" y1="1111.0" x2="665.0" y2="1111.0" stroke="#a8a8a8" stroke-width="1.4"/>
<line x1="665.0" y1="1111.0" x2="665.0" y2="1538.6" stroke="#5a5a5a" stroke-width="1.4"/>
<line x1="118.0" y1="1538.6" x2="665.0" y2="1538.6" stroke="#8a8a8a" stroke-width="1.4"/>
<line x1="152.2" y1="1538.6" x2="152.2" y2="1533.6" stroke="#8a8a8a" stroke-width="1"/>
<line x1="152.2" y1="1111.0" x2="152.2" y2="1116.0" stroke="#a8a8a8" stroke-width="1"/>
<line x1="288.9" y1="1538.6" x2="288.9" y2="1533.6" stroke="#8a8a8a" stroke-width="1"/>
<line x1="288.9" y1="1111.0" x2="288.9" y2="1116.0" stroke="#a8a8a8" stroke-width="1"/>
<line x1="425.7" y1="1538.6" x2="425.7" y2="1533.6" stroke="#8a8a8a" stroke-width="1"/>
<line x1="425.7" y1="1111.0" x2="425.7" y2="1116.0" stroke="#a8a8a8" stroke-width="1"/>
<line x1="562.4" y1="1538.6" x2="562.4" y2="1533.6" stroke="#8a8a8a" stroke-width="1"/>
<line x1="562.4" y1="1111.0" x2="562.4" y2="1116.0" stroke="#a8a8a8" stroke-width="1"/>
<line x1="118.0" y1="1196.5" x2="123.0" y2="1196.5" stroke="#c0c0c0" stroke-width="1"/>
<line x1="665.0" y1="1196.5" x2="660.0" y2="1196.5" stroke="#5a5a5a" stroke-width="1"/>
<line x1="118.0" y1="1282.0" x2="123.0" y2="1282.0" stroke="#c0c0c0" stroke-width="1"/>
<line x1="665.0" y1="1282.0" x2="660.0" y2="1282.0" stroke="#5a5a5a" stroke-width="1"/>
<line x1="118.0" y1="1367.6" x2="123.0" y2="1367.6" stroke="#c0c0c0" stroke-width="1"/>
<line x1="665.0" y1="1367.6" x2="660.0" y2="1367.6" stroke="#5a5a5a" stroke-width="1"/>
<line x1="118.0" y1="1453.1" x2="123.0" y2="1453.1" stroke="#c0c0c0" stroke-width="1"/>
<line x1="665.0" y1="1453.1" x2="660.0" y2="1453.1" stroke="#5a5a5a" stroke-width="1"/>
<line x1="866.0" y1="1111.0" x2="866.0" y2="1538.7" stroke="#707070" stroke-width="1.4"/>
<line x1="866.0" y1="1111.0" x2="1394.5" y2="1111.0" stroke="#a8a8a8" stroke-width="1.4"/>
<line x1="1394.5" y1="1111.0" x2="1394.5" y2="1538.7" stroke="#6a6a6a" stroke-width="1.4"/>
<line x1="866.0" y1="1538.7" x2="1394.5" y2="1538.7" stroke="#8a8a8a" stroke-width="1.4"/>
<line x1="899.0" y1="1538.7" x2="899.0" y2="1533.7" stroke="#8a8a8a" stroke-width="1"/>
<line x1="899.0" y1="1111.0" x2="899.0" y2="1116.0" stroke="#a8a8a8" stroke-width="1"/>
<line x1="1031.2" y1="1538.7" x2="1031.2" y2="1533.7" stroke="#8a8a8a" stroke-width="1"/>
<line x1="1031.2" y1="1111.0" x2="1031.2" y2="1116.0" stroke="#a8a8a8" stroke-width="1"/>
<line x1="1163.3" y1="1538.7" x2="1163.3" y2="1533.7" stroke="#8a8a8a" stroke-width="1"/>
<line x1="1163.3" y1="1111.0" x2="1163.3" y2="1116.0" stroke="#a8a8a8" stroke-width="1"/>
<line x1="1295.4" y1="1538.7" x2="1295.4" y2="1533.7" stroke="#8a8a8a" stroke-width="1"/>
<line x1="1295.4" y1="1111.0" x2="1295.4" y2="1116.0" stroke="#a8a8a8" stroke-width="1"/>
<line x1="866.0" y1="1182.3" x2="871.0" y2="1182.3" stroke="#707070" stroke-width="1"/>
<line x1="1394.5" y1="1182.3" x2="1389.5" y2="1182.3" stroke="#6a6a6a" stroke-width="1"/>
<line x1="866.0" y1="1253.6" x2="871.0" y2="1253.6" stroke="#707070" stroke-width="1"/>
<line x1="1394.5" y1="1253.6" x2="1389.5" y2="1253.6" stroke="#6a6a6a" stroke-width="1"/>
<line x1="866.0" y1="1324.8" x2="871.0" y2="1324.8" stroke="#707070" stroke-width="1"/>
<line x1="1394.5" y1="1324.8" x2="1389.5" y2="1324.8" stroke="#6a6a6a" stroke-width="1"/>
<line x1="866.0" y1="1396.1" x2="871.0" y2="1396.1" stroke="#707070" stroke-width="1"/>
<line x1="1394.5" y1="1396.1" x2="1389.5" y2="1396.1" stroke="#6a6a6a" stroke-width="1"/>
<line x1="866.0" y1="1467.4" x2="871.0" y2="1467.4" stroke="#707070" stroke-width="1"/>
<line x1="1394.5" y1="1467.4" x2="1389.5" y2="1467.4" stroke="#6a6a6a" stroke-width="1"/>
<text transform="translate(0.00,24.50) scale(1.0025,1)" font-family='"Liberation Sans", sans-serif' font-size="27.91" font-style="normal" font-weight="bold" fill="#000">A</text>
<text transform="translate(741.60,23.20) scale(0.9898,1)" font-family='"Liberation Sans", sans-serif' font-size="26.31" font-style="normal" font-weight="bold" fill="#000">B</text>
<text transform="translate(1.40,559.25) scale(1.0678,1)" font-family='"Liberation Sans", sans-serif' font-size="25.42" font-style="normal" font-weight="bold" fill="#000">C</text>
<text transform="translate(741.00,559.00) scale(1.0058,1)" font-family='"Liberation Sans", sans-serif' font-size="26.16" font-style="normal" font-weight="bold" fill="#000">D</text>
<text transform="translate(1.30,1112.30) scale(0.9638,1)" font-family='"Liberation Sans", sans-serif' font-size="26.60" font-style="normal" font-weight="bold" fill="#000">E</text>
<text transform="translate(745.80,1112.30) scale(0.9660,1)" font-family='"Liberation Sans", sans-serif' font-size="26.60" font-style="normal" font-weight="bold" fill="#000">F</text>
<text transform="translate(111.70,27.70) scale(0.7898,1)" font-family='"Liberation Serif", serif' font-size="29.63" font-style="normal" font-weight="normal" fill="#383838">0</text>
<text transform="translate(61.00,113.29) scale(1.0000,1)" font-family='"Liberation Serif", serif' font-size="29.46" font-style="normal" font-weight="normal" fill="#383838" letter-spacing="0.29">-0.05</text>
<text transform="translate(78.50,198.99) scale(1.0000,1)" font-family='"Liberation Serif", serif' font-size="29.46" font-style="normal" font-weight="normal" fill="#383838" letter-spacing="0.22">-0.1</text>
<text transform="translate(61.00,284.69) scale(1.0000,1)" font-family='"Liberation Serif", serif' font-size="29.46" font-style="normal" font-weight="normal" fill="#383838" letter-spacing="0.29">-0.15</text>
<text transform="translate(78.50,370.39) scale(1.0000,1)" font-family='"Liberation Serif", serif' font-size="29.46" font-style="normal" font-weight="normal" fill="#383838" letter-spacing="0.79">-0.2</text>
<text transform="translate(61.00,456.09) scale(1.0000,1)" font-family='"Liberation Serif", serif' font-size="29.46" font-style="normal" font-weight="normal" fill="#383838" letter-spacing="0.29">-0.25</text>
<text transform="translate(137.40,480.30) scale(0.8521,1)" font-family='"Liberation Serif", serif' font-size="29.93" font-style="normal" font-weight="normal" fill="#383838">1920</text>
<text transform="translate(269.50,480.30) scale(0.8521,1)" font-family='"Liberation Serif", serif' font-size="29.93" font-style="normal" font-weight="normal" fill="#383838">1940</text>
<text transform="translate(401.00,480.30) scale(0.8521,1)" font-family='"Liberation Serif", serif' font-size="29.93" font-style="normal" font-weight="normal" fill="#383838">1960</text>
<text transform="translate(532.50,480.30) scale(0.8521,1)" font-family='"Liberation Serif", serif' font-size="29.93" font-style="normal" font-weight="normal" fill="#383838">1980</text>
<text transform="translate(368.40,518.06) scale(0.7500,1)" font-family='"Liberation Serif", serif' font-size="34.44" font-style="normal" font-weight="normal" fill="#383838" letter-spacing="4.00">Year</text>
<text transform="translate(34.87,329.70) rotate(-90) scale(0.7647,1)" font-family='"Liberation Serif", serif' font-size="32.99" font-style="normal" font-weight="normal" fill="#383838">a</text>
<text transform="translate(47.60,317.90) rotate(-90) scale(1.0599,1)" font-family='"Liberation Serif", serif' font-size="23.78" font-style="normal" font-weight="normal" fill="#383838">hh</text>
<text transform="translate(34.51,266.80) rotate(-90) scale(0.8000,1)" font-family='"Liberation Serif", serif' font-size="32.00" font-style="normal" font-weight="normal" fill="#383838" letter-spacing="3.62">[1/month]</text>
<text transform="translate(790.50,27.59) scale(1.0000,1)" font-family='"Liberation Serif", serif' font-size="29.46" font-style="normal" font-weight="normal" fill="#383838" letter-spacing="1.16">-0.6</text>
<text transform="translate(790.50,113.29) scale(1.0000,1)" font-family='"Liberation Serif", serif' font-size="29.46" font-style="normal" font-weight="normal" fill="#383838" letter-spacing="1.16">-0.8</text>
<text transform="translate(817.50,199.40) scale(0.8636,1)" font-family='"Liberation Serif", serif' font-size="30.30" font-style="normal" font-weight="normal" fill="#383838">-1</text>
<text transform="translate(791.70,284.69) scale(1.0000,1)" font-family='"Liberation Serif", serif' font-size="29.59" font-style="normal" font-weight="normal" fill="#383838" letter-spacing="0.69">-1.2</text>
<text transform="translate(790.50,370.38) scale(1.0000,1)" font-family='"Liberation Serif", serif' font-size="29.67" font-style="normal" font-weight="normal" fill="#383838" letter-spacing="1.04">-1.4</text>
<text transform="translate(790.50,456.09) scale(1.0000,1)" font-family='"Liberation Serif", serif' font-size="29.59" font-style="normal" font-weight="normal" fill="#383838" letter-spacing="1.09">-1.6</text>
<text transform="translate(850.00,481.18) scale(0.8163,1)" font-family='"Liberation Serif", serif' font-size="31.85" font-style="normal" font-weight="normal" fill="#383838">1920</text>
<text transform="translate(987.70,481.18) scale(0.8163,1)" font-family='"Liberation Serif", serif' font-size="31.85" font-style="normal" font-weight="normal" fill="#383838">1940</text>
<text transform="translate(1122.80,481.18) scale(0.8163,1)" font-family='"Liberation Serif", serif' font-size="31.85" font-style="normal" font-weight="normal" fill="#383838">1960</text>
<text transform="translate(1260.20,481.18) scale(0.8163,1)" font-family='"Liberation Serif", serif' font-size="31.85" font-style="normal" font-weight="normal" fill="#383838">1980</text>
<text transform="translate(1088.20,519.04) scale(0.7500,1)" font-family='"Liberation Serif", serif' font-size="35.79" font-style="normal" font-weight="normal" fill="#383838" letter-spacing="3.61">Year</text>
<text transform="translate(764.58,369.10) rotate(-90) scale(1.0228,1)" font-family='"Liberation Serif", serif' font-size="32.15" font-style="normal" font-weight="normal" fill="#383838">a</text>
<text transform="translate(774.60,352.90) rotate(-90) scale(1.4437,1)" font-family='"Liberation Serif", serif' font-size="17.58" font-style="normal" font-weight="normal" fill="#383838">hP</text>
<text transform="translate(762.63,306.60) rotate(-90) scale(0.8000,1)" font-family='"Liberation Serif", serif' font-size="29.44" font-style="normal" font-weight="normal" fill="#383838" letter-spacing="4.66">[m/(°C·month)]</text>
<text transform="translate(58.50,575.58) scale(0.9554,1)" font-family='"Liberation Serif", serif' font-size="30.19" font-style="normal" font-weight="normal" fill="#383838">0.035</text>
<text transform="translate(74.80,646.58) scale(0.9880,1)" font-family='"Liberation Serif", serif' font-size="30.19" font-style="normal" font-weight="normal" fill="#383838">0.03</text>
<text transform="translate(58.50,717.58) scale(0.9554,1)" font-family='"Liberation Serif", serif' font-size="30.19" font-style="normal" font-weight="normal" fill="#383838">0.025</text>
<text transform="translate(74.80,788.58) scale(0.9880,1)" font-family='"Liberation Serif", serif' font-size="30.19" font-style="normal" font-weight="normal" fill="#383838">0.02</text>
<text transform="translate(58.60,859.58) scale(0.9569,1)" font-family='"Liberation Serif", serif' font-size="30.19" font-style="normal" font-weight="normal" fill="#383838">0.015</text>
<text transform="translate(75.00,930.58) scale(0.9388,1)" font-family='"Liberation Serif", serif' font-size="30.19" font-style="normal" font-weight="normal" fill="#383838">0.01</text>
<text transform="translate(58.50,1001.58) scale(0.9554,1)" font-family='"Liberation Serif", serif' font-size="30.19" font-style="normal" font-weight="normal" fill="#383838">0.005</text>
<text transform="translate(144.60,1027.20) scale(0.8595,1)" font-family='"Liberation Serif", serif' font-size="30.07" font-style="normal" font-weight="normal" fill="#383838">1920</text>
<text transform="translate(273.60,1027.20) scale(0.8595,1)" font-family='"Liberation Serif", serif' font-size="30.07" font-style="normal" font-weight="normal" fill="#383838">1940</text>
<text transform="translate(403.80,1027.20) scale(0.8595,1)" font-family='"Liberation Serif", serif' font-size="30.07" font-style="normal" font-weight="normal" fill="#383838">1960</text>
<text transform="translate(534.00,1027.20) scale(0.8595,1)" font-family='"Liberation Serif", serif' font-size="30.07" font-style="normal" font-weight="normal" fill="#383838">1980</text>
<text transform="translate(370.50,1064.35) scale(0.7500,1)" font-family='"Liberation Serif", serif' font-size="34.59" font-style="normal" font-weight="normal" fill="#383838" letter-spacing="4.31">Year</text>
<text transform="translate(34.47,918.20) rotate(-90) scale(0.7735,1)" font-family='"Liberation Serif", serif' font-size="33.19" font-style="normal" font-weight="normal" fill="#383838">a</text>
<text transform="translate(48.20,900.80) rotate(-90) scale(0.8234,1)" font-family='"Liberation Serif", serif' font-size="25.07" font-style="normal" font-weight="normal" fill="#383838">Ph</text>
<text transform="translate(32.52,853.10) rotate(-90) scale(0.8000,1)" font-family='"Liberation Serif", serif' font-size="29.00" font-style="normal" font-weight="normal" fill="#383838" letter-spacing="4.83">[°C/(m·month)]</text>
<text transform="translate(790.50,624.89) scale(1.0000,1)" font-family='"Liberation Serif", serif' font-size="29.46" font-style="normal" font-weight="normal" fill="#383838" letter-spacing="0.41">-0.05</text>
<text transform="translate(808.50,750.59) scale(1.0000,1)" font-family='"Liberation Serif", serif' font-size="29.46" font-style="normal" font-weight="normal" fill="#383838" letter-spacing="0.29">-0.1</text>
<text transform="translate(790.50,876.09) scale(1.0000,1)" font-family='"Liberation Serif", serif' font-size="29.46" font-style="normal" font-weight="normal" fill="#383838" letter-spacing="0.41">-0.15</text>
<text transform="translate(808.50,1001.59) scale(1.0000,1)" font-family='"Liberation Serif", serif' font-size="29.46" font-style="normal" font-weight="normal" fill="#383838" letter-spacing="0.72">-0.2</text>
<text transform="translate(867.30,1027.20) scale(0.8479,1)" font-family='"Liberation Serif", serif' font-size="30.37" font-style="normal" font-weight="normal" fill="#383838">1920</text>
<text transform="translate(997.50,1027.20) scale(0.8479,1)" font-family='"Liberation Serif", serif' font-size="30.37" font-style="normal" font-weight="normal" fill="#383838">1940</text>
<text transform="translate(1130.00,1027.20) scale(0.8479,1)" font-family='"Liberation Serif", serif' font-size="30.37" font-style="normal" font-weight="normal" fill="#383838">1960</text>
<text transform="translate(1261.70,1027.20) scale(0.8479,1)" font-family='"Liberation Serif", serif' font-size="30.37" font-style="normal" font-weight="normal" fill="#383838">1980</text>
<text transform="translate(1097.00,1064.35) scale(0.7500,1)" font-family='"Liberation Serif", serif' font-size="34.59" font-style="normal" font-weight="normal" fill="#383838" letter-spacing="3.95">Year</text>
<text transform="translate(764.37,879.00) rotate(-90) scale(0.8631,1)" font-family='"Liberation Serif", serif' font-size="33.40" font-style="normal" font-weight="normal" fill="#383838">a</text>
<text transform="translate(777.60,862.30) rotate(-90) scale(0.8497,1)" font-family='"Liberation Serif", serif' font-size="26.56" font-style="normal" font-weight="normal" fill="#383838">PP</text>
<text transform="translate(764.33,814.70) rotate(-90) scale(0.8000,1)" font-family='"Liberation Serif", serif' font-size="31.88" font-style="normal" font-weight="normal" fill="#383838" letter-spacing="3.54">[1/month]</text>
<text transform="translate(68.30,1121.22) scale(1.0213,1)" font-family='"Liberation Sans", sans-serif' font-size="27.82" font-style="normal" font-weight="normal" fill="#202020">3.5</text>
<text transform="translate(93.30,1206.72) scale(0.9373,1)" font-family='"Liberation Sans", sans-serif' font-size="27.82" font-style="normal" font-weight="normal" fill="#202020">3</text>
<text transform="translate(68.30,1292.12) scale(1.0213,1)" font-family='"Liberation Sans", sans-serif' font-size="27.82" font-style="normal" font-weight="normal" fill="#202020">2.5</text>
<text transform="translate(93.30,1377.90) scale(0.9147,1)" font-family='"Liberation Sans", sans-serif' font-size="28.51" font-style="normal" font-weight="normal" fill="#202020">2</text>
<text transform="translate(68.30,1463.02) scale(1.0069,1)" font-family='"Liberation Sans", sans-serif' font-size="28.22" font-style="normal" font-weight="normal" fill="#202020">1.5</text>
<text transform="translate(94.60,1547.40) scale(0.8291,1)" font-family='"Liberation Sans", sans-serif' font-size="28.63" font-style="normal" font-weight="normal" fill="#202020">1</text>
<text transform="translate(119.90,1572.42) scale(1.0510,1)" font-family='"Liberation Sans", sans-serif' font-size="27.97" font-style="normal" font-weight="normal" fill="#202020">1920</text>
<text transform="translate(256.20,1572.42) scale(1.0510,1)" font-family='"Liberation Sans", sans-serif' font-size="27.97" font-style="normal" font-weight="normal" fill="#202020">1940</text>
<text transform="translate(392.80,1572.42) scale(1.0510,1)" font-family='"Liberation Sans", sans-serif' font-size="27.97" font-style="normal" font-weight="normal" fill="#202020">1960</text>
<text transform="translate(530.20,1572.42) scale(1.0510,1)" font-family='"Liberation Sans", sans-serif' font-size="27.97" font-style="normal" font-weight="normal" fill="#202020">1980</text>
<text transform="translate(359.40,1609.37) scale(0.9614,1)" font-family='"Liberation Sans", sans-serif' font-size="33.09" font-style="normal" font-weight="normal" fill="#202020">Year</text>
<text transform="translate(39.79,1443.70) rotate(-90) scale(1.1921,1)" font-family='"Liberation Sans", sans-serif' font-size="21.00" font-style="italic" font-weight="normal" fill="#202020">σ</text>
<text transform="translate(55.90,1428.60) rotate(-90) scale(1.1153,1)" font-family='"Liberation Sans", sans-serif' font-size="21.93" font-style="normal" font-weight="normal" fill="#202020">h</text>
<text transform="translate(39.41,1404.40) rotate(-90) scale(1.1875,1)" font-family='"Liberation Sans", sans-serif' font-size="28.30" font-style="normal" font-weight="normal" fill="#202020">[m·month</text>
<text transform="translate(27.65,1261.00) rotate(-90) scale(1.0676,1)" font-family='"Liberation Sans", sans-serif' font-size="24.63" font-style="normal" font-weight="normal" fill="#202020">-1/2</text>
<text transform="translate(39.41,1211.10) rotate(-90) scale(0.8645,1)" font-family='"Liberation Sans", sans-serif' font-size="28.30" font-style="normal" font-weight="normal" fill="#202020">]</text>
<text transform="translate(814.10,1121.24) scale(1.0875,1)" font-family='"Liberation Sans", sans-serif' font-size="26.13" font-style="normal" font-weight="normal" fill="#202020">0.5</text>
<text transform="translate(797.00,1192.24) scale(1.1131,1)" font-family='"Liberation Sans", sans-serif' font-size="26.13" font-style="normal" font-weight="normal" fill="#202020">0.45</text>
<text transform="translate(814.10,1264.54) scale(1.0934,1)" font-family='"Liberation Sans", sans-serif' font-size="25.99" font-style="normal" font-weight="normal" fill="#202020">0.4</text>
<text transform="translate(797.00,1334.24) scale(1.1131,1)" font-family='"Liberation Sans", sans-serif' font-size="26.13" font-style="normal" font-weight="normal" fill="#202020">0.35</text>
<text transform="translate(814.10,1406.54) scale(1.0934,1)" font-family='"Liberation Sans", sans-serif' font-size="25.99" font-style="normal" font-weight="normal" fill="#202020">0.3</text>
<text transform="translate(797.00,1476.14) scale(1.1192,1)" font-family='"Liberation Sans", sans-serif' font-size="25.99" font-style="normal" font-weight="normal" fill="#202020">0.25</text>
<text transform="translate(814.10,1547.14) scale(1.0934,1)" font-family='"Liberation Sans", sans-serif' font-size="25.99" font-style="normal" font-weight="normal" fill="#202020">0.2</text>
<text transform="translate(865.80,1572.63) scale(1.0832,1)" font-family='"Liberation Sans", sans-serif' font-size="27.26" font-style="normal" font-weight="normal" fill="#202020">1920</text>
<text transform="translate(998.00,1572.63) scale(1.0832,1)" font-family='"Liberation Sans", sans-serif' font-size="27.26" font-style="normal" font-weight="normal" fill="#202020">1940</text>
<text transform="translate(1130.20,1572.63) scale(1.0832,1)" font-family='"Liberation Sans", sans-serif' font-size="27.26" font-style="normal" font-weight="normal" fill="#202020">1960</text>
<text transform="translate(1262.80,1572.63) scale(1.0832,1)" font-family='"Liberation Sans", sans-serif' font-size="27.26" font-style="normal" font-weight="normal" fill="#202020">1980</text>
<text transform="translate(1097.80,1610.07) scale(0.9602,1)" font-family='"Liberation Sans", sans-serif' font-size="33.24" font-style="normal" font-weight="normal" fill="#202020">Year</text>
<text transform="translate(770.56,1443.70) rotate(-90) scale(1.2413,1)" font-family='"Liberation Sans", sans-serif' font-size="23.98" font-style="italic" font-weight="normal" fill="#202020">σ</text>
<text transform="translate(785.10,1427.00) rotate(-90) scale(0.9738,1)" font-family='"Liberation Sans", sans-serif' font-size="20.78" font-style="normal" font-weight="normal" fill="#202020">P</text>
<text transform="translate(768.61,1407.50) rotate(-90) scale(1.1475,1)" font-family='"Liberation Sans", sans-serif' font-size="28.30" font-style="normal" font-weight="normal" fill="#202020">[°C·month</text>
<text transform="translate(757.65,1259.50) rotate(-90) scale(1.1030,1)" font-family='"Liberation Sans", sans-serif' font-size="24.63" font-style="normal" font-weight="normal" fill="#202020">-1/2</text>
<text transform="translate(768.61,1208.90) rotate(-90) scale(0.8772,1)" font-family='"Liberation Sans", sans-serif' font-size="28.30" font-style="normal" font-weight="normal" fill="#202020">]</text>
<rect x="503.2" y="1668.6" width="462" height="114" fill="none" stroke="#505050" stroke-width="1.5"/>
<line x1="702.2" y1="1668.6" x2="702.2" y2="1782.6" stroke="#303030" stroke-width="2.2"/>
<text transform="translate(518.80,1717.44) scale(0.6431,1)" font-family='"Liberation Serif", serif' font-size="45.68" font-style="normal" font-weight="normal" fill="#d42630">SODA</text>
<text transform="translate(517.10,1771.05) scale(0.7721,1)" font-family='"Liberation Serif", serif' font-size="45.33" font-style="normal" font-weight="normal" fill="#283494">ORA-20C</text>
<line x1="709.6" y1="1699.3" x2="785.2" y2="1699.3" stroke="#000" stroke-width="4"/>
<line x1="709.6" y1="1752.9" x2="785.2" y2="1752.9" stroke="#111" stroke-width="1.5" stroke-dasharray="18.2 11.5"/>
<text transform="translate(791.90,1716.77) scale(0.8000,1)" font-family='"Liberation Serif", serif' font-size="41.75" font-style="normal" font-weight="normal" fill="#000" letter-spacing="7.36">Value</text>
<text transform="translate(791.00,1770.68) scale(0.7000,1)" font-family='"Liberation Serif", serif' font-size="42.19" font-style="normal" font-weight="normal" fill="#000" letter-spacing="13.51">CI limit</text>
</svg>
</body></html>
